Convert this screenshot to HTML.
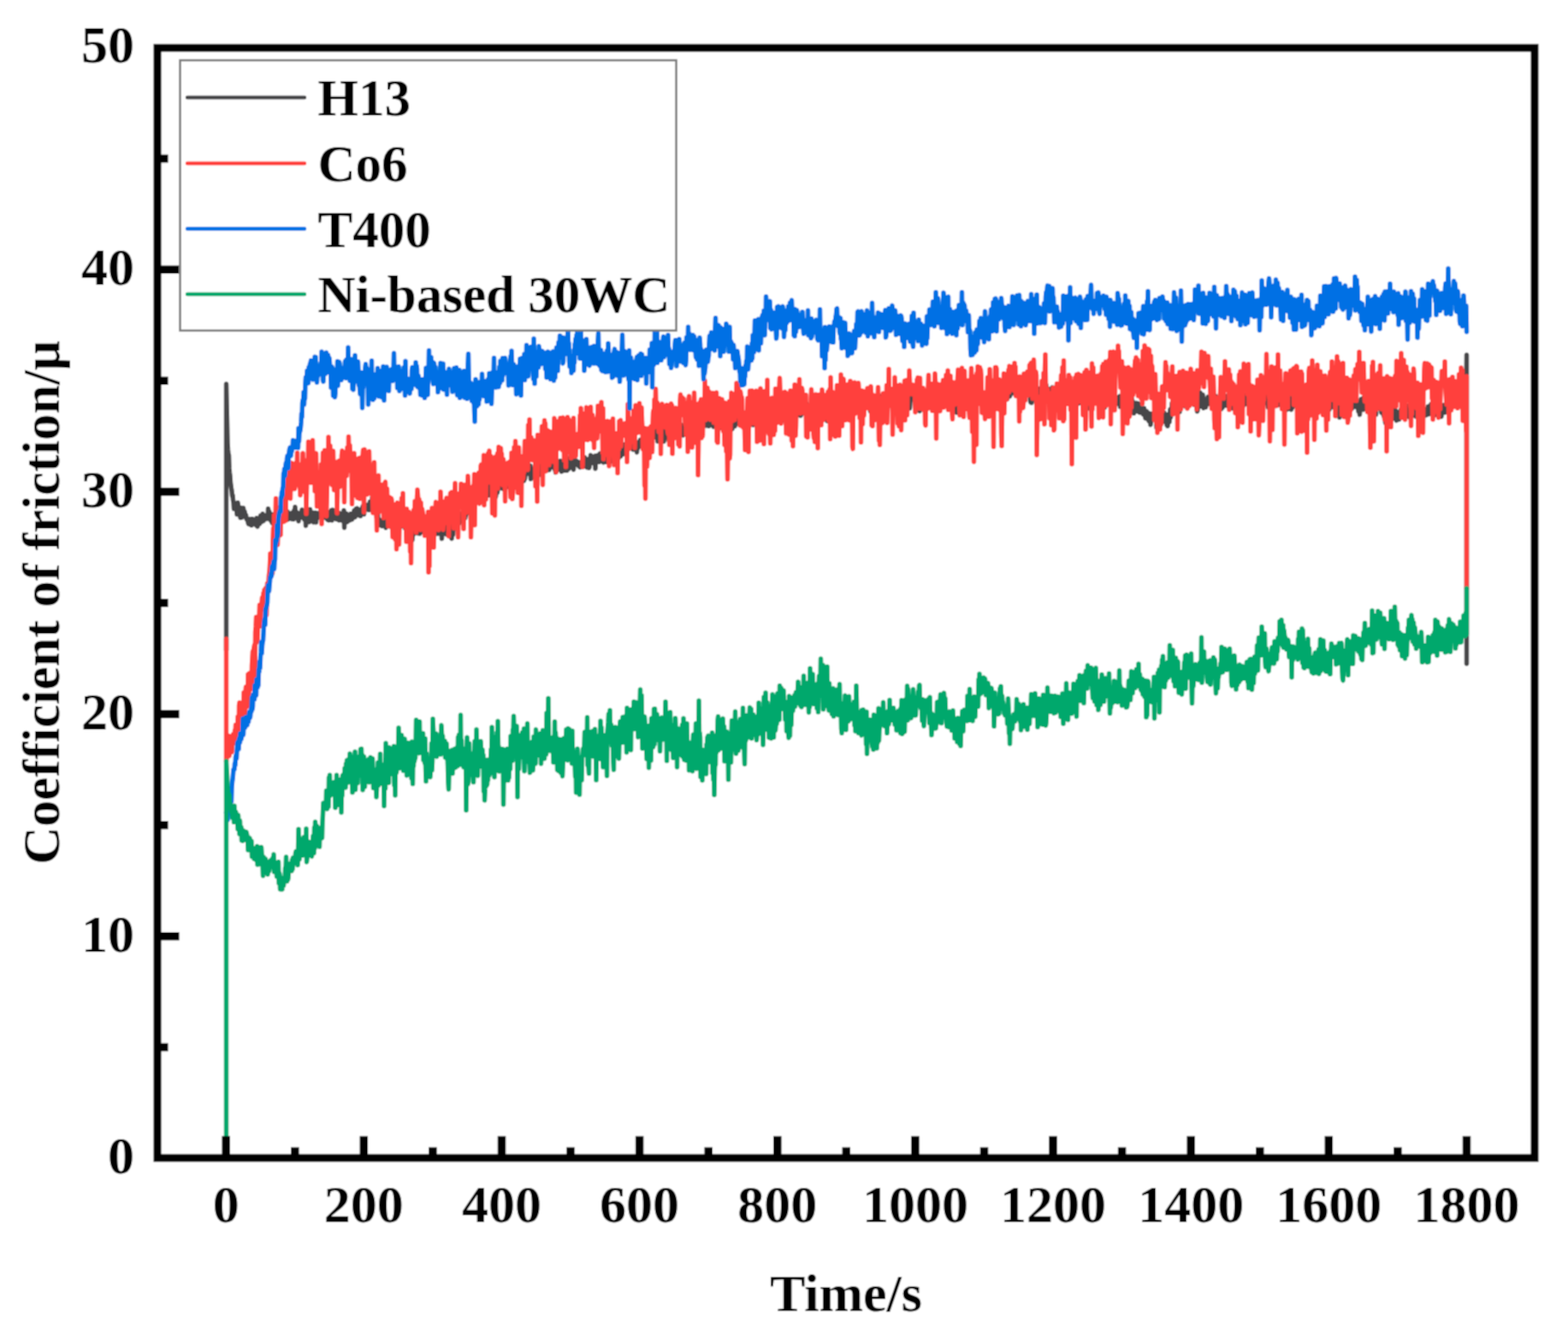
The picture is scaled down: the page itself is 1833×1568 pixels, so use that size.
<!DOCTYPE html>
<html><head><meta charset="utf-8"><title>Coefficient of friction</title>
<style>html,body{margin:0;padding:0;background:#fff;overflow:hidden}svg{display:block}</style></head><body>
<svg width="1833" height="1568" viewBox="0 0 1833 1568" style="font-family:'Liberation Serif','Times New Roman',serif;font-weight:bold">
<defs><filter id="soft" x="0" y="0" width="1" height="1" filterUnits="objectBoundingBox"><feConvolveMatrix order="3" kernelMatrix="1 2 1 2 4 2 1 2 1" divisor="16" edgeMode="duplicate" preserveAlpha="false"/></filter></defs><g filter="url(#soft)">
<rect width="1833" height="1568" fill="#ffffff"/>
<g fill="none" stroke-width="5.5" stroke-linejoin="round" stroke-linecap="round">
<path stroke="#464648" d="M264.5 760.0L264.5 449.0 266.0 517.0 266.0 517.5 266.5 525.9 267.0 531.0 267.5 532.1 268.0 547.2 268.5 552.8 269.0 556.6 269.5 564.5 270.0 567.6 270.5 571.2 271.0 574.2 271.5 579.9 272.0 579.0 272.5 584.9 273.0 587.4 273.5 595.0 274.0 593.7 274.5 593.2 275.0 592.0 275.5 594.5 276.0 596.0 276.5 595.5 277.0 601.6 277.5 600.9 278.0 587.8 278.5 591.0 279.0 597.3 279.5 596.5 280.0 598.9 280.5 598.7 281.0 605.4 281.5 593.7 282.0 596.4 282.5 605.3 283.0 600.5 283.5 601.0 284.0 597.3 284.5 593.9 285.0 601.3 285.5 602.0 286.0 598.1 286.5 601.1 287.0 604.3 287.5 602.2 288.0 606.1 288.5 607.6 289.0 608.1 289.5 606.8 290.0 611.2 290.5 612.6 291.0 610.9 291.5 607.0 292.0 612.8 292.5 608.6 293.0 613.8 293.5 606.9 294.0 614.3 294.5 611.1 295.0 606.8 295.5 610.3 296.0 611.8 296.5 612.7 297.0 608.4 297.5 607.8 298.0 612.4 298.5 609.9 299.0 612.5 299.5 614.4 300.0 605.7 300.5 612.4 301.0 615.8 301.5 610.0 302.0 607.8 302.5 613.1 303.0 610.8 303.5 612.7 304.0 607.7 304.5 603.1 305.0 607.7 305.5 606.1 306.0 610.2 306.5 607.7 307.0 600.7 307.5 602.0 308.0 609.1 308.5 608.0 309.0 602.8 309.5 604.7 310.0 605.9 310.5 605.7 311.0 606.8 311.5 604.3 312.0 602.8 312.5 602.0 313.0 606.7 313.5 594.8 314.0 602.6 314.5 603.5 315.0 598.6 315.5 605.4 316.0 602.4 316.5 608.5 317.0 605.4 317.5 608.8 318.0 611.1 318.5 608.4 319.0 603.9 319.5 601.6 320.0 613.2 320.5 606.2 321.0 603.7 321.5 606.3 322.0 604.5 322.5 607.8 323.0 604.3 323.5 603.7 324.0 600.6 324.5 604.6 325.0 598.9 325.5 604.9 326.0 607.9 326.5 596.9 327.0 593.6 327.5 604.9 328.0 612.0 328.5 599.3 329.0 598.5 329.5 605.3 330.0 600.1 330.5 601.4 331.0 601.9 331.5 605.0 332.0 601.5 332.5 603.8 333.0 601.9 333.5 599.3 334.0 601.0 334.5 598.5 335.0 601.9 335.5 597.8 336.0 598.0 336.5 607.4 337.0 602.2 337.5 602.6 338.0 605.1 338.5 602.1 339.0 603.1 339.5 605.7 340.0 605.3 340.5 600.0 341.0 606.9 341.5 601.4 342.0 599.2 342.5 599.2 343.0 600.5 343.5 607.2 344.0 596.6 344.5 601.2 345.0 592.7 345.5 600.5 346.0 603.9 346.5 600.1 347.0 599.0 347.5 602.4 348.0 604.5 348.5 604.6 349.0 609.5 349.5 603.1 350.0 600.2 350.5 601.9 351.0 602.0 351.5 602.6 352.0 602.0 352.5 602.6 353.0 595.9 353.5 605.0 354.0 599.9 354.5 597.9 355.0 604.6 355.5 607.3 356.0 604.7 356.5 603.9 357.0 600.4 357.5 614.7 358.0 608.0 358.5 601.2 359.0 602.9 359.5 606.4 360.0 600.6 360.5 606.9 361.0 604.6 361.5 610.5 362.0 609.2 362.5 595.6 363.0 605.1 363.5 598.7 364.0 608.2 364.5 604.4 365.0 605.6 365.5 599.5 366.0 609.9 366.5 610.6 367.0 599.5 367.5 604.8 368.0 601.2 368.5 603.7 369.0 599.4 369.5 610.8 370.0 600.6 370.5 603.1 371.0 606.0 371.5 601.8 372.0 603.2 372.5 601.9 373.0 603.3 373.5 599.5 374.0 602.0 374.5 602.7 375.0 602.2 375.5 603.5 376.0 602.1 376.5 605.8 377.0 601.8 377.5 602.5 378.0 600.6 378.5 601.1 379.0 598.5 379.5 605.1 380.0 599.4 380.5 601.2 381.0 605.6 381.5 606.2 382.0 603.8 382.5 598.3 383.0 607.5 383.5 607.0 384.0 600.9 384.5 608.6 385.0 602.9 385.5 600.8 386.0 604.5 386.5 602.9 387.0 603.6 387.5 596.5 388.0 608.5 388.5 599.6 389.0 596.2 389.5 604.2 390.0 600.9 390.5 603.7 391.0 601.7 391.5 603.1 392.0 604.6 392.5 601.4 393.0 606.9 393.5 603.1 394.0 602.0 394.5 605.8 395.0 607.5 395.5 605.2 396.0 603.1 396.5 608.6 397.0 599.9 397.5 602.5 398.0 606.2 398.5 600.9 399.0 605.8 399.5 605.4 400.0 608.8 400.5 602.1 401.0 603.1 401.5 606.7 402.0 596.7 402.5 617.0 403.0 603.4 403.5 603.5 404.0 609.5 404.5 606.5 405.0 600.4 405.5 609.3 406.0 610.3 406.5 605.7 407.0 606.4 407.5 609.1 408.0 603.9 408.5 608.6 409.0 607.4 409.5 603.8 410.0 600.7 410.5 604.4 411.0 601.4 411.5 607.5 412.0 603.6 412.5 605.1 413.0 602.0 413.5 601.6 414.0 597.0 414.5 601.5 415.0 604.9 415.5 596.7 416.0 595.2 416.5 596.5 417.0 595.2 417.5 594.3 418.0 597.5 418.5 596.1 419.0 602.6 419.5 597.7 420.0 599.1 420.5 601.6 421.0 597.2 421.5 603.6 422.0 596.0 422.5 595.2 423.0 596.6 423.5 597.2 424.0 592.3 424.5 596.9 425.0 590.7 425.5 601.4 426.0 595.7 426.5 593.4 427.0 592.1 427.5 593.6 428.0 593.8 428.5 590.4 429.0 590.5 429.5 592.7 430.0 591.1 430.5 595.9 431.0 596.3 431.5 591.9 432.0 593.3 432.5 586.6 433.0 593.6 433.5 591.0 434.0 592.7 434.5 596.4 435.0 582.1 435.5 592.0 436.0 587.8 436.5 594.7 437.0 588.6 437.5 592.5 438.0 596.1 438.5 598.7 439.0 598.0 439.5 596.2 440.0 598.6 440.5 605.3 441.0 603.6 441.5 599.0 442.0 609.6 442.5 609.4 443.0 612.2 443.5 608.9 444.0 614.0 444.5 607.9 445.0 614.4 445.5 610.3 446.0 614.3 446.5 615.1 447.0 608.4 447.5 610.5 448.0 610.4 448.5 614.3 449.0 612.3 449.5 605.1 450.0 611.1 450.5 612.1 451.0 617.2 451.5 603.6 452.0 608.0 452.5 615.0 453.0 605.5 453.5 606.3 454.0 612.6 454.5 614.4 455.0 608.2 455.5 612.5 456.0 610.9 456.5 615.9 457.0 610.3 457.5 614.0 458.0 607.2 458.5 610.0 459.0 610.6 459.5 615.4 460.0 613.7 460.5 609.2 461.0 614.5 461.5 614.8 462.0 611.5 462.5 610.6 463.0 610.4 463.5 604.4 464.0 610.6 464.5 610.3 465.0 605.9 465.5 611.4 466.0 603.7 466.5 606.8 467.0 607.2 467.5 616.5 468.0 603.8 468.5 612.0 469.0 613.8 469.5 612.0 470.0 615.3 470.5 607.7 471.0 603.4 471.5 614.7 472.0 608.0 472.5 611.5 473.0 608.9 473.5 617.5 474.0 617.4 474.5 612.3 475.0 618.9 475.5 616.9 476.0 616.8 476.5 618.5 477.0 618.6 477.5 622.6 478.0 622.5 478.5 621.2 479.0 627.1 479.5 622.1 480.0 626.1 480.5 627.0 481.0 631.0 481.5 623.7 482.0 631.5 482.5 625.3 483.0 623.2 483.5 620.6 484.0 624.3 484.5 621.6 485.0 616.6 485.5 615.9 486.0 617.5 486.5 616.6 487.0 622.7 487.5 623.4 488.0 621.3 488.5 619.2 489.0 616.0 489.5 617.4 490.0 620.0 490.5 624.1 491.0 619.4 491.5 614.7 492.0 615.7 492.5 613.6 493.0 612.5 493.5 614.7 494.0 616.1 494.5 622.2 495.0 615.9 495.5 620.9 496.0 622.7 496.5 616.8 497.0 622.6 497.5 619.6 498.0 615.7 498.5 618.3 499.0 617.6 499.5 616.7 500.0 616.8 500.5 617.9 501.0 618.8 501.5 613.8 502.0 616.7 502.5 611.0 503.0 617.2 503.5 618.2 504.0 616.3 504.5 616.5 505.0 617.5 505.5 613.0 506.0 614.6 506.5 617.5 507.0 619.5 507.5 617.7 508.0 625.9 508.5 616.7 509.0 621.0 509.5 622.4 510.0 617.7 510.5 615.6 511.0 614.8 511.5 620.1 512.0 624.0 512.5 621.4 513.0 621.6 513.5 620.1 514.0 623.9 514.5 614.4 515.0 623.2 515.5 622.5 516.0 617.2 516.5 629.8 517.0 616.5 517.5 617.3 518.0 616.4 518.5 624.3 519.0 616.6 519.5 621.9 520.0 621.3 520.5 619.9 521.0 614.1 521.5 616.6 522.0 624.9 522.5 614.3 523.0 616.2 523.5 618.9 524.0 622.7 524.5 621.1 525.0 623.3 525.5 617.1 526.0 624.7 526.5 623.5 527.0 615.8 527.5 627.2 528.0 629.8 528.5 618.5 529.0 621.1 529.5 625.5 530.0 614.5 530.5 611.4 531.0 612.8 531.5 614.3 532.0 613.2 532.5 616.5 533.0 614.5 533.5 608.2 534.0 614.1 534.5 618.2 535.0 615.1 535.5 613.7 536.0 609.4 536.5 612.1 537.0 604.3 537.5 609.7 538.0 605.9 538.5 609.6 539.0 606.7 539.5 600.6 540.0 604.7 540.5 608.3 541.0 599.5 541.5 601.3 542.0 600.2 542.5 597.1 543.0 605.4 543.5 606.1 544.0 603.6 544.5 600.9 545.0 599.2 545.5 599.3 546.0 594.8 546.5 599.9 547.0 599.6 547.5 598.5 548.0 592.4 548.5 593.8 549.0 592.0 549.5 598.1 550.0 591.2 550.5 582.5 551.0 589.4 551.5 593.4 552.0 587.7 552.5 587.0 553.0 582.5 553.5 573.9 554.0 573.2 554.5 574.1 555.0 576.9 555.5 577.3 556.0 577.5 556.5 572.6 557.0 576.2 557.5 570.6 558.0 568.0 558.5 572.6 559.0 565.2 559.5 557.7 560.0 562.7 560.5 567.1 561.0 555.8 561.5 565.9 562.0 566.3 562.5 562.7 563.0 562.9 563.5 567.1 564.0 567.4 564.5 574.5 565.0 571.9 565.5 565.5 566.0 568.7 566.5 574.9 567.0 579.6 567.5 574.5 568.0 574.4 568.5 580.0 569.0 573.1 569.5 571.8 570.0 567.4 570.5 570.1 571.0 579.3 571.5 565.8 572.0 570.5 572.5 564.9 573.0 570.1 573.5 572.7 574.0 568.4 574.5 572.0 575.0 572.1 575.5 571.3 576.0 576.2 576.5 573.1 577.0 569.6 577.5 568.5 578.0 568.2 578.5 573.1 579.0 570.3 579.5 581.2 580.0 577.7 580.5 569.9 581.0 569.0 581.5 575.8 582.0 562.3 582.5 566.9 583.0 571.6 583.5 564.5 584.0 565.9 584.5 566.3 585.0 570.0 585.5 568.0 586.0 569.0 586.5 569.7 587.0 567.6 587.5 571.5 588.0 564.8 588.5 562.2 589.0 560.8 589.5 561.1 590.0 564.6 590.5 569.9 591.0 566.4 591.5 563.2 592.0 561.1 592.5 562.8 593.0 563.1 593.5 562.6 594.0 559.7 594.5 563.6 595.0 569.5 595.5 558.5 596.0 566.0 596.5 559.7 597.0 568.3 597.5 565.0 598.0 560.1 598.5 567.8 599.0 573.6 599.5 567.0 600.0 570.3 600.5 565.4 601.0 557.4 601.5 566.6 602.0 563.0 602.5 559.0 603.0 567.0 603.5 565.0 604.0 561.9 604.5 566.8 605.0 560.2 605.5 565.3 606.0 559.2 606.5 564.1 607.0 557.8 607.5 566.7 608.0 561.8 608.5 565.6 609.0 557.1 609.5 558.1 610.0 562.6 610.5 549.4 611.0 555.3 611.5 562.7 612.0 560.5 612.5 562.2 613.0 557.2 613.5 560.0 614.0 554.9 614.5 552.0 615.0 550.3 615.5 553.8 616.0 553.2 616.5 552.3 617.0 541.2 617.5 546.4 618.0 551.4 618.5 554.1 619.0 550.9 619.5 549.7 620.0 544.5 620.5 560.1 621.0 548.8 621.5 558.8 622.0 558.2 622.5 553.5 623.0 550.4 623.5 553.0 624.0 548.4 624.5 553.6 625.0 552.8 625.5 554.9 626.0 556.7 626.5 559.7 627.0 552.1 627.5 557.3 628.0 550.6 628.5 550.0 629.0 550.6 629.5 548.8 630.0 555.3 630.5 554.4 631.0 555.0 631.5 549.6 632.0 550.1 632.5 546.5 633.0 543.9 633.5 549.3 634.0 548.5 634.5 543.3 635.0 549.3 635.5 540.8 636.0 546.4 636.5 544.6 637.0 544.9 637.5 542.7 638.0 549.8 638.5 548.2 639.0 550.2 639.5 546.1 640.0 540.7 640.5 543.9 641.0 540.9 641.5 546.8 642.0 549.5 642.5 546.3 643.0 542.9 643.5 543.7 644.0 545.8 644.5 539.9 645.0 545.7 645.5 546.0 646.0 543.4 646.5 544.0 647.0 546.3 647.5 542.9 648.0 543.0 648.5 548.9 649.0 547.0 649.5 552.4 650.0 542.8 650.5 540.0 651.0 549.9 651.5 550.1 652.0 544.1 652.5 541.5 653.0 546.7 653.5 540.6 654.0 545.7 654.5 538.9 655.0 545.8 655.5 538.9 656.0 545.5 656.5 551.6 657.0 545.0 657.5 548.6 658.0 543.3 658.5 542.2 659.0 539.8 659.5 548.7 660.0 544.5 660.5 550.3 661.0 539.9 661.5 543.2 662.0 544.0 662.5 548.7 663.0 550.1 663.5 541.1 664.0 539.4 664.5 537.2 665.0 548.3 665.5 543.1 666.0 541.0 666.5 543.1 667.0 533.9 667.5 536.8 668.0 546.4 668.5 544.4 669.0 543.4 669.5 539.2 670.0 544.9 670.5 549.2 671.0 538.2 671.5 542.6 672.0 540.8 672.5 543.6 673.0 542.2 673.5 541.6 674.0 538.9 674.5 542.1 675.0 540.0 675.5 541.7 676.0 542.2 676.5 544.9 677.0 540.5 677.5 541.5 678.0 546.6 678.5 541.9 679.0 541.7 679.5 545.7 680.0 543.3 680.5 542.4 681.0 542.6 681.5 536.9 682.0 542.7 682.5 545.6 683.0 542.7 683.5 534.8 684.0 541.5 684.5 537.3 685.0 540.0 685.5 541.6 686.0 537.1 686.5 546.6 687.0 541.9 687.5 545.2 688.0 544.6 688.5 547.1 689.0 546.2 689.5 536.0 690.0 540.9 690.5 532.2 691.0 537.5 691.5 540.8 692.0 540.7 692.5 541.3 693.0 534.6 693.5 536.5 694.0 535.2 694.5 539.1 695.0 540.1 695.5 533.0 696.0 548.0 696.5 534.3 697.0 533.0 697.5 536.6 698.0 537.2 698.5 536.5 699.0 532.2 699.5 540.0 700.0 534.9 700.5 540.3 701.0 539.8 701.5 530.3 702.0 531.5 702.5 531.7 703.0 536.4 703.5 535.9 704.0 536.7 704.5 532.9 705.0 537.3 705.5 540.8 706.0 530.6 706.5 534.6 707.0 535.9 707.5 534.1 708.0 533.5 708.5 540.2 709.0 537.9 709.5 535.9 710.0 529.6 710.5 540.1 711.0 533.0 711.5 529.5 712.0 530.4 712.5 530.2 713.0 540.1 713.5 533.7 714.0 533.8 714.5 526.4 715.0 537.5 715.5 531.4 716.0 531.6 716.5 538.2 717.0 533.0 717.5 539.3 718.0 540.4 718.5 529.7 719.0 535.7 719.5 530.3 720.0 535.6 720.5 538.9 721.0 530.2 721.5 541.4 722.0 533.2 722.5 529.4 723.0 532.6 723.5 535.3 724.0 526.6 724.5 530.8 725.0 525.0 725.5 533.6 726.0 529.0 726.5 526.0 727.0 530.6 727.5 521.3 728.0 523.8 728.5 531.2 729.0 523.3 729.5 528.0 730.0 523.2 730.5 519.4 731.0 520.6 731.5 521.4 732.0 519.3 732.5 517.4 733.0 517.3 733.5 514.4 734.0 520.0 734.5 520.9 735.0 522.0 735.5 512.6 736.0 522.3 736.5 519.5 737.0 514.6 737.5 520.6 738.0 523.7 738.5 523.1 739.0 524.3 739.5 525.5 740.0 525.6 740.5 522.4 741.0 515.0 741.5 520.0 742.0 524.1 742.5 521.0 743.0 525.2 743.5 525.5 744.0 522.4 744.5 528.9 745.0 518.0 745.5 524.5 746.0 518.8 746.5 517.1 747.0 521.6 747.5 516.7 748.0 521.9 748.5 514.2 749.0 518.6 749.5 515.5 750.0 517.9 750.5 517.6 751.0 515.0 751.5 521.7 752.0 514.7 752.5 515.6 753.0 522.4 753.5 522.5 754.0 521.0 754.5 519.4 755.0 526.1 755.5 512.6 756.0 513.8 756.5 512.3 757.0 518.8 757.5 516.1 758.0 518.7 758.5 517.8 759.0 513.0 759.5 510.5 760.0 509.6 760.5 521.2 761.0 516.2 761.5 514.4 762.0 510.5 762.5 510.5 763.0 509.5 763.5 509.0 764.0 500.8 764.5 509.0 765.0 507.4 765.5 509.6 766.0 509.1 766.5 511.5 767.0 508.4 767.5 511.6 768.0 499.4 768.5 505.2 769.0 516.1 769.5 505.5 770.0 509.1 770.5 512.9 771.0 506.8 771.5 512.6 772.0 504.2 772.5 501.9 773.0 503.5 773.5 501.8 774.0 507.4 774.5 505.9 775.0 508.1 775.5 502.8 776.0 516.2 776.5 506.4 777.0 506.8 777.5 508.9 778.0 506.6 778.5 505.4 779.0 508.3 779.5 511.5 780.0 510.6 780.5 511.6 781.0 505.8 781.5 504.8 782.0 514.8 782.5 505.9 783.0 507.9 783.5 508.1 784.0 509.9 784.5 498.6 785.0 500.9 785.5 500.2 786.0 499.9 786.5 491.4 787.0 499.6 787.5 488.9 788.0 501.0 788.5 502.1 789.0 502.8 789.5 496.6 790.0 505.4 790.5 499.2 791.0 498.4 791.5 499.8 792.0 500.7 792.5 504.8 793.0 507.4 793.5 496.4 794.0 502.2 794.5 507.5 795.0 504.7 795.5 505.6 796.0 497.8 796.5 506.7 797.0 496.9 797.5 503.2 798.0 507.3 798.5 509.0 799.0 503.6 799.5 504.8 800.0 499.2 800.5 499.7 801.0 506.0 801.5 501.6 802.0 501.1 802.5 496.3 803.0 502.0 803.5 503.7 804.0 498.0 804.5 498.9 805.0 506.5 805.5 501.0 806.0 499.1 806.5 495.8 807.0 497.7 807.5 499.2 808.0 505.4 808.5 498.0 809.0 507.2 809.5 497.0 810.0 499.3 810.5 503.9 811.0 500.0 811.5 497.8 812.0 500.6 812.5 502.7 813.0 494.5 813.5 499.8 814.0 500.0 814.5 498.5 815.0 502.2 815.5 496.5 816.0 496.5 816.5 497.2 817.0 498.9 817.5 494.4 818.0 500.1 818.5 490.1 819.0 497.8 819.5 489.0 820.0 491.2 820.5 492.9 821.0 499.2 821.5 494.8 822.0 490.0 822.5 496.7 823.0 491.3 823.5 489.6 824.0 494.8 824.5 493.9 825.0 497.7 825.5 492.3 826.0 496.1 826.5 497.3 827.0 496.0 827.5 494.9 828.0 492.3 828.5 498.3 829.0 495.3 829.5 496.6 830.0 493.3 830.5 494.5 831.0 490.4 831.5 494.6 832.0 497.0 832.5 494.3 833.0 497.1 833.5 495.0 834.0 498.9 834.5 493.0 835.0 487.5 835.5 495.5 836.0 493.2 836.5 490.2 837.0 496.4 837.5 494.9 838.0 495.6 838.5 492.5 839.0 494.4 839.5 494.5 840.0 500.2 840.5 490.6 841.0 493.0 841.5 494.2 842.0 485.9 842.5 486.0 843.0 500.2 843.5 484.8 844.0 493.5 844.5 487.9 845.0 488.1 845.5 483.5 846.0 487.7 846.5 494.4 847.0 486.3 847.5 494.1 848.0 493.3 848.5 500.0 849.0 490.6 849.5 497.3 850.0 495.8 850.5 491.2 851.0 485.8 851.5 497.9 852.0 486.7 852.5 490.1 853.0 495.3 853.5 496.3 854.0 488.7 854.5 491.9 855.0 491.1 855.5 496.7 856.0 501.7 856.5 484.9 857.0 495.3 857.5 480.5 858.0 491.4 858.5 486.8 859.0 498.5 859.5 491.2 860.0 487.5 860.5 488.3 861.0 487.8 861.5 490.6 862.0 489.1 862.5 492.1 863.0 495.3 863.5 491.8 864.0 484.1 864.5 482.3 865.0 485.3 865.5 491.9 866.0 486.2 866.5 484.5 867.0 487.2 867.5 480.8 868.0 481.4 868.5 487.5 869.0 484.1 869.5 483.4 870.0 486.3 870.5 482.9 871.0 482.7 871.5 483.9 872.0 488.5 872.5 486.9 873.0 482.5 873.5 486.5 874.0 490.6 874.5 495.7 875.0 484.2 875.5 490.1 876.0 487.8 876.5 491.9 877.0 490.3 877.5 494.1 878.0 490.2 878.5 485.9 879.0 485.7 879.5 489.2 880.0 489.1 880.5 496.9 881.0 494.0 881.5 482.9 882.0 488.7 882.5 481.9 883.0 480.3 883.5 489.1 884.0 487.7 884.5 480.7 885.0 490.2 885.5 479.1 886.0 477.4 886.5 483.7 887.0 481.3 887.5 479.2 888.0 479.3 888.5 480.3 889.0 479.0 889.5 479.1 890.0 472.8 890.5 475.4 891.0 483.6 891.5 479.0 892.0 484.3 892.5 487.3 893.0 481.3 893.5 483.9 894.0 490.9 894.5 485.4 895.0 489.8 895.5 488.4 896.0 485.2 896.5 481.7 897.0 478.8 897.5 477.7 898.0 483.9 898.5 483.8 899.0 481.1 899.5 484.9 900.0 479.0 900.5 485.5 901.0 481.0 901.5 480.4 902.0 480.3 902.5 479.8 903.0 489.8 903.5 473.7 904.0 480.7 904.5 485.0 905.0 483.1 905.5 479.2 906.0 487.4 906.5 476.4 907.0 475.5 907.5 482.9 908.0 475.0 908.5 471.4 909.0 484.4 909.5 484.1 910.0 484.3 910.5 480.0 911.0 483.1 911.5 479.2 912.0 490.4 912.5 487.3 913.0 487.7 913.5 477.5 914.0 488.7 914.5 491.7 915.0 490.7 915.5 488.9 916.0 485.6 916.5 483.8 917.0 486.9 917.5 485.4 918.0 484.0 918.5 481.0 919.0 488.0 919.5 475.9 920.0 479.7 920.5 476.8 921.0 482.7 921.5 483.9 922.0 482.9 922.5 480.8 923.0 472.2 923.5 486.1 924.0 480.1 924.5 477.8 925.0 478.6 925.5 477.5 926.0 480.9 926.5 480.8 927.0 478.5 927.5 470.0 928.0 480.3 928.5 482.5 929.0 482.8 929.5 480.1 930.0 482.4 930.5 484.5 931.0 478.4 931.5 485.9 932.0 472.1 932.5 474.7 933.0 476.0 933.5 469.7 934.0 475.4 934.5 484.3 935.0 484.2 935.5 479.7 936.0 486.1 936.5 480.2 937.0 477.3 937.5 480.3 938.0 478.8 938.5 482.2 939.0 473.1 939.5 482.9 940.0 476.8 940.5 481.7 941.0 471.9 941.5 476.1 942.0 477.8 942.5 480.8 943.0 472.2 943.5 483.5 944.0 478.6 944.5 474.4 945.0 481.2 945.5 476.7 946.0 480.9 946.5 485.5 947.0 479.4 947.5 474.3 948.0 474.8 948.5 479.1 949.0 478.1 949.5 473.8 950.0 474.5 950.5 479.9 951.0 486.6 951.5 466.6 952.0 479.9 952.5 476.0 953.0 479.9 953.5 480.2 954.0 477.1 954.5 472.9 955.0 471.6 955.5 469.9 956.0 482.6 956.5 477.1 957.0 476.0 957.5 477.2 958.0 473.2 958.5 479.9 959.0 484.2 959.5 483.7 960.0 473.1 960.5 485.0 961.0 476.6 961.5 472.1 962.0 474.9 962.5 475.9 963.0 479.8 963.5 475.6 964.0 473.8 964.5 478.9 965.0 487.9 965.5 477.6 966.0 482.7 966.5 481.5 967.0 492.2 967.5 474.1 968.0 486.2 968.5 476.6 969.0 479.1 969.5 480.8 970.0 493.6 970.5 477.3 971.0 472.4 971.5 484.9 972.0 475.9 972.5 478.0 973.0 478.6 973.5 478.8 974.0 477.3 974.5 478.6 975.0 478.5 975.5 479.8 976.0 474.0 976.5 472.1 977.0 470.2 977.5 476.3 978.0 473.2 978.5 475.3 979.0 474.9 979.5 479.3 980.0 473.1 980.5 475.2 981.0 467.1 981.5 467.5 982.0 470.5 982.5 466.7 983.0 474.3 983.5 466.0 984.0 471.6 984.5 461.4 985.0 467.0 985.5 470.4 986.0 471.1 986.5 465.4 987.0 473.7 987.5 477.9 988.0 477.3 988.5 472.7 989.0 473.7 989.5 471.9 990.0 479.8 990.5 483.6 991.0 475.9 991.5 471.4 992.0 479.1 992.5 481.2 993.0 467.1 993.5 478.4 994.0 486.3 994.5 480.5 995.0 479.0 995.5 478.0 996.0 480.3 996.5 471.7 997.0 471.8 997.5 476.6 998.0 471.9 998.5 475.5 999.0 466.4 999.5 477.1 1000.0 477.2 1000.5 473.7 1001.0 474.1 1001.5 479.9 1002.0 468.8 1002.5 469.6 1003.0 469.0 1003.5 471.9 1004.0 469.8 1004.5 474.3 1005.0 471.8 1005.5 468.7 1006.0 468.4 1006.5 479.6 1007.0 474.3 1007.5 473.3 1008.0 474.0 1008.5 473.1 1009.0 476.0 1009.5 474.7 1010.0 469.5 1010.5 468.0 1011.0 466.4 1011.5 465.2 1012.0 475.6 1012.5 465.7 1013.0 460.9 1013.5 465.4 1014.0 465.4 1014.5 469.8 1015.0 464.8 1015.5 470.6 1016.0 470.1 1016.5 473.9 1017.0 477.8 1017.5 481.0 1018.0 475.2 1018.5 465.4 1019.0 468.9 1019.5 471.8 1020.0 479.5 1020.5 474.1 1021.0 476.3 1021.5 470.8 1022.0 473.9 1022.5 474.4 1023.0 469.6 1023.5 474.7 1024.0 475.9 1024.5 470.9 1025.0 475.7 1025.5 478.3 1026.0 471.8 1026.5 471.4 1027.0 470.0 1027.5 468.5 1028.0 471.5 1028.5 468.8 1029.0 468.9 1029.5 466.7 1030.0 463.3 1030.5 465.5 1031.0 470.5 1031.5 464.2 1032.0 466.6 1032.5 476.1 1033.0 474.4 1033.5 467.5 1034.0 473.4 1034.5 468.8 1035.0 478.7 1035.5 470.1 1036.0 473.1 1036.5 478.6 1037.0 469.5 1037.5 478.0 1038.0 468.9 1038.5 472.7 1039.0 469.9 1039.5 470.0 1040.0 470.3 1040.5 468.6 1041.0 464.1 1041.5 471.3 1042.0 470.3 1042.5 472.4 1043.0 472.7 1043.5 461.7 1044.0 472.7 1044.5 473.2 1045.0 466.2 1045.5 473.1 1046.0 475.4 1046.5 467.6 1047.0 464.6 1047.5 469.0 1048.0 482.0 1048.5 471.7 1049.0 465.8 1049.5 469.7 1050.0 466.5 1050.5 468.6 1051.0 470.3 1051.5 459.1 1052.0 470.5 1052.5 474.3 1053.0 467.3 1053.5 466.0 1054.0 471.6 1054.5 461.7 1055.0 461.6 1055.5 460.9 1056.0 465.9 1056.5 468.3 1057.0 466.6 1057.5 469.6 1058.0 471.1 1058.5 470.2 1059.0 465.2 1059.5 467.8 1060.0 474.1 1060.5 464.9 1061.0 468.1 1061.5 467.2 1062.0 467.9 1062.5 463.7 1063.0 462.1 1063.5 477.4 1064.0 470.2 1064.5 462.8 1065.0 464.8 1065.5 467.3 1066.0 462.8 1066.5 466.5 1067.0 461.5 1067.5 462.8 1068.0 464.3 1068.5 463.5 1069.0 456.0 1069.5 466.9 1070.0 468.7 1070.5 470.4 1071.0 465.2 1071.5 471.4 1072.0 471.5 1072.5 463.9 1073.0 462.6 1073.5 473.9 1074.0 468.3 1074.5 476.3 1075.0 480.8 1075.5 469.4 1076.0 468.4 1076.5 470.4 1077.0 472.3 1077.5 463.8 1078.0 472.5 1078.5 470.4 1079.0 468.1 1079.5 462.5 1080.0 467.9 1080.5 467.4 1081.0 459.0 1081.5 472.7 1082.0 463.5 1082.5 467.0 1083.0 464.3 1083.5 469.1 1084.0 473.2 1084.5 466.2 1085.0 463.5 1085.5 469.1 1086.0 466.0 1086.5 468.4 1087.0 471.0 1087.5 471.0 1088.0 476.3 1088.5 466.6 1089.0 471.9 1089.5 468.1 1090.0 475.6 1090.5 480.3 1091.0 471.3 1091.5 477.0 1092.0 468.2 1092.5 463.9 1093.0 465.2 1093.5 463.8 1094.0 466.0 1094.5 468.4 1095.0 473.5 1095.5 470.8 1096.0 469.0 1096.5 464.5 1097.0 462.5 1097.5 464.8 1098.0 464.7 1098.5 464.8 1099.0 465.1 1099.5 463.1 1100.0 455.9 1100.5 459.4 1101.0 460.9 1101.5 471.4 1102.0 463.0 1102.5 467.6 1103.0 470.8 1103.5 466.1 1104.0 462.9 1104.5 463.1 1105.0 459.9 1105.5 465.2 1106.0 468.5 1106.5 466.2 1107.0 467.2 1107.5 467.3 1108.0 473.0 1108.5 462.7 1109.0 466.5 1109.5 469.2 1110.0 472.0 1110.5 457.5 1111.0 465.8 1111.5 467.5 1112.0 464.6 1112.5 472.6 1113.0 470.4 1113.5 468.2 1114.0 463.5 1114.5 465.1 1115.0 466.8 1115.5 473.0 1116.0 466.5 1116.5 463.4 1117.0 466.1 1117.5 469.8 1118.0 479.2 1118.5 482.5 1119.0 470.1 1119.5 475.5 1120.0 476.7 1120.5 475.4 1121.0 468.7 1121.5 462.7 1122.0 464.9 1122.5 458.2 1123.0 465.8 1123.5 467.1 1124.0 455.6 1124.5 462.6 1125.0 463.8 1125.5 467.5 1126.0 468.0 1126.5 465.7 1127.0 459.8 1127.5 461.3 1128.0 467.9 1128.5 460.8 1129.0 463.4 1129.5 470.3 1130.0 464.8 1130.5 459.0 1131.0 463.7 1131.5 467.8 1132.0 464.5 1132.5 470.1 1133.0 470.5 1133.5 462.5 1134.0 462.8 1134.5 464.1 1135.0 459.2 1135.5 465.2 1136.0 462.5 1136.5 466.1 1137.0 460.1 1137.5 458.6 1138.0 469.3 1138.5 457.9 1139.0 458.8 1139.5 457.8 1140.0 459.1 1140.5 456.3 1141.0 459.6 1141.5 456.6 1142.0 457.7 1142.5 460.9 1143.0 462.4 1143.5 461.8 1144.0 457.3 1144.5 462.4 1145.0 460.9 1145.5 461.6 1146.0 455.8 1146.5 466.3 1147.0 463.7 1147.5 472.0 1148.0 468.4 1148.5 461.9 1149.0 461.4 1149.5 472.1 1150.0 464.1 1150.5 470.4 1151.0 466.2 1151.5 475.5 1152.0 466.7 1152.5 471.7 1153.0 470.1 1153.5 461.8 1154.0 461.4 1154.5 467.9 1155.0 461.1 1155.5 456.8 1156.0 464.6 1156.5 469.7 1157.0 458.6 1157.5 464.2 1158.0 457.6 1158.5 463.6 1159.0 457.1 1159.5 463.6 1160.0 460.5 1160.5 457.9 1161.0 459.9 1161.5 457.2 1162.0 455.3 1162.5 456.0 1163.0 460.6 1163.5 456.9 1164.0 463.4 1164.5 464.0 1165.0 463.9 1165.5 460.1 1166.0 462.3 1166.5 461.8 1167.0 467.1 1167.5 458.1 1168.0 459.5 1168.5 459.8 1169.0 459.8 1169.5 456.9 1170.0 457.1 1170.5 463.5 1171.0 456.5 1171.5 462.6 1172.0 466.9 1172.5 463.6 1173.0 450.7 1173.5 460.9 1174.0 459.5 1174.5 459.4 1175.0 450.3 1175.5 459.8 1176.0 452.1 1176.5 461.6 1177.0 460.7 1177.5 466.7 1178.0 454.8 1178.5 450.4 1179.0 461.1 1179.5 460.7 1180.0 455.9 1180.5 463.4 1181.0 461.1 1181.5 453.4 1182.0 457.4 1182.5 457.1 1183.0 458.3 1183.5 459.3 1184.0 455.4 1184.5 457.0 1185.0 459.7 1185.5 456.5 1186.0 455.3 1186.5 454.8 1187.0 455.4 1187.5 447.8 1188.0 456.2 1188.5 451.3 1189.0 456.0 1189.5 449.6 1190.0 459.5 1190.5 456.9 1191.0 450.6 1191.5 457.3 1192.0 453.5 1192.5 464.1 1193.0 458.9 1193.5 453.8 1194.0 458.1 1194.5 457.2 1195.0 462.3 1195.5 458.9 1196.0 459.7 1196.5 453.2 1197.0 461.0 1197.5 466.4 1198.0 460.5 1198.5 457.8 1199.0 458.6 1199.5 454.1 1200.0 458.7 1200.5 453.6 1201.0 458.4 1201.5 456.9 1202.0 455.5 1202.5 461.8 1203.0 454.0 1203.5 460.6 1204.0 456.1 1204.5 469.5 1205.0 470.7 1205.5 466.4 1206.0 470.9 1206.5 465.6 1207.0 465.3 1207.5 461.0 1208.0 458.7 1208.5 462.3 1209.0 459.1 1209.5 459.0 1210.0 463.2 1210.5 459.3 1211.0 453.1 1211.5 458.4 1212.0 456.0 1212.5 457.8 1213.0 454.5 1213.5 463.9 1214.0 466.8 1214.5 454.5 1215.0 461.7 1215.5 461.6 1216.0 454.8 1216.5 459.6 1217.0 465.0 1217.5 462.7 1218.0 466.0 1218.5 454.8 1219.0 456.7 1219.5 461.2 1220.0 461.7 1220.5 460.6 1221.0 459.1 1221.5 459.2 1222.0 458.6 1222.5 463.0 1223.0 449.9 1223.5 467.7 1224.0 458.9 1224.5 455.0 1225.0 462.8 1225.5 454.5 1226.0 461.5 1226.5 457.9 1227.0 461.6 1227.5 462.2 1228.0 464.1 1228.5 456.7 1229.0 457.5 1229.5 458.7 1230.0 453.1 1230.5 461.3 1231.0 459.5 1231.5 453.5 1232.0 463.9 1232.5 464.5 1233.0 453.6 1233.5 461.3 1234.0 464.1 1234.5 462.6 1235.0 455.4 1235.5 453.9 1236.0 459.4 1236.5 458.1 1237.0 460.2 1237.5 460.0 1238.0 462.5 1238.5 458.0 1239.0 459.4 1239.5 471.9 1240.0 458.9 1240.5 462.2 1241.0 460.1 1241.5 459.7 1242.0 455.2 1242.5 461.2 1243.0 459.3 1243.5 463.4 1244.0 469.1 1244.5 462.2 1245.0 465.3 1245.5 458.8 1246.0 464.0 1246.5 470.2 1247.0 463.8 1247.5 461.4 1248.0 464.5 1248.5 462.4 1249.0 461.5 1249.5 460.2 1250.0 469.1 1250.5 456.7 1251.0 458.0 1251.5 456.9 1252.0 463.9 1252.5 457.7 1253.0 464.2 1253.5 459.9 1254.0 459.6 1254.5 454.3 1255.0 465.9 1255.5 464.0 1256.0 464.4 1256.5 463.2 1257.0 462.9 1257.5 460.2 1258.0 469.8 1258.5 467.5 1259.0 465.2 1259.5 464.0 1260.0 466.8 1260.5 465.4 1261.0 471.8 1261.5 467.5 1262.0 461.1 1262.5 458.3 1263.0 461.3 1263.5 458.1 1264.0 461.9 1264.5 463.2 1265.0 464.3 1265.5 463.6 1266.0 461.5 1266.5 465.1 1267.0 459.3 1267.5 462.9 1268.0 466.7 1268.5 464.7 1269.0 458.5 1269.5 459.1 1270.0 457.4 1270.5 471.5 1271.0 458.1 1271.5 464.1 1272.0 472.4 1272.5 469.6 1273.0 470.8 1273.5 463.6 1274.0 468.7 1274.5 478.2 1275.0 465.7 1275.5 467.5 1276.0 464.5 1276.5 465.7 1277.0 467.2 1277.5 471.4 1278.0 462.0 1278.5 459.9 1279.0 465.8 1279.5 466.6 1280.0 471.5 1280.5 468.7 1281.0 463.2 1281.5 468.0 1282.0 470.3 1282.5 466.9 1283.0 464.3 1283.5 468.5 1284.0 464.4 1284.5 458.3 1285.0 471.5 1285.5 461.1 1286.0 465.2 1286.5 465.6 1287.0 465.9 1287.5 466.4 1288.0 462.0 1288.5 470.3 1289.0 468.5 1289.5 468.7 1290.0 473.1 1290.5 473.3 1291.0 474.3 1291.5 476.5 1292.0 470.8 1292.5 462.7 1293.0 469.7 1293.5 468.7 1294.0 468.7 1294.5 465.6 1295.0 463.9 1295.5 470.2 1296.0 470.4 1296.5 461.4 1297.0 467.8 1297.5 464.6 1298.0 463.6 1298.5 468.1 1299.0 465.4 1299.5 463.7 1300.0 466.6 1300.5 458.7 1301.0 464.8 1301.5 465.6 1302.0 461.9 1302.5 468.4 1303.0 468.7 1303.5 465.1 1304.0 466.8 1304.5 470.2 1305.0 471.8 1305.5 464.4 1306.0 468.9 1306.5 471.9 1307.0 467.6 1307.5 464.6 1308.0 464.7 1308.5 466.4 1309.0 463.4 1309.5 475.6 1310.0 464.8 1310.5 468.5 1311.0 467.5 1311.5 469.2 1312.0 465.1 1312.5 461.5 1313.0 473.7 1313.5 467.1 1314.0 468.4 1314.5 469.2 1315.0 474.1 1315.5 472.5 1316.0 474.5 1316.5 473.2 1317.0 470.4 1317.5 470.6 1318.0 466.1 1318.5 460.8 1319.0 467.2 1319.5 463.2 1320.0 477.6 1320.5 473.6 1321.0 472.3 1321.5 465.8 1322.0 477.1 1322.5 462.7 1323.0 465.7 1323.5 468.5 1324.0 468.8 1324.5 474.3 1325.0 475.4 1325.5 483.2 1326.0 480.1 1326.5 481.4 1327.0 478.5 1327.5 476.4 1328.0 474.4 1328.5 471.2 1329.0 474.0 1329.5 476.2 1330.0 481.3 1330.5 471.8 1331.0 473.6 1331.5 480.7 1332.0 476.2 1332.5 482.5 1333.0 480.1 1333.5 479.2 1334.0 477.3 1334.5 482.7 1335.0 480.5 1335.5 481.2 1336.0 481.2 1336.5 484.7 1337.0 484.6 1337.5 477.2 1338.0 483.7 1338.5 486.1 1339.0 489.0 1339.5 488.2 1340.0 486.1 1340.5 481.0 1341.0 482.8 1341.5 490.0 1342.0 483.7 1342.5 491.0 1343.0 492.4 1343.5 483.2 1344.0 489.6 1344.5 487.7 1345.0 496.7 1345.5 491.6 1346.0 485.9 1346.5 489.4 1347.0 483.7 1347.5 486.6 1348.0 488.0 1348.5 487.8 1349.0 488.6 1349.5 484.0 1350.0 480.7 1350.5 487.4 1351.0 486.0 1351.5 487.5 1352.0 499.8 1352.5 496.6 1353.0 491.8 1353.5 487.2 1354.0 488.2 1354.5 495.2 1355.0 498.2 1355.5 492.5 1356.0 494.0 1356.5 494.0 1357.0 496.7 1357.5 484.0 1358.0 491.6 1358.5 492.0 1359.0 493.6 1359.5 490.8 1360.0 484.4 1360.5 486.3 1361.0 482.5 1361.5 489.6 1362.0 489.8 1362.5 491.5 1363.0 485.9 1363.5 485.6 1364.0 496.9 1364.5 491.7 1365.0 498.3 1365.5 492.5 1366.0 484.2 1366.5 492.6 1367.0 493.5 1367.5 485.6 1368.0 478.6 1368.5 488.1 1369.0 483.8 1369.5 484.5 1370.0 471.6 1370.5 483.6 1371.0 469.8 1371.5 476.8 1372.0 483.2 1372.5 471.4 1373.0 470.5 1373.5 475.4 1374.0 483.0 1374.5 482.0 1375.0 472.1 1375.5 477.9 1376.0 475.4 1376.5 473.5 1377.0 473.3 1377.5 468.5 1378.0 474.4 1378.5 475.2 1379.0 481.8 1379.5 474.4 1380.0 460.5 1380.5 465.8 1381.0 472.3 1381.5 471.2 1382.0 463.2 1382.5 469.9 1383.0 468.6 1383.5 469.5 1384.0 468.8 1384.5 472.8 1385.0 474.9 1385.5 471.6 1386.0 464.4 1386.5 465.6 1387.0 466.6 1387.5 469.2 1388.0 467.7 1388.5 468.0 1389.0 465.5 1389.5 473.0 1390.0 472.3 1390.5 472.4 1391.0 467.9 1391.5 469.9 1392.0 464.3 1392.5 464.0 1393.0 466.2 1393.5 471.3 1394.0 468.8 1394.5 465.4 1395.0 471.2 1395.5 473.2 1396.0 472.9 1396.5 470.1 1397.0 473.6 1397.5 472.0 1398.0 472.7 1398.5 473.7 1399.0 477.1 1399.5 481.1 1400.0 479.6 1400.5 475.3 1401.0 470.5 1401.5 470.2 1402.0 469.8 1402.5 475.2 1403.0 458.9 1403.5 471.0 1404.0 461.8 1404.5 470.0 1405.0 475.6 1405.5 466.7 1406.0 461.4 1406.5 476.2 1407.0 477.1 1407.5 472.9 1408.0 475.8 1408.5 467.1 1409.0 474.7 1409.5 476.3 1410.0 471.4 1410.5 469.3 1411.0 472.9 1411.5 471.9 1412.0 464.0 1412.5 472.4 1413.0 469.7 1413.5 467.3 1414.0 471.9 1414.5 470.4 1415.0 469.7 1415.5 464.7 1416.0 470.2 1416.5 462.4 1417.0 466.6 1417.5 460.3 1418.0 460.3 1418.5 469.0 1419.0 466.8 1419.5 467.4 1420.0 469.3 1420.5 468.2 1421.0 463.1 1421.5 467.0 1422.0 466.5 1422.5 464.9 1423.0 466.9 1423.5 466.3 1424.0 465.8 1424.5 467.7 1425.0 470.7 1425.5 478.8 1426.0 467.6 1426.5 473.5 1427.0 465.7 1427.5 478.3 1428.0 470.5 1428.5 472.4 1429.0 476.9 1429.5 475.5 1430.0 465.3 1430.5 473.5 1431.0 470.2 1431.5 473.5 1432.0 471.4 1432.5 473.6 1433.0 471.5 1433.5 469.5 1434.0 474.5 1434.5 463.0 1435.0 467.0 1435.5 464.5 1436.0 467.4 1436.5 465.9 1437.0 466.9 1437.5 465.4 1438.0 465.6 1438.5 461.0 1439.0 467.8 1439.5 469.7 1440.0 466.5 1440.5 466.8 1441.0 467.5 1441.5 477.6 1442.0 472.1 1442.5 473.4 1443.0 471.0 1443.5 470.5 1444.0 469.2 1444.5 479.1 1445.0 465.8 1445.5 473.8 1446.0 472.1 1446.5 470.7 1447.0 465.0 1447.5 465.8 1448.0 474.4 1448.5 467.1 1449.0 473.2 1449.5 472.0 1450.0 471.4 1450.5 472.0 1451.0 463.9 1451.5 466.8 1452.0 471.3 1452.5 463.3 1453.0 475.1 1453.5 465.8 1454.0 467.6 1454.5 463.6 1455.0 469.1 1455.5 464.6 1456.0 466.6 1456.5 463.0 1457.0 472.5 1457.5 461.1 1458.0 469.7 1458.5 468.9 1459.0 469.8 1459.5 463.9 1460.0 472.2 1460.5 471.8 1461.0 468.4 1461.5 468.8 1462.0 466.7 1462.5 469.7 1463.0 463.6 1463.5 469.0 1464.0 468.3 1464.5 460.9 1465.0 456.0 1465.5 466.4 1466.0 466.5 1466.5 472.4 1467.0 468.1 1467.5 466.2 1468.0 463.0 1468.5 468.5 1469.0 466.7 1469.5 464.6 1470.0 468.6 1470.5 473.2 1471.0 469.0 1471.5 464.0 1472.0 469.3 1472.5 463.2 1473.0 461.0 1473.5 469.2 1474.0 464.9 1474.5 471.7 1475.0 468.5 1475.5 464.1 1476.0 468.4 1476.5 472.8 1477.0 466.7 1477.5 463.1 1478.0 464.5 1478.5 463.6 1479.0 461.9 1479.5 461.3 1480.0 468.3 1480.5 471.3 1481.0 465.8 1481.5 471.0 1482.0 472.3 1482.5 476.3 1483.0 469.5 1483.5 469.5 1484.0 473.3 1484.5 472.4 1485.0 473.5 1485.5 477.5 1486.0 470.3 1486.5 472.6 1487.0 467.3 1487.5 470.2 1488.0 467.8 1488.5 467.1 1489.0 469.2 1489.5 468.2 1490.0 471.6 1490.5 473.5 1491.0 464.3 1491.5 474.6 1492.0 461.6 1492.5 471.7 1493.0 473.5 1493.5 467.9 1494.0 469.4 1494.5 467.0 1495.0 473.5 1495.5 456.6 1496.0 465.2 1496.5 460.9 1497.0 469.2 1497.5 473.3 1498.0 472.5 1498.5 470.2 1499.0 468.3 1499.5 464.1 1500.0 472.3 1500.5 470.2 1501.0 464.7 1501.5 463.5 1502.0 466.9 1502.5 474.6 1503.0 476.1 1503.5 478.3 1504.0 469.2 1504.5 471.3 1505.0 478.7 1505.5 474.1 1506.0 476.3 1506.5 467.7 1507.0 471.4 1507.5 472.7 1508.0 471.1 1508.5 470.8 1509.0 465.7 1509.5 479.0 1510.0 472.9 1510.5 466.3 1511.0 476.5 1511.5 472.3 1512.0 474.7 1512.5 470.8 1513.0 468.0 1513.5 467.7 1514.0 471.7 1514.5 473.1 1515.0 471.5 1515.5 471.9 1516.0 474.1 1516.5 470.4 1517.0 473.6 1517.5 474.4 1518.0 471.5 1518.5 470.5 1519.0 469.6 1519.5 466.9 1520.0 465.8 1520.5 477.7 1521.0 472.5 1521.5 470.5 1522.0 479.3 1522.5 476.9 1523.0 473.3 1523.5 477.2 1524.0 472.4 1524.5 474.8 1525.0 480.8 1525.5 477.8 1526.0 472.5 1526.5 476.6 1527.0 478.9 1527.5 473.9 1528.0 473.1 1528.5 483.0 1529.0 474.7 1529.5 471.0 1530.0 477.3 1530.5 486.3 1531.0 479.5 1531.5 480.7 1532.0 467.6 1532.5 473.7 1533.0 480.3 1533.5 473.1 1534.0 479.5 1534.5 475.6 1535.0 474.9 1535.5 479.8 1536.0 470.8 1536.5 470.8 1537.0 473.2 1537.5 473.6 1538.0 465.7 1538.5 477.6 1539.0 473.3 1539.5 471.5 1540.0 474.4 1540.5 469.9 1541.0 476.0 1541.5 471.0 1542.0 473.3 1542.5 466.4 1543.0 468.6 1543.5 471.1 1544.0 465.5 1544.5 466.7 1545.0 469.2 1545.5 474.0 1546.0 472.8 1546.5 473.7 1547.0 471.6 1547.5 474.4 1548.0 477.5 1548.5 472.4 1549.0 474.0 1549.5 475.0 1550.0 464.8 1550.5 472.7 1551.0 474.9 1551.5 476.2 1552.0 471.7 1552.5 476.8 1553.0 469.9 1553.5 471.6 1554.0 478.9 1554.5 466.5 1555.0 471.6 1555.5 471.4 1556.0 471.8 1556.5 470.3 1557.0 475.5 1557.5 468.9 1558.0 468.3 1558.5 476.1 1559.0 469.8 1559.5 476.6 1560.0 475.7 1560.5 473.3 1561.0 475.2 1561.5 476.7 1562.0 479.3 1562.5 475.3 1563.0 477.3 1563.5 472.7 1564.0 477.6 1564.5 471.2 1565.0 479.0 1565.5 477.5 1566.0 488.0 1566.5 484.6 1567.0 478.7 1567.5 482.9 1568.0 479.8 1568.5 473.4 1569.0 467.5 1569.5 481.1 1570.0 477.4 1570.5 467.0 1571.0 476.8 1571.5 477.3 1572.0 470.3 1572.5 475.8 1573.0 465.2 1573.5 471.1 1574.0 471.9 1574.5 474.7 1575.0 473.0 1575.5 472.2 1576.0 473.5 1576.5 468.6 1577.0 477.3 1577.5 469.9 1578.0 474.6 1578.5 471.5 1579.0 470.6 1579.5 474.2 1580.0 473.8 1580.5 477.7 1581.0 477.0 1581.5 470.6 1582.0 475.3 1582.5 474.0 1583.0 470.7 1583.5 469.8 1584.0 475.6 1584.5 472.6 1585.0 469.3 1585.5 474.7 1586.0 476.1 1586.5 475.7 1587.0 470.5 1587.5 473.1 1588.0 481.1 1588.5 472.4 1589.0 474.1 1589.5 484.8 1590.0 476.6 1590.5 472.9 1591.0 466.7 1591.5 475.4 1592.0 468.1 1592.5 473.1 1593.0 469.3 1593.5 465.6 1594.0 478.9 1594.5 471.6 1595.0 475.8 1595.5 475.1 1596.0 469.2 1596.5 472.6 1597.0 470.9 1597.5 476.2 1598.0 473.9 1598.5 470.4 1599.0 478.3 1599.5 473.3 1600.0 472.6 1600.5 467.5 1601.0 472.3 1601.5 464.7 1602.0 472.8 1602.5 467.4 1603.0 472.5 1603.5 471.3 1604.0 474.1 1604.5 475.4 1605.0 474.6 1605.5 475.3 1606.0 470.2 1606.5 469.0 1607.0 482.3 1607.5 479.6 1608.0 471.2 1608.5 484.8 1609.0 473.8 1609.5 478.3 1610.0 477.4 1610.5 475.6 1611.0 477.3 1611.5 469.0 1612.0 474.4 1612.5 473.8 1613.0 475.7 1613.5 474.9 1614.0 474.2 1614.5 474.9 1615.0 482.6 1615.5 476.6 1616.0 482.7 1616.5 483.7 1617.0 482.9 1617.5 485.9 1618.0 487.2 1618.5 483.5 1619.0 487.6 1619.5 494.5 1620.0 482.8 1620.5 485.9 1621.0 484.0 1621.5 495.2 1622.0 481.3 1622.5 487.0 1623.0 490.7 1623.5 483.3 1624.0 486.3 1624.5 483.9 1625.0 481.2 1625.5 486.3 1626.0 488.3 1626.5 484.4 1627.0 486.4 1627.5 488.1 1628.0 489.9 1628.5 479.7 1629.0 487.0 1629.5 481.8 1630.0 476.6 1630.5 481.2 1631.0 487.1 1631.5 485.9 1632.0 480.4 1632.5 491.7 1633.0 487.0 1633.5 485.3 1634.0 483.6 1634.5 487.6 1635.0 484.4 1635.5 490.6 1636.0 487.3 1636.5 488.4 1637.0 484.4 1637.5 479.3 1638.0 487.1 1638.5 480.4 1639.0 483.6 1639.5 483.4 1640.0 479.8 1640.5 486.1 1641.0 476.2 1641.5 487.7 1642.0 479.0 1642.5 485.2 1643.0 486.5 1643.5 477.7 1644.0 478.3 1644.5 485.2 1645.0 482.3 1645.5 482.0 1646.0 474.4 1646.5 475.2 1647.0 484.2 1647.5 487.8 1648.0 479.1 1648.5 478.3 1649.0 482.5 1649.5 483.3 1650.0 483.3 1650.5 478.9 1651.0 472.5 1651.5 486.1 1652.0 478.0 1652.5 485.1 1653.0 472.1 1653.5 481.9 1654.0 478.7 1654.5 476.7 1655.0 485.4 1655.5 487.2 1656.0 480.0 1656.5 485.5 1657.0 479.0 1657.5 481.4 1658.0 483.4 1658.5 483.6 1659.0 488.1 1659.5 481.1 1660.0 490.2 1660.5 490.3 1661.0 485.5 1661.5 481.4 1662.0 476.3 1662.5 485.2 1663.0 482.1 1663.5 484.9 1664.0 479.7 1664.5 483.5 1665.0 482.9 1665.5 482.8 1666.0 483.5 1666.5 483.2 1667.0 485.6 1667.5 478.2 1668.0 483.8 1668.5 481.0 1669.0 478.2 1669.5 475.2 1670.0 484.5 1670.5 479.1 1671.0 475.6 1671.5 477.8 1672.0 477.5 1672.5 475.5 1673.0 472.5 1673.5 479.3 1674.0 478.8 1674.5 479.1 1675.0 484.9 1675.5 476.3 1676.0 478.2 1676.5 482.9 1677.0 485.5 1677.5 484.4 1678.0 484.4 1678.5 472.1 1679.0 482.4 1679.5 481.7 1680.0 482.4 1680.5 476.7 1681.0 481.5 1681.5 483.5 1682.0 486.1 1682.5 480.8 1683.0 474.5 1683.5 480.1 1684.0 482.4 1684.5 481.8 1685.0 487.2 1685.5 478.4 1686.0 474.8 1686.5 476.0 1687.0 480.9 1687.5 474.7 1688.0 473.5 1688.5 474.2 1689.0 482.5 1689.5 478.7 1690.0 476.6 1690.5 481.5 1691.0 481.0 1691.5 474.3 1692.0 481.5 1692.5 478.8 1693.0 469.1 1693.5 471.9 1694.0 476.8 1694.5 476.7 1695.0 472.4 1695.5 468.4 1696.0 472.3 1696.5 462.9 1697.0 471.5 1697.5 467.7 1698.0 467.3 1698.5 464.1 1699.0 469.4 1699.5 456.2 1700.0 461.6 1700.5 467.2 1701.0 461.8 1701.5 470.5 1702.0 466.4 1702.5 461.7 1703.0 469.5 1703.5 464.9 1704.0 467.8 1704.5 463.2 1705.0 463.4 1705.5 468.7 1706.0 466.3 1706.5 462.8 1707.0 462.3 1707.5 468.4 1708.0 472.9 1708.5 462.4 1709.0 468.6 1709.5 454.1 1710.0 460.2 1710.5 468.3 1711.0 471.8 1711.5 465.2 1712.0 466.7 1712.5 465.2 1713.0 467.9 1713.5 459.1 1714.0 465.6 1714.5 415.0 1714.5 776.0"/>
<path stroke="#ff403c" d="M264.5 747.0L264.5 890.0 266.0 877.2 266.5 872.4 267.0 871.7 267.5 860.4 268.0 884.1 268.5 878.2 269.0 869.0 269.5 875.3 270.0 871.6 270.5 866.9 271.0 879.4 271.5 866.0 272.0 864.2 272.5 858.6 273.0 869.4 273.5 862.5 274.0 867.6 274.5 854.1 275.0 860.1 275.5 847.4 276.0 864.2 276.5 855.9 277.0 856.1 277.5 855.7 278.0 837.9 278.5 856.9 279.0 870.2 279.5 824.8 280.0 821.5 280.5 821.9 281.0 848.0 281.5 837.1 282.0 846.4 282.5 839.5 283.0 830.5 283.5 830.7 284.0 824.1 284.5 836.3 285.0 809.8 285.5 817.7 286.0 824.9 286.5 843.8 287.0 808.9 287.5 803.1 288.0 807.9 288.5 826.0 289.0 807.6 289.5 825.9 290.0 788.6 290.5 817.8 291.0 813.7 291.5 787.2 292.0 798.6 292.5 804.8 293.0 788.8 293.5 792.1 294.0 805.8 294.5 777.9 295.0 769.4 295.5 761.5 296.0 770.3 296.5 759.7 297.0 756.5 297.5 753.9 298.0 797.9 298.5 739.3 299.0 732.4 299.5 721.4 300.0 751.2 300.5 738.3 301.0 749.2 301.5 731.7 302.0 721.9 302.5 730.0 303.0 721.6 303.5 707.2 304.0 707.2 304.5 732.2 305.0 714.5 305.5 712.9 306.0 704.3 306.5 698.4 307.0 711.9 307.5 700.9 308.0 693.2 308.5 698.3 309.0 689.8 309.5 699.8 310.0 713.1 310.5 687.8 311.0 718.3 311.5 719.5 312.0 696.1 312.5 681.9 313.0 686.9 313.5 689.0 314.0 678.1 314.5 671.8 315.0 668.2 315.5 661.0 316.0 647.2 316.5 654.8 317.0 655.5 317.5 656.6 318.0 645.9 318.5 670.1 319.0 631.1 319.5 617.7 320.0 643.0 320.5 602.5 321.0 620.8 321.5 622.5 322.0 608.5 322.5 582.7 323.0 616.6 323.5 602.6 324.0 594.0 324.5 637.0 325.0 622.3 325.5 610.9 326.0 597.7 326.5 611.4 327.0 609.4 327.5 625.4 328.0 625.6 328.5 596.3 329.0 595.8 329.5 592.9 330.0 576.0 330.5 584.9 331.0 590.9 331.5 602.0 332.0 610.0 332.5 570.2 333.0 587.6 333.5 569.0 334.0 608.8 334.5 568.5 335.0 572.5 335.5 554.0 336.0 553.6 336.5 563.6 337.0 555.5 337.5 562.9 338.0 539.9 338.5 565.0 339.0 546.6 339.5 583.0 340.0 553.6 340.5 572.6 341.0 541.4 341.5 563.0 342.0 548.0 342.5 553.2 343.0 559.7 343.5 555.8 344.0 562.6 344.5 571.7 345.0 569.3 345.5 557.2 346.0 541.3 346.5 547.1 347.0 553.4 347.5 529.5 348.0 564.8 348.5 550.5 349.0 549.8 349.5 567.1 350.0 561.6 350.5 555.0 351.0 578.9 351.5 556.5 352.0 557.6 352.5 542.7 353.0 573.0 353.5 562.7 354.0 530.0 354.5 555.4 355.0 537.9 355.5 575.0 356.0 544.4 356.5 538.3 357.0 540.0 357.5 550.7 358.0 600.8 358.5 574.0 359.0 556.1 359.5 540.6 360.0 549.3 360.5 516.6 361.0 543.2 361.5 548.5 362.0 534.8 362.5 527.5 363.0 542.0 363.5 564.5 364.0 537.2 364.5 521.8 365.0 556.8 365.5 514.7 366.0 544.5 366.5 533.3 367.0 558.2 367.5 534.3 368.0 574.2 368.5 558.2 369.0 530.9 369.5 530.1 370.0 557.5 370.5 592.1 371.0 571.2 371.5 571.7 372.0 566.8 372.5 586.7 373.0 579.8 373.5 577.7 374.0 552.1 374.5 594.2 375.0 596.6 375.5 542.9 376.0 612.8 376.5 580.5 377.0 555.3 377.5 529.5 378.0 575.0 378.5 571.4 379.0 547.0 379.5 526.5 380.0 576.8 380.5 540.8 381.0 540.7 381.5 603.5 382.0 587.1 382.5 562.1 383.0 533.2 383.5 553.4 384.0 510.9 384.5 542.2 385.0 529.2 385.5 523.6 386.0 521.0 386.5 554.8 387.0 548.2 387.5 551.7 388.0 567.0 388.5 536.0 389.0 532.6 389.5 527.3 390.0 550.3 390.5 573.0 391.0 556.4 391.5 572.7 392.0 570.8 392.5 552.8 393.0 547.8 393.5 540.2 394.0 600.1 394.5 580.8 395.0 549.5 395.5 549.1 396.0 562.3 396.5 538.7 397.0 569.3 397.5 538.7 398.0 549.1 398.5 539.1 399.0 543.7 399.5 531.8 400.0 527.0 400.5 532.0 401.0 533.5 401.5 536.3 402.0 539.1 402.5 587.3 403.0 546.0 403.5 533.2 404.0 544.6 404.5 528.5 405.0 556.5 405.5 544.4 406.0 523.3 406.5 548.8 407.0 550.8 407.5 510.6 408.0 533.7 408.5 537.3 409.0 520.5 409.5 530.4 410.0 531.5 410.5 548.6 411.0 545.5 411.5 589.5 412.0 537.3 412.5 562.0 413.0 543.2 413.5 547.0 414.0 529.9 414.5 554.0 415.0 535.8 415.5 562.3 416.0 579.3 416.5 561.7 417.0 560.7 417.5 537.0 418.0 582.2 418.5 579.1 419.0 543.7 419.5 553.4 420.0 535.6 420.5 583.2 421.0 563.2 421.5 554.1 422.0 564.1 422.5 565.1 423.0 549.1 423.5 533.4 424.0 532.6 424.5 526.1 425.0 565.7 425.5 599.0 426.0 525.4 426.5 558.5 427.0 563.4 427.5 536.5 428.0 559.1 428.5 534.3 429.0 578.1 429.5 544.2 430.0 557.7 430.5 570.1 431.0 550.5 431.5 527.7 432.0 551.4 432.5 576.8 433.0 562.0 433.5 568.6 434.0 544.9 434.5 567.8 435.0 578.6 435.5 565.9 436.0 599.8 436.5 561.5 437.0 546.4 437.5 540.4 438.0 585.6 438.5 564.3 439.0 583.5 439.5 574.1 440.0 595.1 440.5 620.2 441.0 562.0 441.5 574.6 442.0 589.8 442.5 555.9 443.0 598.9 443.5 596.4 444.0 594.2 444.5 576.1 445.0 586.4 445.5 566.7 446.0 584.1 446.5 574.2 447.0 586.1 447.5 577.2 448.0 590.5 448.5 605.6 449.0 569.6 449.5 602.5 450.0 564.4 450.5 563.5 451.0 588.2 451.5 591.1 452.0 599.1 452.5 571.4 453.0 592.8 453.5 596.6 454.0 615.5 454.5 594.4 455.0 605.1 455.5 581.5 456.0 594.6 456.5 613.6 457.0 609.4 457.5 582.7 458.0 585.2 458.5 608.1 459.0 627.9 459.5 605.8 460.0 605.1 460.5 595.2 461.0 618.7 461.5 610.6 462.0 630.6 462.5 609.1 463.0 589.5 463.5 642.3 464.0 590.7 464.5 587.9 465.0 627.9 465.5 620.9 466.0 589.2 466.5 636.7 467.0 611.8 467.5 592.3 468.0 613.4 468.5 605.6 469.0 614.7 469.5 582.6 470.0 606.0 470.5 609.7 471.0 576.8 471.5 613.8 472.0 615.1 472.5 598.4 473.0 608.4 473.5 603.2 474.0 597.7 474.5 604.6 475.0 633.4 475.5 595.1 476.0 617.9 476.5 617.9 477.0 604.6 477.5 608.6 478.0 598.5 478.5 603.7 479.0 614.4 479.5 644.9 480.0 601.9 480.5 658.6 481.0 603.0 481.5 608.5 482.0 603.7 482.5 600.6 483.0 618.1 483.5 596.5 484.0 612.8 484.5 608.6 485.0 585.9 485.5 604.4 486.0 586.9 486.5 622.8 487.0 613.6 487.5 581.7 488.0 572.4 488.5 578.9 489.0 586.7 489.5 584.0 490.0 583.6 490.5 590.7 491.0 597.6 491.5 619.4 492.0 587.7 492.5 601.0 493.0 599.0 493.5 595.1 494.0 598.8 494.5 603.1 495.0 612.0 495.5 613.1 496.0 608.0 496.5 626.5 497.0 621.2 497.5 612.9 498.0 622.5 498.5 603.8 499.0 626.0 499.5 623.3 500.0 609.1 500.5 598.5 501.0 669.3 501.5 615.3 502.0 661.9 502.5 601.6 503.0 624.7 503.5 602.9 504.0 612.5 504.5 620.4 505.0 594.1 505.5 602.5 506.0 605.4 506.5 603.5 507.0 640.2 507.5 616.8 508.0 613.6 508.5 604.8 509.0 595.7 509.5 586.9 510.0 591.8 510.5 596.6 511.0 617.5 511.5 602.0 512.0 589.1 512.5 619.7 513.0 597.0 513.5 597.4 514.0 605.4 514.5 615.5 515.0 575.1 515.5 586.9 516.0 605.9 516.5 595.6 517.0 586.0 517.5 589.6 518.0 619.3 518.5 609.7 519.0 607.1 519.5 608.2 520.0 588.4 520.5 602.9 521.0 589.1 521.5 587.0 522.0 582.2 522.5 611.6 523.0 591.5 523.5 589.2 524.0 582.6 524.5 626.9 525.0 609.4 525.5 594.8 526.0 585.5 526.5 576.8 527.0 598.5 527.5 597.1 528.0 575.5 528.5 607.9 529.0 600.0 529.5 576.8 530.0 579.7 530.5 617.8 531.0 584.2 531.5 580.3 532.0 565.1 532.5 601.0 533.0 582.6 533.5 597.0 534.0 597.1 534.5 577.4 535.0 616.0 535.5 628.2 536.0 593.7 536.5 580.5 537.0 576.9 537.5 587.1 538.0 576.7 538.5 580.5 539.0 565.8 539.5 592.2 540.0 575.3 540.5 581.8 541.0 589.3 541.5 594.3 542.0 618.5 542.5 590.1 543.0 566.9 543.5 586.2 544.0 573.1 544.5 588.0 545.0 599.5 545.5 598.1 546.0 570.4 546.5 568.6 547.0 556.5 547.5 567.3 548.0 576.2 548.5 595.8 549.0 571.3 549.5 569.9 550.0 585.4 550.5 628.1 551.0 602.1 551.5 585.5 552.0 575.6 552.5 597.9 553.0 601.1 553.5 568.1 554.0 578.4 554.5 554.6 555.0 613.9 555.5 561.8 556.0 570.8 556.5 565.8 557.0 570.3 557.5 570.6 558.0 579.7 558.5 574.4 559.0 560.9 559.5 552.8 560.0 587.5 560.5 589.0 561.0 558.0 561.5 571.2 562.0 544.9 562.5 543.2 563.0 554.9 563.5 578.7 564.0 544.4 564.5 545.3 565.0 575.6 565.5 532.3 566.0 590.8 566.5 554.3 567.0 546.2 567.5 549.2 568.0 584.0 568.5 534.0 569.0 541.5 569.5 541.6 570.0 536.5 570.5 529.9 571.0 564.1 571.5 546.5 572.0 526.9 572.5 538.4 573.0 550.7 573.5 551.6 574.0 533.5 574.5 548.3 575.0 554.8 575.5 600.3 576.0 559.8 576.5 581.9 577.0 586.2 577.5 557.9 578.0 585.1 578.5 602.7 579.0 549.2 579.5 533.9 580.0 563.8 580.5 543.8 581.0 537.6 581.5 530.0 582.0 571.1 582.5 533.6 583.0 522.5 583.5 531.7 584.0 523.6 584.5 541.0 585.0 531.3 585.5 524.0 586.0 551.0 586.5 530.5 587.0 556.0 587.5 567.1 588.0 540.2 588.5 536.9 589.0 553.4 589.5 567.0 590.0 552.4 590.5 586.2 591.0 553.6 591.5 560.1 592.0 565.9 592.5 542.0 593.0 545.6 593.5 554.4 594.0 541.1 594.5 554.8 595.0 561.3 595.5 550.7 596.0 539.8 596.5 569.1 597.0 581.4 597.5 565.6 598.0 529.6 598.5 534.6 599.0 583.6 599.5 577.1 600.0 552.3 600.5 570.8 601.0 523.1 601.5 549.7 602.0 562.9 602.5 515.8 603.0 534.8 603.5 562.7 604.0 568.5 604.5 537.1 605.0 552.8 605.5 576.3 606.0 540.4 606.5 523.2 607.0 546.2 607.5 540.4 608.0 571.1 608.5 550.8 609.0 533.6 609.5 591.4 610.0 539.0 610.5 556.0 611.0 558.8 611.5 559.6 612.0 547.1 612.5 552.7 613.0 538.8 613.5 515.8 614.0 531.4 614.5 529.1 615.0 526.9 615.5 530.0 616.0 517.4 616.5 546.8 617.0 549.2 617.5 497.0 618.0 520.1 618.5 511.6 619.0 490.6 619.5 522.8 620.0 511.5 620.5 514.1 621.0 511.2 621.5 534.5 622.0 538.0 622.5 522.5 623.0 530.5 623.5 519.9 624.0 523.9 624.5 515.1 625.0 526.0 625.5 517.7 626.0 568.6 626.5 547.0 627.0 539.8 627.5 557.5 628.0 586.4 628.5 508.5 629.0 540.4 629.5 530.3 630.0 532.2 630.5 516.5 631.0 540.1 631.5 533.0 632.0 524.4 632.5 529.0 633.0 520.6 633.5 498.4 634.0 545.5 634.5 567.0 635.0 508.7 635.5 524.5 636.0 509.2 636.5 491.6 637.0 529.8 637.5 495.1 638.0 550.9 638.5 513.4 639.0 535.2 639.5 532.2 640.0 513.8 640.5 503.3 641.0 507.0 641.5 530.9 642.0 543.7 642.5 521.6 643.0 504.8 643.5 531.2 644.0 508.2 644.5 508.1 645.0 509.9 645.5 525.6 646.0 520.6 646.5 534.1 647.0 540.0 647.5 526.1 648.0 488.9 648.5 495.5 649.0 518.5 649.5 513.5 650.0 552.1 650.5 511.1 651.0 508.0 651.5 524.9 652.0 525.2 652.5 503.6 653.0 511.4 653.5 492.1 654.0 493.7 654.5 523.3 655.0 488.7 655.5 519.5 656.0 516.9 656.5 520.8 657.0 526.1 657.5 522.6 658.0 488.3 658.5 502.1 659.0 509.3 659.5 538.3 660.0 503.6 660.5 510.5 661.0 516.4 661.5 546.0 662.0 498.7 662.5 498.7 663.0 529.0 663.5 487.8 664.0 519.9 664.5 504.0 665.0 490.4 665.5 502.2 666.0 495.3 666.5 511.5 667.0 515.0 667.5 535.8 668.0 509.5 668.5 512.7 669.0 501.8 669.5 513.2 670.0 534.0 670.5 488.8 671.0 529.1 671.5 508.4 672.0 519.8 672.5 524.3 673.0 533.4 673.5 521.6 674.0 509.1 674.5 520.3 675.0 513.1 675.5 507.2 676.0 512.5 676.5 522.5 677.0 507.1 677.5 505.4 678.0 485.7 678.5 497.1 679.0 477.3 679.5 508.5 680.0 485.5 680.5 516.3 681.0 545.9 681.5 489.4 682.0 514.2 682.5 497.3 683.0 486.7 683.5 483.4 684.0 499.0 684.5 513.9 685.0 496.3 685.5 476.2 686.0 481.5 686.5 490.5 687.0 514.4 687.5 496.4 688.0 497.1 688.5 513.0 689.0 491.7 689.5 493.1 690.0 492.3 690.5 475.8 691.0 502.8 691.5 502.7 692.0 513.8 692.5 484.9 693.0 489.5 693.5 515.2 694.0 504.5 694.5 523.7 695.0 490.1 695.5 502.3 696.0 491.7 696.5 502.9 697.0 492.8 697.5 504.6 698.0 512.8 698.5 503.8 699.0 474.5 699.5 504.7 700.0 496.4 700.5 479.1 701.0 479.8 701.5 488.6 702.0 494.2 702.5 482.8 703.0 470.2 703.5 491.2 704.0 490.8 704.5 529.5 705.0 477.6 705.5 536.8 706.0 526.2 706.5 503.9 707.0 532.1 707.5 507.6 708.0 527.0 708.5 499.2 709.0 516.6 709.5 499.2 710.0 492.3 710.5 515.6 711.0 509.4 711.5 532.1 712.0 545.0 712.5 519.2 713.0 523.4 713.5 525.8 714.0 492.7 714.5 527.7 715.0 523.1 715.5 522.1 716.0 502.9 716.5 489.5 717.0 517.2 717.5 526.5 718.0 543.8 718.5 538.6 719.0 542.6 719.5 521.1 720.0 533.3 720.5 506.7 721.0 519.7 721.5 523.2 722.0 553.1 722.5 507.4 723.0 511.6 723.5 525.3 724.0 492.4 724.5 500.2 725.0 497.7 725.5 491.2 726.0 521.7 726.5 508.2 727.0 495.1 727.5 502.8 728.0 497.7 728.5 509.5 729.0 499.2 729.5 495.6 730.0 497.3 730.5 499.7 731.0 507.7 731.5 494.8 732.0 503.9 732.5 509.7 733.0 540.1 733.5 514.2 734.0 472.7 734.5 499.3 735.0 500.3 735.5 507.9 736.0 524.7 736.5 511.9 737.0 509.5 737.5 506.4 738.0 503.7 738.5 506.3 739.0 516.2 739.5 488.4 740.0 511.1 740.5 480.3 741.0 497.6 741.5 500.1 742.0 523.8 742.5 486.0 743.0 474.1 743.5 498.7 744.0 483.1 744.5 506.1 745.0 480.7 745.5 478.1 746.0 500.5 746.5 487.7 747.0 497.6 747.5 471.6 748.0 505.6 748.5 482.3 749.0 498.8 749.5 480.6 750.0 476.5 750.5 492.5 751.0 499.3 751.5 525.1 752.0 507.1 752.5 517.6 753.0 520.2 753.5 567.8 754.0 500.7 754.5 582.9 755.0 517.2 755.5 526.6 756.0 513.6 756.5 545.4 757.0 502.3 757.5 501.1 758.0 520.5 758.5 502.1 759.0 533.9 759.5 535.5 760.0 502.2 760.5 526.4 761.0 498.6 761.5 503.2 762.0 500.6 762.5 528.4 763.0 494.9 763.5 482.3 764.0 479.7 764.5 500.3 765.0 467.2 765.5 478.5 766.0 478.1 766.5 454.7 767.0 475.5 767.5 491.2 768.0 482.8 768.5 470.8 769.0 488.5 769.5 487.3 770.0 504.9 770.5 475.6 771.0 480.4 771.5 486.1 772.0 485.2 772.5 530.8 773.0 487.2 773.5 481.5 774.0 472.3 774.5 484.0 775.0 475.2 775.5 479.0 776.0 484.4 776.5 495.7 777.0 499.4 777.5 479.0 778.0 493.7 778.5 499.7 779.0 490.4 779.5 473.6 780.0 501.9 780.5 503.9 781.0 507.4 781.5 497.0 782.0 482.4 782.5 520.1 783.0 516.4 783.5 493.8 784.0 491.3 784.5 472.0 785.0 506.6 785.5 473.9 786.0 530.6 786.5 501.5 787.0 488.6 787.5 513.0 788.0 481.4 788.5 491.6 789.0 494.0 789.5 484.8 790.0 477.0 790.5 499.4 791.0 485.4 791.5 478.8 792.0 479.2 792.5 482.6 793.0 519.7 793.5 482.7 794.0 479.1 794.5 521.9 795.0 468.7 795.5 461.3 796.0 484.5 796.5 481.8 797.0 470.1 797.5 464.8 798.0 477.1 798.5 474.8 799.0 465.9 799.5 485.6 800.0 483.2 800.5 480.5 801.0 496.2 801.5 474.3 802.0 508.4 802.5 470.9 803.0 494.1 803.5 496.3 804.0 528.3 804.5 490.4 805.0 466.4 805.5 463.3 806.0 477.3 806.5 469.9 807.0 489.2 807.5 478.2 808.0 488.1 808.5 482.4 809.0 523.2 809.5 479.0 810.0 471.8 810.5 471.5 811.0 518.1 811.5 459.3 812.0 482.1 812.5 505.8 813.0 497.5 813.5 517.5 814.0 503.9 814.5 473.0 815.0 491.1 815.5 472.6 816.0 555.6 816.5 524.7 817.0 490.5 817.5 507.7 818.0 489.7 818.5 470.1 819.0 486.7 819.5 466.9 820.0 512.1 820.5 493.9 821.0 501.4 821.5 510.0 822.0 478.9 822.5 487.5 823.0 489.2 823.5 490.2 824.0 445.3 824.5 467.2 825.0 490.9 825.5 462.5 826.0 479.4 826.5 489.5 827.0 453.4 827.5 471.9 828.0 478.3 828.5 474.4 829.0 457.9 829.5 481.2 830.0 468.9 830.5 490.7 831.0 484.1 831.5 469.8 832.0 480.5 832.5 468.8 833.0 469.0 833.5 459.5 834.0 475.0 834.5 494.1 835.0 481.8 835.5 479.4 836.0 469.3 836.5 470.2 837.0 492.8 837.5 458.9 838.0 516.0 838.5 477.4 839.0 517.6 839.5 499.7 840.0 471.2 840.5 492.5 841.0 465.8 841.5 489.7 842.0 497.1 842.5 474.8 843.0 475.6 843.5 481.6 844.0 467.0 844.5 489.4 845.0 500.9 845.5 503.8 846.0 505.2 846.5 496.8 847.0 520.2 847.5 470.9 848.0 502.3 848.5 504.7 849.0 527.7 849.5 524.0 850.0 526.6 850.5 560.5 851.0 528.5 851.5 492.3 852.0 510.4 852.5 469.3 853.0 536.2 853.5 531.6 854.0 489.6 854.5 482.6 855.0 459.2 855.5 465.1 856.0 492.3 856.5 484.9 857.0 460.7 857.5 474.4 858.0 469.5 858.5 488.2 859.0 490.9 859.5 472.7 860.0 477.4 860.5 474.2 861.0 448.1 861.5 476.1 862.0 471.3 862.5 485.8 863.0 450.6 863.5 486.6 864.0 464.4 864.5 479.3 865.0 497.5 865.5 457.7 866.0 460.4 866.5 498.0 867.0 464.1 867.5 466.9 868.0 495.0 868.5 481.5 869.0 500.0 869.5 492.0 870.0 486.6 870.5 504.8 871.0 526.2 871.5 484.4 872.0 512.1 872.5 504.9 873.0 485.3 873.5 490.3 874.0 465.6 874.5 468.1 875.0 528.4 875.5 475.2 876.0 498.1 876.5 457.1 877.0 467.4 877.5 463.2 878.0 469.1 878.5 492.9 879.0 456.8 879.5 488.6 880.0 464.4 880.5 469.8 881.0 495.1 881.5 473.6 882.0 492.2 882.5 483.6 883.0 479.6 883.5 477.2 884.0 457.1 884.5 471.3 885.0 516.6 885.5 488.2 886.0 459.1 886.5 501.8 887.0 493.6 887.5 460.0 888.0 463.5 888.5 514.9 889.0 454.2 889.5 468.2 890.0 480.6 890.5 479.3 891.0 480.6 891.5 488.8 892.0 467.6 892.5 473.5 893.0 519.3 893.5 457.6 894.0 474.4 894.5 484.5 895.0 470.9 895.5 504.6 896.0 483.9 896.5 496.3 897.0 444.2 897.5 504.4 898.0 503.9 898.5 469.9 899.0 507.5 899.5 489.3 900.0 501.8 900.5 518.5 901.0 488.3 901.5 469.0 902.0 487.7 902.5 465.3 903.0 474.1 903.5 474.7 904.0 475.3 904.5 508.6 905.0 501.5 905.5 468.9 906.0 503.7 906.5 454.6 907.0 466.7 907.5 473.3 908.0 494.4 908.5 483.3 909.0 475.6 909.5 488.4 910.0 475.6 910.5 485.5 911.0 452.3 911.5 442.1 912.0 455.8 912.5 473.2 913.0 495.3 913.5 476.0 914.0 474.3 914.5 472.7 915.0 480.4 915.5 459.6 916.0 490.1 916.5 459.8 917.0 472.9 917.5 458.3 918.0 487.9 918.5 459.2 919.0 506.8 919.5 463.0 920.0 487.3 920.5 480.3 921.0 469.0 921.5 505.0 922.0 474.3 922.5 508.1 923.0 467.3 923.5 469.7 924.0 456.7 924.5 490.1 925.0 496.5 925.5 515.2 926.0 476.8 926.5 468.7 927.0 521.8 927.5 492.5 928.0 458.7 928.5 475.1 929.0 449.7 929.5 504.1 930.0 509.6 930.5 498.2 931.0 473.7 931.5 466.5 932.0 456.3 932.5 475.8 933.0 460.7 933.5 463.5 934.0 459.6 934.5 443.4 935.0 474.9 935.5 483.3 936.0 466.7 936.5 465.8 937.0 454.2 937.5 453.9 938.0 456.8 938.5 479.2 939.0 473.6 939.5 482.7 940.0 478.1 940.5 470.3 941.0 462.2 941.5 472.6 942.0 461.8 942.5 510.1 943.0 481.2 943.5 474.5 944.0 511.4 944.5 474.5 945.0 485.5 945.5 476.8 946.0 482.5 946.5 474.6 947.0 484.6 947.5 501.9 948.0 465.4 948.5 455.2 949.0 482.8 949.5 481.9 950.0 494.8 950.5 477.5 951.0 507.6 951.5 512.6 952.0 467.7 952.5 516.8 953.0 472.8 953.5 461.2 954.0 474.8 954.5 484.5 955.0 461.6 955.5 461.9 956.0 524.0 956.5 475.2 957.0 478.8 957.5 461.6 958.0 466.8 958.5 475.1 959.0 475.5 959.5 474.8 960.0 497.1 960.5 474.5 961.0 455.6 961.5 462.5 962.0 471.1 962.5 490.9 963.0 463.8 963.5 466.9 964.0 470.9 964.5 463.4 965.0 462.1 965.5 468.7 966.0 488.3 966.5 479.6 967.0 468.4 967.5 479.4 968.0 457.9 968.5 491.6 969.0 487.5 969.5 480.3 970.0 454.9 970.5 513.6 971.0 441.3 971.5 462.8 972.0 464.0 972.5 493.0 973.0 458.3 973.5 486.1 974.0 479.7 974.5 477.6 975.0 498.7 975.5 508.9 976.0 489.9 976.5 510.4 977.0 484.6 977.5 506.6 978.0 472.9 978.5 450.5 979.0 477.9 979.5 499.8 980.0 469.2 980.5 453.9 981.0 509.5 981.5 477.8 982.0 471.2 982.5 481.7 983.0 438.1 983.5 460.2 984.0 458.2 984.5 498.1 985.0 452.4 985.5 452.2 986.0 442.9 986.5 449.0 987.0 455.8 987.5 461.3 988.0 456.7 988.5 491.2 989.0 465.9 989.5 468.8 990.0 483.7 990.5 471.9 991.0 459.3 991.5 449.2 992.0 471.6 992.5 459.0 993.0 491.4 993.5 461.0 994.0 445.4 994.5 470.3 995.0 487.4 995.5 467.1 996.0 470.9 996.5 522.6 997.0 524.9 997.5 470.4 998.0 466.0 998.5 459.1 999.0 447.3 999.5 483.9 1000.0 478.1 1000.5 453.1 1001.0 469.7 1001.5 466.1 1002.0 457.7 1002.5 458.0 1003.0 469.4 1003.5 447.7 1004.0 455.3 1004.5 460.4 1005.0 488.7 1005.5 460.3 1006.0 466.2 1006.5 517.3 1007.0 456.8 1007.5 469.2 1008.0 464.1 1008.5 495.9 1009.0 457.2 1009.5 471.0 1010.0 485.8 1010.5 471.5 1011.0 471.0 1011.5 468.4 1012.0 477.5 1012.5 460.1 1013.0 471.0 1013.5 469.9 1014.0 454.0 1014.5 472.3 1015.0 463.5 1015.5 471.6 1016.0 477.7 1016.5 471.9 1017.0 455.3 1017.5 472.3 1018.0 451.7 1018.5 461.6 1019.0 497.3 1019.5 471.6 1020.0 498.2 1020.5 471.2 1021.0 474.0 1021.5 462.3 1022.0 491.4 1022.5 473.1 1023.0 486.7 1023.5 483.5 1024.0 485.5 1024.5 481.8 1025.0 475.5 1025.5 476.0 1026.0 468.4 1026.5 452.8 1027.0 485.7 1027.5 515.1 1028.0 497.2 1028.5 520.3 1029.0 486.6 1029.5 466.1 1030.0 465.5 1030.5 489.4 1031.0 480.3 1031.5 494.7 1032.0 483.6 1032.5 460.0 1033.0 475.1 1033.5 463.2 1034.0 466.4 1034.5 480.6 1035.0 460.4 1035.5 480.6 1036.0 478.4 1036.5 450.5 1037.0 494.5 1037.5 472.7 1038.0 455.9 1038.5 464.8 1039.0 431.5 1039.5 469.5 1040.0 471.7 1040.5 455.2 1041.0 459.6 1041.5 459.3 1042.0 455.2 1042.5 474.9 1043.0 454.8 1043.5 508.1 1044.0 467.0 1044.5 477.5 1045.0 483.7 1045.5 474.9 1046.0 441.3 1046.5 464.4 1047.0 466.4 1047.5 452.5 1048.0 472.8 1048.5 478.2 1049.0 472.9 1049.5 495.1 1050.0 450.8 1050.5 463.9 1051.0 498.4 1051.5 475.4 1052.0 449.9 1052.5 467.1 1053.0 485.6 1053.5 502.9 1054.0 477.8 1054.5 488.0 1055.0 453.5 1055.5 463.5 1056.0 490.1 1056.5 456.0 1057.0 466.2 1057.5 445.2 1058.0 491.5 1058.5 462.3 1059.0 470.3 1059.5 444.6 1060.0 445.3 1060.5 485.5 1061.0 453.4 1061.5 450.2 1062.0 461.0 1062.5 461.1 1063.0 433.3 1063.5 444.2 1064.0 455.9 1064.5 455.9 1065.0 460.4 1065.5 452.6 1066.0 454.9 1066.5 460.9 1067.0 451.4 1067.5 450.0 1068.0 453.2 1068.5 459.2 1069.0 457.4 1069.5 453.5 1070.0 481.9 1070.5 457.7 1071.0 461.6 1071.5 462.1 1072.0 444.1 1072.5 469.6 1073.0 441.4 1073.5 465.5 1074.0 452.5 1074.5 467.4 1075.0 477.7 1075.5 442.1 1076.0 472.4 1076.5 467.8 1077.0 459.7 1077.5 471.7 1078.0 460.0 1078.5 467.7 1079.0 453.8 1079.5 479.3 1080.0 475.3 1080.5 477.4 1081.0 456.4 1081.5 495.8 1082.0 497.5 1082.5 461.0 1083.0 457.0 1083.5 456.7 1084.0 471.9 1084.5 477.9 1085.0 452.5 1085.5 438.6 1086.0 467.7 1086.5 460.3 1087.0 462.8 1087.5 469.1 1088.0 448.6 1088.5 461.4 1089.0 457.2 1089.5 465.6 1090.0 480.3 1090.5 459.3 1091.0 449.3 1091.5 478.0 1092.0 467.3 1092.5 454.7 1093.0 436.7 1093.5 446.4 1094.0 457.2 1094.5 512.8 1095.0 449.6 1095.5 460.3 1096.0 448.9 1096.5 451.7 1097.0 463.3 1097.5 454.8 1098.0 460.2 1098.5 474.3 1099.0 480.8 1099.5 455.5 1100.0 460.1 1100.5 449.3 1101.0 450.1 1101.5 472.5 1102.0 459.2 1102.5 444.6 1103.0 476.5 1103.5 454.8 1104.0 459.9 1104.5 471.6 1105.0 470.0 1105.5 460.5 1106.0 438.4 1106.5 469.2 1107.0 452.0 1107.5 442.3 1108.0 433.2 1108.5 479.3 1109.0 457.9 1109.5 457.3 1110.0 465.6 1110.5 454.9 1111.0 439.6 1111.5 467.1 1112.0 473.1 1112.5 464.6 1113.0 483.3 1113.5 490.2 1114.0 447.1 1114.5 450.9 1115.0 472.2 1115.5 459.4 1116.0 460.0 1116.5 473.0 1117.0 469.4 1117.5 449.7 1118.0 458.0 1118.5 446.3 1119.0 452.2 1119.5 441.7 1120.0 432.3 1120.5 448.2 1121.0 447.2 1121.5 472.9 1122.0 485.6 1122.5 458.1 1123.0 466.5 1123.5 447.0 1124.0 443.7 1124.5 430.2 1125.0 453.2 1125.5 463.5 1126.0 459.8 1126.5 487.5 1127.0 453.6 1127.5 433.7 1128.0 459.4 1128.5 445.4 1129.0 461.2 1129.5 478.2 1130.0 447.1 1130.5 458.2 1131.0 470.1 1131.5 445.1 1132.0 467.5 1132.5 475.0 1133.0 481.6 1133.5 488.6 1134.0 480.8 1134.5 479.8 1135.0 449.5 1135.5 430.5 1136.0 460.5 1136.5 504.9 1137.0 482.3 1137.5 440.1 1138.0 473.0 1138.5 539.9 1139.0 445.4 1139.5 487.2 1140.0 453.7 1140.5 490.1 1141.0 468.4 1141.5 520.0 1142.0 436.6 1142.5 462.2 1143.0 428.4 1143.5 472.1 1144.0 452.1 1144.5 465.6 1145.0 451.1 1145.5 429.5 1146.0 440.4 1146.5 432.2 1147.0 438.4 1147.5 462.8 1148.0 482.7 1148.5 481.9 1149.0 478.5 1149.5 461.4 1150.0 482.6 1150.5 459.1 1151.0 478.7 1151.5 490.0 1152.0 471.1 1152.5 465.2 1153.0 464.6 1153.5 481.8 1154.0 463.3 1154.5 441.2 1155.0 457.2 1155.5 443.3 1156.0 487.2 1156.5 458.5 1157.0 431.8 1157.5 459.5 1158.0 466.3 1158.5 459.0 1159.0 444.8 1159.5 453.4 1160.0 455.4 1160.5 468.3 1161.0 456.9 1161.5 522.5 1162.0 447.3 1162.5 479.1 1163.0 452.7 1163.5 429.5 1164.0 436.0 1164.5 429.6 1165.0 431.4 1165.5 478.1 1166.0 445.7 1166.5 469.5 1167.0 443.9 1167.5 461.0 1168.0 443.8 1168.5 479.2 1169.0 460.3 1169.5 457.7 1170.0 463.7 1170.5 506.2 1171.0 521.5 1171.5 482.1 1172.0 445.8 1172.5 453.6 1173.0 469.0 1173.5 436.7 1174.0 483.3 1174.5 461.4 1175.0 453.2 1175.5 448.3 1176.0 446.2 1176.5 441.6 1177.0 466.8 1177.5 451.8 1178.0 459.8 1178.5 438.9 1179.0 432.1 1179.5 458.6 1180.0 428.1 1180.5 434.8 1181.0 449.4 1181.5 455.5 1182.0 428.7 1182.5 440.7 1183.0 444.7 1183.5 443.7 1184.0 436.7 1184.5 456.3 1185.0 441.9 1185.5 445.6 1186.0 424.6 1186.5 448.1 1187.0 428.7 1187.5 463.0 1188.0 459.5 1188.5 444.4 1189.0 453.8 1189.5 452.8 1190.0 448.0 1190.5 457.0 1191.0 448.2 1191.5 492.8 1192.0 440.2 1192.5 481.1 1193.0 455.2 1193.5 452.2 1194.0 466.6 1194.5 447.9 1195.0 449.3 1195.5 469.4 1196.0 477.1 1196.5 471.7 1197.0 437.0 1197.5 461.7 1198.0 460.1 1198.5 468.1 1199.0 443.1 1199.5 438.8 1200.0 453.1 1200.5 437.7 1201.0 434.4 1201.5 447.0 1202.0 462.2 1202.5 445.4 1203.0 460.4 1203.5 427.0 1204.0 448.4 1204.5 435.0 1205.0 424.7 1205.5 429.0 1206.0 423.9 1206.5 430.7 1207.0 466.0 1207.5 456.5 1208.0 431.0 1208.5 420.6 1209.0 436.7 1209.5 449.6 1210.0 439.8 1210.5 463.6 1211.0 434.8 1211.5 438.5 1212.0 531.9 1212.5 502.9 1213.0 471.0 1213.5 472.5 1214.0 476.1 1214.5 468.6 1215.0 466.2 1215.5 490.4 1216.0 463.7 1216.5 475.3 1217.0 485.8 1217.5 466.4 1218.0 445.6 1218.5 479.9 1219.0 489.4 1219.5 472.7 1220.0 436.2 1220.5 475.0 1221.0 496.1 1221.5 431.4 1222.0 414.4 1222.5 450.5 1223.0 454.8 1223.5 466.5 1224.0 467.0 1224.5 454.6 1225.0 463.6 1225.5 461.6 1226.0 460.1 1226.5 459.6 1227.0 489.2 1227.5 479.7 1228.0 477.9 1228.5 466.8 1229.0 497.1 1229.5 468.1 1230.0 479.7 1230.5 488.1 1231.0 453.6 1231.5 481.3 1232.0 503.3 1232.5 502.1 1233.0 465.8 1233.5 470.8 1234.0 464.6 1234.5 477.3 1235.0 478.0 1235.5 448.5 1236.0 479.6 1236.5 472.6 1237.0 467.5 1237.5 454.3 1238.0 460.5 1238.5 489.1 1239.0 463.1 1239.5 460.5 1240.0 452.8 1240.5 438.7 1241.0 473.3 1241.5 469.1 1242.0 429.4 1242.5 453.6 1243.0 492.4 1243.5 421.4 1244.0 490.2 1244.5 455.9 1245.0 457.4 1245.5 452.3 1246.0 444.7 1246.5 447.3 1247.0 459.4 1247.5 472.2 1248.0 451.6 1248.5 455.3 1249.0 470.0 1249.5 438.4 1250.0 469.4 1250.5 461.0 1251.0 441.2 1251.5 479.2 1252.0 455.9 1252.5 480.7 1253.0 542.8 1253.5 452.9 1254.0 453.1 1254.5 465.4 1255.0 446.3 1255.5 476.2 1256.0 465.3 1256.5 477.6 1257.0 441.6 1257.5 461.8 1258.0 511.8 1258.5 438.1 1259.0 466.1 1259.5 439.6 1260.0 454.6 1260.5 437.2 1261.0 457.8 1261.5 469.7 1262.0 447.3 1262.5 445.7 1263.0 458.0 1263.5 438.8 1264.0 443.4 1264.5 451.1 1265.0 446.8 1265.5 462.8 1266.0 485.2 1266.5 471.2 1267.0 442.9 1267.5 460.0 1268.0 435.3 1268.5 459.3 1269.0 502.2 1269.5 487.7 1270.0 432.5 1270.5 446.0 1271.0 462.7 1271.5 436.9 1272.0 461.3 1272.5 461.6 1273.0 443.7 1273.5 442.7 1274.0 435.6 1274.5 456.7 1275.0 473.1 1275.5 455.4 1276.0 498.7 1276.5 425.1 1277.0 478.7 1277.5 461.3 1278.0 429.8 1278.5 456.8 1279.0 465.9 1279.5 455.9 1280.0 450.2 1280.5 471.8 1281.0 463.6 1281.5 469.9 1282.0 467.4 1282.5 446.5 1283.0 439.2 1283.5 451.9 1284.0 461.3 1284.5 488.7 1285.0 473.1 1285.5 459.5 1286.0 470.7 1286.5 453.8 1287.0 437.1 1287.5 462.6 1288.0 454.3 1288.5 428.3 1289.0 433.6 1289.5 488.0 1290.0 425.6 1290.5 455.0 1291.0 434.8 1291.5 431.8 1292.0 427.2 1292.5 423.1 1293.0 474.2 1293.5 424.7 1294.0 427.7 1294.5 448.0 1295.0 441.5 1295.5 432.5 1296.0 431.6 1296.5 421.0 1297.0 457.7 1297.5 425.7 1298.0 411.6 1298.5 495.9 1299.0 452.3 1299.5 444.2 1300.0 431.9 1300.5 456.5 1301.0 424.2 1301.5 411.2 1302.0 434.9 1302.5 440.2 1303.0 479.8 1303.5 456.3 1304.0 435.9 1304.5 423.2 1305.0 422.5 1305.5 433.3 1306.0 422.5 1306.5 421.5 1307.0 404.2 1307.5 420.2 1308.0 410.3 1308.5 427.8 1309.0 428.0 1309.5 435.7 1310.0 453.1 1310.5 429.4 1311.0 453.0 1311.5 422.5 1312.0 438.0 1312.5 507.4 1313.0 475.5 1313.5 429.5 1314.0 442.3 1314.5 452.6 1315.0 451.1 1315.5 438.3 1316.0 430.5 1316.5 437.7 1317.0 459.9 1317.5 438.4 1318.0 495.1 1318.5 485.7 1319.0 429.4 1319.5 454.3 1320.0 486.1 1320.5 487.0 1321.0 479.4 1321.5 431.7 1322.0 448.7 1322.5 476.1 1323.0 452.6 1323.5 440.2 1324.0 455.1 1324.5 461.6 1325.0 444.3 1325.5 444.4 1326.0 457.9 1326.5 427.3 1327.0 421.2 1327.5 450.2 1328.0 418.1 1328.5 446.2 1329.0 425.2 1329.5 454.6 1330.0 420.8 1330.5 462.9 1331.0 449.3 1331.5 440.1 1332.0 431.3 1332.5 444.8 1333.0 431.2 1333.5 425.9 1334.0 465.9 1334.5 455.7 1335.0 465.1 1335.5 472.3 1336.0 410.4 1336.5 412.5 1337.0 443.1 1337.5 442.8 1338.0 403.9 1338.5 441.1 1339.0 416.2 1339.5 406.9 1340.0 465.9 1340.5 427.6 1341.0 417.5 1341.5 418.8 1342.0 412.8 1342.5 407.9 1343.0 420.7 1343.5 408.9 1344.0 440.6 1344.5 420.8 1345.0 458.7 1345.5 416.2 1346.0 465.5 1346.5 427.0 1347.0 428.7 1347.5 452.2 1348.0 465.2 1348.5 450.2 1349.0 446.4 1349.5 491.0 1350.0 466.3 1350.5 437.6 1351.0 456.8 1351.5 494.1 1352.0 471.5 1352.5 482.4 1353.0 506.0 1353.5 460.2 1354.0 479.3 1354.5 461.9 1355.0 475.0 1355.5 485.7 1356.0 502.1 1356.5 479.6 1357.0 479.6 1357.5 495.8 1358.0 465.4 1358.5 452.0 1359.0 480.8 1359.5 452.4 1360.0 473.4 1360.5 477.1 1361.0 450.7 1361.5 457.6 1362.0 445.0 1362.5 423.5 1363.0 436.5 1363.5 427.9 1364.0 449.1 1364.5 435.9 1365.0 444.8 1365.5 444.9 1366.0 456.3 1366.5 440.5 1367.0 439.8 1367.5 449.6 1368.0 463.9 1368.5 443.8 1369.0 448.6 1369.5 443.1 1370.0 437.6 1370.5 428.5 1371.0 484.5 1371.5 442.2 1372.0 442.2 1372.5 473.4 1373.0 440.7 1373.5 447.6 1374.0 439.8 1374.5 458.3 1375.0 439.7 1375.5 470.5 1376.0 439.4 1376.5 502.3 1377.0 456.5 1377.5 439.7 1378.0 455.3 1378.5 443.6 1379.0 435.0 1379.5 436.3 1380.0 450.7 1380.5 478.5 1381.0 440.2 1381.5 459.1 1382.0 438.0 1382.5 456.4 1383.0 433.5 1383.5 439.6 1384.0 454.5 1384.5 441.7 1385.0 450.8 1385.5 474.3 1386.0 454.2 1386.5 443.8 1387.0 435.8 1387.5 447.4 1388.0 477.8 1388.5 455.5 1389.0 454.3 1389.5 469.9 1390.0 471.9 1390.5 474.8 1391.0 450.2 1391.5 440.1 1392.0 431.2 1392.5 444.1 1393.0 449.8 1393.5 469.7 1394.0 462.3 1394.5 446.4 1395.0 472.7 1395.5 436.6 1396.0 439.1 1396.5 437.9 1397.0 438.8 1397.5 452.1 1398.0 441.2 1398.5 441.8 1399.0 478.4 1399.5 432.9 1400.0 436.7 1400.5 444.9 1401.0 455.1 1401.5 453.6 1402.0 440.7 1402.5 438.2 1403.0 437.9 1403.5 447.9 1404.0 428.0 1404.5 411.2 1405.0 437.3 1405.5 421.5 1406.0 432.3 1406.5 446.9 1407.0 432.1 1407.5 452.4 1408.0 412.8 1408.5 432.5 1409.0 434.2 1409.5 439.2 1410.0 422.8 1410.5 433.1 1411.0 433.5 1411.5 434.0 1412.0 419.1 1412.5 416.4 1413.0 442.1 1413.5 441.3 1414.0 439.3 1414.5 449.7 1415.0 460.5 1415.5 431.2 1416.0 461.6 1416.5 477.8 1417.0 472.9 1417.5 468.8 1418.0 474.5 1418.5 440.6 1419.0 459.6 1419.5 490.0 1420.0 500.6 1420.5 484.1 1421.0 468.8 1421.5 475.2 1422.0 493.1 1422.5 513.5 1423.0 490.2 1423.5 465.0 1424.0 483.8 1424.5 478.1 1425.0 511.2 1425.5 476.2 1426.0 463.5 1426.5 459.0 1427.0 441.1 1427.5 441.8 1428.0 446.8 1428.5 441.9 1429.0 451.5 1429.5 449.2 1430.0 458.5 1430.5 466.1 1431.0 446.1 1431.5 441.3 1432.0 422.4 1432.5 446.0 1433.0 448.6 1433.5 433.0 1434.0 437.1 1434.5 434.1 1435.0 453.8 1435.5 449.9 1436.0 457.2 1436.5 432.1 1437.0 479.1 1437.5 438.4 1438.0 437.8 1438.5 452.1 1439.0 445.3 1439.5 472.2 1440.0 449.4 1440.5 447.5 1441.0 466.6 1441.5 470.3 1442.0 449.0 1442.5 454.0 1443.0 456.1 1443.5 459.0 1444.0 482.9 1444.5 475.4 1445.0 473.5 1445.5 475.7 1446.0 461.8 1446.5 470.6 1447.0 499.4 1447.5 451.2 1448.0 476.3 1448.5 438.0 1449.0 455.5 1449.5 447.7 1450.0 434.3 1450.5 446.7 1451.0 450.4 1451.5 453.4 1452.0 438.6 1452.5 494.2 1453.0 449.7 1453.5 454.9 1454.0 425.3 1454.5 441.4 1455.0 439.8 1455.5 453.1 1456.0 439.2 1456.5 442.0 1457.0 435.6 1457.5 435.6 1458.0 439.1 1458.5 461.3 1459.0 439.5 1459.5 425.7 1460.0 484.3 1460.5 449.2 1461.0 466.4 1461.5 468.4 1462.0 504.5 1462.5 454.9 1463.0 453.8 1463.5 464.5 1464.0 451.2 1464.5 468.9 1465.0 490.3 1465.5 453.1 1466.0 453.5 1466.5 453.0 1467.0 475.3 1467.5 476.0 1468.0 490.1 1468.5 477.5 1469.0 467.6 1469.5 474.5 1470.0 444.0 1470.5 479.1 1471.0 473.4 1471.5 509.0 1472.0 497.8 1472.5 459.2 1473.0 464.8 1473.5 491.5 1474.0 438.7 1474.5 459.2 1475.0 481.8 1475.5 485.8 1476.0 476.0 1476.5 491.9 1477.0 463.9 1477.5 468.1 1478.0 460.2 1478.5 441.1 1479.0 458.7 1479.5 445.1 1480.0 453.8 1480.5 413.9 1481.0 450.1 1481.5 436.8 1482.0 434.5 1482.5 445.9 1483.0 436.4 1483.5 461.7 1484.0 467.9 1484.5 515.9 1485.0 464.1 1485.5 454.0 1486.0 448.5 1486.5 428.6 1487.0 441.4 1487.5 502.6 1488.0 460.6 1488.5 436.9 1489.0 446.4 1489.5 461.9 1490.0 438.3 1490.5 468.9 1491.0 429.8 1491.5 451.5 1492.0 474.6 1492.5 439.6 1493.0 442.3 1493.5 447.4 1494.0 414.6 1494.5 449.1 1495.0 463.3 1495.5 452.3 1496.0 467.9 1496.5 433.3 1497.0 450.8 1497.5 460.0 1498.0 450.9 1498.5 478.3 1499.0 466.4 1499.5 448.9 1500.0 472.7 1500.5 472.6 1501.0 449.5 1501.5 519.7 1502.0 462.3 1502.5 460.6 1503.0 436.6 1503.5 474.3 1504.0 461.5 1504.5 447.9 1505.0 453.1 1505.5 476.4 1506.0 443.0 1506.5 439.7 1507.0 446.7 1507.5 439.2 1508.0 440.4 1508.5 433.2 1509.0 442.9 1509.5 460.5 1510.0 448.7 1510.5 447.2 1511.0 443.6 1511.5 442.6 1512.0 431.1 1512.5 473.2 1513.0 438.9 1513.5 430.1 1514.0 450.1 1514.5 447.9 1515.0 438.8 1515.5 427.9 1516.0 428.3 1516.5 506.7 1517.0 441.2 1517.5 435.5 1518.0 471.4 1518.5 437.7 1519.0 434.7 1519.5 453.8 1520.0 453.6 1520.5 478.5 1521.0 434.6 1521.5 504.8 1522.0 437.0 1522.5 472.8 1523.0 455.8 1523.5 461.9 1524.0 459.0 1524.5 488.8 1525.0 503.6 1525.5 472.8 1526.0 469.0 1526.5 463.2 1527.0 479.8 1527.5 449.5 1528.0 529.2 1528.5 458.1 1529.0 490.4 1529.5 459.4 1530.0 434.1 1530.5 430.3 1531.0 441.4 1531.5 436.5 1532.0 440.7 1532.5 475.7 1533.0 485.5 1533.5 481.1 1534.0 421.6 1534.5 451.7 1535.0 465.5 1535.5 439.0 1536.0 442.1 1536.5 514.3 1537.0 458.9 1537.5 433.1 1538.0 474.5 1538.5 445.2 1539.0 489.2 1539.5 440.0 1540.0 426.5 1540.5 461.6 1541.0 482.8 1541.5 471.0 1542.0 465.0 1542.5 445.9 1543.0 479.2 1543.5 434.3 1544.0 476.2 1544.5 441.0 1545.0 449.5 1545.5 439.1 1546.0 443.2 1546.5 485.2 1547.0 440.0 1547.5 461.3 1548.0 444.4 1548.5 477.3 1549.0 439.3 1549.5 460.5 1550.0 477.8 1550.5 503.5 1551.0 443.6 1551.5 447.9 1552.0 463.1 1552.5 490.7 1553.0 445.5 1553.5 476.5 1554.0 448.2 1554.5 442.2 1555.0 434.7 1555.5 454.6 1556.0 467.4 1556.5 446.1 1557.0 422.7 1557.5 438.7 1558.0 459.8 1558.5 457.4 1559.0 446.4 1559.5 468.3 1560.0 429.7 1560.5 430.4 1561.0 486.6 1561.5 455.9 1562.0 442.7 1562.5 439.7 1563.0 416.8 1563.5 459.7 1564.0 422.0 1564.5 423.0 1565.0 470.7 1565.5 471.4 1566.0 440.0 1566.5 451.0 1567.0 439.8 1567.5 452.3 1568.0 426.9 1568.5 485.0 1569.0 435.5 1569.5 458.3 1570.0 424.4 1570.5 482.0 1571.0 458.1 1571.5 487.6 1572.0 441.4 1572.5 471.3 1573.0 449.8 1573.5 453.2 1574.0 479.0 1574.5 441.7 1575.0 471.1 1575.5 494.3 1576.0 491.6 1576.5 479.6 1577.0 466.4 1577.5 443.9 1578.0 486.0 1578.5 446.3 1579.0 479.4 1579.5 449.4 1580.0 453.7 1580.5 451.3 1581.0 460.3 1581.5 468.7 1582.0 448.3 1582.5 439.3 1583.0 451.0 1583.5 446.1 1584.0 446.8 1584.5 431.7 1585.0 443.7 1585.5 468.6 1586.0 444.7 1586.5 437.9 1587.0 425.8 1587.5 443.7 1588.0 427.7 1588.5 437.7 1589.0 411.5 1589.5 439.7 1590.0 441.6 1590.5 424.6 1591.0 441.9 1591.5 432.3 1592.0 458.9 1592.5 448.5 1593.0 426.9 1593.5 440.1 1594.0 424.5 1594.5 442.7 1595.0 461.4 1595.5 469.2 1596.0 454.2 1596.5 453.6 1597.0 462.3 1597.5 449.3 1598.0 467.0 1598.5 481.7 1599.0 464.6 1599.5 476.3 1600.0 445.6 1600.5 450.1 1601.0 464.4 1601.5 494.5 1602.0 523.5 1602.5 487.2 1603.0 456.2 1603.5 477.7 1604.0 427.8 1604.5 464.1 1605.0 423.3 1605.5 476.9 1606.0 516.0 1606.5 475.3 1607.0 461.1 1607.5 444.2 1608.0 439.2 1608.5 455.7 1609.0 478.9 1609.5 462.2 1610.0 440.2 1610.5 439.1 1611.0 436.2 1611.5 444.7 1612.0 446.6 1612.5 439.3 1613.0 448.4 1613.5 427.2 1614.0 477.5 1614.5 454.1 1615.0 478.2 1615.5 456.5 1616.0 448.6 1616.5 454.7 1617.0 458.0 1617.5 442.6 1618.0 448.2 1618.5 490.4 1619.0 472.7 1619.5 446.2 1620.0 465.1 1620.5 441.8 1621.0 527.7 1621.5 440.1 1622.0 471.1 1622.5 455.1 1623.0 455.1 1623.5 442.6 1624.0 449.6 1624.5 443.3 1625.0 442.3 1625.5 462.3 1626.0 499.4 1626.5 447.9 1627.0 471.0 1627.5 452.1 1628.0 443.1 1628.5 475.2 1629.0 461.6 1629.5 469.9 1630.0 450.7 1630.5 450.6 1631.0 439.6 1631.5 445.0 1632.0 475.3 1632.5 422.0 1633.0 450.6 1633.5 468.5 1634.0 455.3 1634.5 455.7 1635.0 441.0 1635.5 457.8 1636.0 457.1 1636.5 441.1 1637.0 464.6 1637.5 435.1 1638.0 412.9 1638.5 488.5 1639.0 438.3 1639.5 430.3 1640.0 434.9 1640.5 434.4 1641.0 420.9 1641.5 460.8 1642.0 442.4 1642.5 490.7 1643.0 443.7 1643.5 452.5 1644.0 428.8 1644.5 466.7 1645.0 434.4 1645.5 460.1 1646.0 467.8 1646.5 465.4 1647.0 437.5 1647.5 437.6 1648.0 465.5 1648.5 473.0 1649.0 477.6 1649.5 498.0 1650.0 449.3 1650.5 483.9 1651.0 441.1 1651.5 466.3 1652.0 448.1 1652.5 431.0 1653.0 436.9 1653.5 467.5 1654.0 465.8 1654.5 473.3 1655.0 460.7 1655.5 460.6 1656.0 477.5 1656.5 471.3 1657.0 447.5 1657.5 470.1 1658.0 509.6 1658.5 465.3 1659.0 489.0 1659.5 476.7 1660.0 490.1 1660.5 459.3 1661.0 449.5 1661.5 478.0 1662.0 454.1 1662.5 462.9 1663.0 454.5 1663.5 505.9 1664.0 457.9 1664.5 452.5 1665.0 432.4 1665.5 424.5 1666.0 431.0 1666.5 454.2 1667.0 449.5 1667.5 445.8 1668.0 432.1 1668.5 425.0 1669.0 452.9 1669.5 437.9 1670.0 441.9 1670.5 426.2 1671.0 429.6 1671.5 445.4 1672.0 448.5 1672.5 429.1 1673.0 444.3 1673.5 430.0 1674.0 465.8 1674.5 458.5 1675.0 490.5 1675.5 479.6 1676.0 444.3 1676.5 461.8 1677.0 452.5 1677.5 466.2 1678.0 480.1 1678.5 467.8 1679.0 470.6 1679.5 446.7 1680.0 481.6 1680.5 470.9 1681.0 481.9 1681.5 488.4 1682.0 468.6 1682.5 478.7 1683.0 452.9 1683.5 478.2 1684.0 458.0 1684.5 446.2 1685.0 448.7 1685.5 434.1 1686.0 441.0 1686.5 442.3 1687.0 446.4 1687.5 444.6 1688.0 438.4 1688.5 443.4 1689.0 422.8 1689.5 448.0 1690.0 458.4 1690.5 465.0 1691.0 473.0 1691.5 453.1 1692.0 458.5 1692.5 454.6 1693.0 457.5 1693.5 471.0 1694.0 495.0 1694.5 443.4 1695.0 464.3 1695.5 478.4 1696.0 455.3 1696.5 479.7 1697.0 446.5 1697.5 463.4 1698.0 440.7 1698.5 471.4 1699.0 451.1 1699.5 475.7 1700.0 458.0 1700.5 445.6 1701.0 455.1 1701.5 464.8 1702.0 462.4 1702.5 458.1 1703.0 456.5 1703.5 462.8 1704.0 477.3 1704.5 451.3 1705.0 468.5 1705.5 437.8 1706.0 474.9 1706.5 463.6 1707.0 449.6 1707.5 449.0 1708.0 430.1 1708.5 455.4 1709.0 449.4 1709.5 433.1 1710.0 491.9 1710.5 466.3 1711.0 460.5 1711.5 463.7 1712.0 450.4 1712.5 476.7 1713.0 462.3 1713.5 478.9 1714.0 503.9 1714.5 440.0 1714.5 688.0"/>
<path stroke="#0070e4" d="M264.5 950.0L266.0 959.0 266.5 938.3 267.0 946.5 267.5 939.4 268.0 936.6 268.5 934.4 269.0 923.6 269.5 928.0 270.0 922.0 270.5 937.5 271.0 920.2 271.5 914.2 272.0 911.0 272.5 905.3 273.0 899.6 273.5 899.1 274.0 899.7 274.5 892.3 275.0 894.8 275.5 885.1 276.0 882.7 276.5 887.0 277.0 878.2 277.5 869.2 278.0 867.4 278.5 870.0 279.0 876.2 279.5 863.6 280.0 862.8 280.5 868.3 281.0 857.5 281.5 859.6 282.0 864.6 282.5 861.9 283.0 858.1 283.5 859.9 284.0 840.3 284.5 859.2 285.0 847.6 285.5 842.0 286.0 850.4 286.5 850.9 287.0 843.3 287.5 838.5 288.0 842.9 288.5 841.2 289.0 847.9 289.5 843.6 290.0 840.0 290.5 844.3 291.0 836.9 291.5 832.5 292.0 839.7 292.5 838.6 293.0 833.2 293.5 828.5 294.0 831.9 294.5 815.4 295.0 829.6 295.5 826.0 296.0 812.2 296.5 818.6 297.0 810.9 297.5 817.8 298.0 801.2 298.5 805.4 299.0 812.3 299.5 813.1 300.0 794.3 300.5 801.4 301.0 804.1 301.5 794.7 302.0 801.7 302.5 782.4 303.0 785.6 303.5 773.4 304.0 781.3 304.5 768.9 305.0 762.4 305.5 750.7 306.0 764.1 306.5 755.0 307.0 751.0 307.5 749.1 308.0 741.0 308.5 731.9 309.0 727.1 309.5 723.4 310.0 730.8 310.5 711.9 311.0 712.1 311.5 709.0 312.0 707.4 312.5 704.7 313.0 690.7 313.5 683.8 314.0 688.7 314.5 691.2 315.0 685.2 315.5 679.8 316.0 674.6 316.5 675.4 317.0 670.3 317.5 673.5 318.0 662.6 318.5 664.7 319.0 660.7 319.5 661.1 320.0 656.4 320.5 665.5 321.0 657.0 321.5 654.1 322.0 631.3 322.5 636.0 323.0 630.5 323.5 632.4 324.0 613.7 324.5 627.7 325.0 622.9 325.5 606.0 326.0 603.0 326.5 599.0 327.0 598.3 327.5 596.2 328.0 598.3 328.5 581.4 329.0 582.3 329.5 575.1 330.0 579.5 330.5 570.4 331.0 570.0 331.5 553.5 332.0 554.6 332.5 547.9 333.0 556.5 333.5 550.2 334.0 543.3 334.5 540.7 335.0 543.8 335.5 535.8 336.0 533.0 336.5 538.7 337.0 547.5 337.5 531.8 338.0 528.5 338.5 524.9 339.0 523.4 339.5 532.4 340.0 533.1 340.5 527.6 341.0 528.0 341.5 525.6 342.0 524.5 342.5 514.7 343.0 519.4 343.5 521.7 344.0 516.5 344.5 517.7 345.0 515.5 345.5 517.6 346.0 523.4 346.5 515.9 347.0 516.5 347.5 520.9 348.0 519.0 348.5 523.8 349.0 500.7 349.5 516.3 350.0 507.0 350.5 504.9 351.0 503.5 351.5 499.5 352.0 494.0 352.5 483.5 353.0 487.8 353.5 471.2 354.0 467.7 354.5 470.6 355.0 458.4 355.5 473.1 356.0 462.0 356.5 466.4 357.0 447.4 357.5 440.9 358.0 440.5 358.5 443.9 359.0 433.5 359.5 439.8 360.0 436.1 360.5 447.9 361.0 429.6 361.5 442.4 362.0 428.3 362.5 425.1 363.0 426.4 363.5 421.6 364.0 432.0 364.5 438.8 365.0 430.8 365.5 434.7 366.0 443.8 366.5 432.1 367.0 432.1 367.5 428.6 368.0 417.2 368.5 440.3 369.0 417.5 369.5 441.4 370.0 435.7 370.5 447.2 371.0 435.6 371.5 428.1 372.0 439.1 372.5 429.5 373.0 432.5 373.5 433.9 374.0 431.5 374.5 430.5 375.0 423.9 375.5 430.1 376.0 411.3 376.5 431.0 377.0 421.3 377.5 444.4 378.0 446.2 378.5 415.0 379.0 435.4 379.5 432.3 380.0 422.7 380.5 437.1 381.0 426.3 381.5 412.3 382.0 425.9 382.5 426.2 383.0 428.1 383.5 414.9 384.0 433.5 384.5 435.5 385.0 418.4 385.5 424.7 386.0 432.1 386.5 429.0 387.0 453.2 387.5 439.6 388.0 428.7 388.5 431.8 389.0 439.5 389.5 462.8 390.0 438.4 390.5 441.2 391.0 444.5 391.5 464.4 392.0 460.5 392.5 432.0 393.0 443.7 393.5 437.1 394.0 440.9 394.5 422.5 395.0 451.0 395.5 431.9 396.0 433.1 396.5 423.3 397.0 425.2 397.5 437.9 398.0 442.1 398.5 439.8 399.0 444.4 399.5 439.5 400.0 432.6 400.5 440.4 401.0 437.5 401.5 429.9 402.0 437.0 402.5 441.2 403.0 429.5 403.5 422.2 404.0 431.5 404.5 442.2 405.0 420.6 405.5 421.5 406.0 421.3 406.5 435.5 407.0 406.2 407.5 429.5 408.0 439.2 408.5 420.8 409.0 445.2 409.5 437.2 410.0 427.6 410.5 436.2 411.0 419.9 411.5 430.2 412.0 454.7 412.5 428.0 413.0 455.7 413.5 436.7 414.0 447.6 414.5 438.2 415.0 415.5 415.5 432.1 416.0 439.8 416.5 426.4 417.0 424.6 417.5 442.1 418.0 432.5 418.5 422.8 419.0 433.8 419.5 450.4 420.0 438.3 420.5 453.7 421.0 460.9 421.5 447.1 422.0 436.5 422.5 435.5 423.0 448.7 423.5 477.0 424.0 451.3 424.5 453.4 425.0 442.5 425.5 448.9 426.0 439.9 426.5 440.2 427.0 429.5 427.5 425.8 428.0 436.2 428.5 429.8 429.0 431.4 429.5 448.3 430.0 441.3 430.5 472.9 431.0 454.2 431.5 439.9 432.0 455.6 432.5 452.8 433.0 443.5 433.5 462.5 434.0 444.3 434.5 421.7 435.0 460.8 435.5 446.5 436.0 467.5 436.5 445.4 437.0 439.3 437.5 465.8 438.0 438.0 438.5 449.3 439.0 460.2 439.5 444.9 440.0 441.2 440.5 441.6 441.0 447.9 441.5 430.6 442.0 444.8 442.5 444.9 443.0 463.6 443.5 437.9 444.0 433.7 444.5 452.4 445.0 443.0 445.5 452.1 446.0 452.4 446.5 464.6 447.0 447.3 447.5 453.6 448.0 428.6 448.5 444.8 449.0 468.2 449.5 443.8 450.0 441.5 450.5 434.0 451.0 450.2 451.5 444.2 452.0 428.9 452.5 446.8 453.0 442.1 453.5 447.0 454.0 432.8 454.5 457.1 455.0 443.5 455.5 437.7 456.0 432.9 456.5 434.6 457.0 444.7 457.5 431.8 458.0 444.4 458.5 438.3 459.0 445.6 459.5 440.0 460.0 431.3 460.5 413.0 461.0 436.4 461.5 442.3 462.0 436.8 462.5 441.8 463.0 432.2 463.5 434.1 464.0 429.3 464.5 453.8 465.0 442.4 465.5 436.5 466.0 428.4 466.5 440.8 467.0 457.2 467.5 446.8 468.0 433.9 468.5 455.2 469.0 454.3 469.5 448.7 470.0 445.9 470.5 449.1 471.0 442.6 471.5 445.1 472.0 429.7 472.5 454.2 473.0 442.4 473.5 462.5 474.0 422.2 474.5 452.1 475.0 456.4 475.5 443.8 476.0 452.9 476.5 456.4 477.0 454.7 477.5 442.9 478.0 446.5 478.5 458.0 479.0 460.1 479.5 447.2 480.0 446.3 480.5 446.9 481.0 455.0 481.5 432.8 482.0 429.4 482.5 443.9 483.0 430.6 483.5 435.5 484.0 442.2 484.5 446.2 485.0 430.2 485.5 450.0 486.0 423.8 486.5 448.6 487.0 427.4 487.5 431.5 488.0 452.3 488.5 442.3 489.0 439.1 489.5 443.5 490.0 453.6 490.5 448.9 491.0 449.8 491.5 461.6 492.0 443.5 492.5 446.1 493.0 445.4 493.5 462.5 494.0 459.7 494.5 461.5 495.0 446.3 495.5 443.3 496.0 452.1 496.5 465.3 497.0 448.6 497.5 446.1 498.0 430.2 498.5 435.7 499.0 434.5 499.5 453.3 500.0 461.8 500.5 433.3 501.0 434.1 501.5 409.8 502.0 435.7 502.5 433.3 503.0 422.2 503.5 441.9 504.0 417.8 504.5 432.5 505.0 436.9 505.5 423.2 506.0 446.1 506.5 449.0 507.0 424.3 507.5 424.9 508.0 446.7 508.5 440.7 509.0 428.9 509.5 438.7 510.0 440.8 510.5 440.2 511.0 449.9 511.5 444.7 512.0 458.6 512.5 443.6 513.0 445.9 513.5 449.5 514.0 451.7 514.5 444.9 515.0 424.5 515.5 446.1 516.0 437.8 516.5 453.9 517.0 438.1 517.5 442.8 518.0 425.3 518.5 455.4 519.0 440.1 519.5 435.9 520.0 442.3 520.5 435.1 521.0 441.9 521.5 440.6 522.0 443.9 522.5 461.5 523.0 437.6 523.5 442.6 524.0 440.5 524.5 450.1 525.0 431.3 525.5 436.9 526.0 444.1 526.5 450.5 527.0 444.4 527.5 439.5 528.0 435.4 528.5 449.1 529.0 458.1 529.5 445.6 530.0 443.4 530.5 445.3 531.0 430.4 531.5 436.8 532.0 437.4 532.5 443.8 533.0 441.1 533.5 429.7 534.0 455.1 534.5 462.1 535.0 442.7 535.5 450.5 536.0 449.8 536.5 455.8 537.0 432.7 537.5 465.3 538.0 444.0 538.5 462.3 539.0 450.4 539.5 445.9 540.0 448.9 540.5 460.1 541.0 442.1 541.5 447.5 542.0 446.6 542.5 433.7 543.0 464.9 543.5 457.1 544.0 450.4 544.5 462.1 545.0 439.3 545.5 448.0 546.0 466.3 546.5 458.3 547.0 425.0 547.5 413.8 548.0 438.3 548.5 461.2 549.0 446.7 549.5 451.0 550.0 461.4 550.5 447.8 551.0 461.1 551.5 468.8 552.0 467.0 552.5 467.6 553.0 458.2 553.5 470.6 554.0 461.3 554.5 479.7 555.0 493.0 555.5 458.6 556.0 443.4 556.5 461.2 557.0 468.8 557.5 475.0 558.0 474.4 558.5 454.0 559.0 452.7 559.5 472.7 560.0 447.0 560.5 467.2 561.0 451.3 561.5 459.7 562.0 457.4 562.5 456.8 563.0 456.4 563.5 437.2 564.0 450.7 564.5 448.2 565.0 452.2 565.5 463.0 566.0 448.7 566.5 445.6 567.0 446.8 567.5 452.2 568.0 464.2 568.5 448.7 569.0 469.6 569.5 460.8 570.0 455.4 570.5 443.6 571.0 459.3 571.5 463.1 572.0 436.6 572.5 465.9 573.0 469.1 573.5 453.9 574.0 453.9 574.5 472.3 575.0 458.6 575.5 435.4 576.0 443.7 576.5 441.6 577.0 441.4 577.5 418.6 578.0 451.1 578.5 437.0 579.0 445.6 579.5 442.7 580.0 453.0 580.5 441.1 581.0 435.6 581.5 448.5 582.0 443.3 582.5 436.8 583.0 452.4 583.5 438.9 584.0 428.7 584.5 448.0 585.0 422.0 585.5 439.6 586.0 422.9 586.5 432.1 587.0 444.7 587.5 418.8 588.0 439.0 588.5 430.7 589.0 430.1 589.5 426.3 590.0 436.5 590.5 418.5 591.0 422.2 591.5 432.8 592.0 426.3 592.5 427.8 593.0 434.2 593.5 433.2 594.0 431.8 594.5 450.7 595.0 443.3 595.5 445.0 596.0 431.5 596.5 426.3 597.0 416.4 597.5 427.9 598.0 410.2 598.5 426.2 599.0 440.8 599.5 450.3 600.0 444.3 600.5 426.1 601.0 440.6 601.5 427.7 602.0 444.4 602.5 434.5 603.0 443.9 603.5 460.9 604.0 443.1 604.5 456.9 605.0 434.2 605.5 428.7 606.0 445.9 606.5 450.2 607.0 427.3 607.5 434.4 608.0 419.4 608.5 432.5 609.0 462.4 609.5 433.5 610.0 427.9 610.5 418.4 611.0 435.5 611.5 438.6 612.0 435.3 612.5 430.6 613.0 413.9 613.5 444.5 614.0 425.3 614.5 424.2 615.0 433.3 615.5 403.6 616.0 425.4 616.5 424.7 617.0 430.0 617.5 439.9 618.0 430.6 618.5 406.4 619.0 421.2 619.5 426.2 620.0 425.0 620.5 409.8 621.0 405.6 621.5 428.3 622.0 426.4 622.5 423.2 623.0 406.3 623.5 443.2 624.0 396.0 624.5 422.8 625.0 448.6 625.5 425.8 626.0 429.7 626.5 414.9 627.0 440.3 627.5 412.1 628.0 426.8 628.5 424.3 629.0 410.9 629.5 429.6 630.0 404.8 630.5 411.5 631.0 417.5 631.5 412.9 632.0 421.5 632.5 425.8 633.0 413.1 633.5 410.4 634.0 410.7 634.5 412.4 635.0 424.9 635.5 415.2 636.0 422.6 636.5 418.8 637.0 412.5 637.5 431.5 638.0 413.4 638.5 425.3 639.0 441.5 639.5 415.7 640.0 426.8 640.5 411.2 641.0 422.1 641.5 411.8 642.0 423.3 642.5 421.4 643.0 428.3 643.5 443.5 644.0 430.5 644.5 434.8 645.0 428.1 645.5 426.5 646.0 420.7 646.5 410.9 647.0 429.7 647.5 445.1 648.0 432.3 648.5 420.7 649.0 441.4 649.5 418.3 650.0 414.4 650.5 406.2 651.0 406.8 651.5 412.2 652.0 433.6 652.5 409.7 653.0 400.3 653.5 404.0 654.0 407.7 654.5 392.5 655.0 411.7 655.5 418.0 656.0 414.5 656.5 417.8 657.0 398.6 657.5 394.5 658.0 424.9 658.5 422.6 659.0 395.1 659.5 412.2 660.0 409.6 660.5 414.3 661.0 410.4 661.5 403.0 662.0 410.3 662.5 410.6 663.0 409.6 663.5 392.7 664.0 382.9 664.5 407.5 665.0 401.0 665.5 422.2 666.0 428.7 666.5 425.5 667.0 420.0 667.5 425.0 668.0 436.2 668.5 416.4 669.0 432.5 669.5 429.1 670.0 423.0 670.5 433.4 671.0 409.2 671.5 423.9 672.0 402.3 672.5 401.4 673.0 395.7 673.5 408.4 674.0 391.7 674.5 399.6 675.0 385.6 675.5 406.7 676.0 413.6 676.5 396.8 677.0 411.5 677.5 401.3 678.0 419.1 678.5 399.9 679.0 385.2 679.5 419.2 680.0 405.5 680.5 399.1 681.0 405.6 681.5 398.0 682.0 414.6 682.5 406.7 683.0 433.5 683.5 425.3 684.0 401.4 684.5 402.4 685.0 411.3 685.5 396.6 686.0 414.3 686.5 414.1 687.0 406.0 687.5 407.7 688.0 417.8 688.5 427.0 689.0 427.6 689.5 412.9 690.0 421.6 690.5 406.3 691.0 419.0 691.5 406.2 692.0 424.5 692.5 405.5 693.0 409.0 693.5 419.2 694.0 425.1 694.5 404.4 695.0 412.8 695.5 418.5 696.0 418.1 696.5 405.8 697.0 413.9 697.5 409.0 698.0 425.2 698.5 416.4 699.0 397.5 699.5 389.4 700.0 414.1 700.5 426.9 701.0 418.6 701.5 428.0 702.0 416.2 702.5 409.3 703.0 432.4 703.5 427.1 704.0 433.8 704.5 413.2 705.0 429.0 705.5 420.3 706.0 434.2 706.5 419.2 707.0 418.0 707.5 417.3 708.0 435.1 708.5 421.8 709.0 413.1 709.5 410.0 710.0 409.5 710.5 434.8 711.0 401.6 711.5 411.7 712.0 427.1 712.5 433.2 713.0 420.3 713.5 430.5 714.0 431.0 714.5 433.9 715.0 424.9 715.5 441.7 716.0 427.2 716.5 440.7 717.0 413.7 717.5 434.0 718.0 411.1 718.5 408.1 719.0 427.8 719.5 414.1 720.0 426.9 720.5 411.6 721.0 439.0 721.5 423.3 722.0 412.3 722.5 426.1 723.0 433.8 723.5 417.5 724.0 430.8 724.5 446.3 725.0 434.2 725.5 424.9 726.0 418.7 726.5 429.6 727.0 407.7 727.5 391.5 728.0 415.0 728.5 410.4 729.0 438.9 729.5 422.7 730.0 411.8 730.5 410.7 731.0 428.5 731.5 416.2 732.0 419.8 732.5 425.8 733.0 428.3 733.5 428.9 734.0 429.1 734.5 440.9 735.0 444.4 735.5 409.8 736.0 477.4 736.5 426.7 737.0 437.8 737.5 417.9 738.0 429.4 738.5 429.3 739.0 429.6 739.5 438.7 740.0 438.2 740.5 423.3 741.0 433.7 741.5 443.2 742.0 443.3 742.5 432.8 743.0 432.6 743.5 432.7 744.0 421.4 744.5 417.6 745.0 444.4 745.5 422.6 746.0 425.8 746.5 415.8 747.0 435.3 747.5 439.2 748.0 418.9 748.5 426.2 749.0 413.6 749.5 439.5 750.0 431.8 750.5 414.4 751.0 436.1 751.5 428.0 752.0 429.4 752.5 429.7 753.0 420.1 753.5 422.0 754.0 434.1 754.5 427.5 755.0 418.5 755.5 448.4 756.0 425.5 756.5 421.6 757.0 419.7 757.5 433.1 758.0 435.3 758.5 427.4 759.0 433.1 759.5 408.7 760.0 419.6 760.5 418.2 761.0 422.7 761.5 427.2 762.0 401.3 762.5 452.8 763.0 411.9 763.5 423.2 764.0 427.0 764.5 426.0 765.0 418.6 765.5 385.6 766.0 402.9 766.5 420.6 767.0 403.1 767.5 401.5 768.0 388.3 768.5 424.2 769.0 417.1 769.5 403.0 770.0 410.5 770.5 410.6 771.0 399.9 771.5 407.8 772.0 412.4 772.5 414.7 773.0 421.3 773.5 408.2 774.0 402.7 774.5 410.8 775.0 399.8 775.5 393.5 776.0 417.6 776.5 402.2 777.0 407.4 777.5 412.9 778.0 395.7 778.5 414.0 779.0 413.0 779.5 408.7 780.0 415.0 780.5 405.0 781.0 391.8 781.5 412.5 782.0 407.2 782.5 425.8 783.0 420.1 783.5 412.2 784.0 417.7 784.5 430.2 785.0 427.3 785.5 418.9 786.0 418.7 786.5 411.1 787.0 412.2 787.5 419.2 788.0 412.2 788.5 416.6 789.0 402.8 789.5 397.7 790.0 397.7 790.5 410.5 791.0 428.1 791.5 415.9 792.0 403.8 792.5 397.4 793.0 420.0 793.5 415.7 794.0 396.4 794.5 420.1 795.0 411.0 795.5 422.7 796.0 413.5 796.5 420.0 797.0 415.5 797.5 403.9 798.0 412.3 798.5 408.7 799.0 424.4 799.5 406.3 800.0 400.8 800.5 422.0 801.0 425.3 801.5 426.9 802.0 422.0 802.5 394.5 803.0 401.2 803.5 401.2 804.0 405.1 804.5 382.2 805.0 402.3 805.5 403.7 806.0 390.0 806.5 399.5 807.0 409.1 807.5 396.7 808.0 406.2 808.5 405.3 809.0 399.1 809.5 399.0 810.0 391.7 810.5 409.4 811.0 394.0 811.5 393.5 812.0 409.4 812.5 396.8 813.0 409.9 813.5 417.8 814.0 409.5 814.5 411.1 815.0 420.4 815.5 419.8 816.0 397.7 816.5 400.8 817.0 427.8 817.5 419.0 818.0 394.8 818.5 402.8 819.0 417.2 819.5 408.0 820.0 423.5 820.5 420.7 821.0 426.0 821.5 410.5 822.0 429.2 822.5 443.3 823.0 416.1 823.5 437.3 824.0 433.8 824.5 430.1 825.0 422.6 825.5 409.0 826.0 409.2 826.5 423.0 827.0 422.7 827.5 422.9 828.0 418.3 828.5 416.1 829.0 401.4 829.5 392.7 830.0 406.1 830.5 408.8 831.0 404.7 831.5 388.8 832.0 398.9 832.5 389.3 833.0 405.1 833.5 392.4 834.0 399.8 834.5 402.8 835.0 398.5 835.5 409.8 836.0 383.9 836.5 371.8 837.0 401.7 837.5 405.3 838.0 405.1 838.5 393.6 839.0 396.6 839.5 393.2 840.0 380.2 840.5 388.6 841.0 400.4 841.5 390.8 842.0 416.5 842.5 382.9 843.0 394.5 843.5 410.1 844.0 393.1 844.5 387.6 845.0 384.8 845.5 390.1 846.0 411.2 846.5 398.8 847.0 398.3 847.5 386.4 848.0 398.4 848.5 389.6 849.0 378.4 849.5 382.3 850.0 388.6 850.5 398.8 851.0 387.6 851.5 394.4 852.0 411.1 852.5 384.8 853.0 382.2 853.5 406.2 854.0 402.7 854.5 399.3 855.0 405.0 855.5 401.3 856.0 412.1 856.5 406.1 857.0 420.1 857.5 403.2 858.0 409.3 858.5 421.0 859.0 417.3 859.5 430.4 860.0 424.2 860.5 420.3 861.0 428.3 861.5 421.1 862.0 410.6 862.5 414.4 863.0 417.3 863.5 420.4 864.0 426.1 864.5 434.7 865.0 432.2 865.5 445.9 866.0 442.7 866.5 430.2 867.0 450.5 867.5 447.7 868.0 433.0 868.5 441.7 869.0 450.2 869.5 442.0 870.0 449.5 870.5 440.4 871.0 440.5 871.5 427.4 872.0 431.6 872.5 421.9 873.0 430.3 873.5 405.2 874.0 424.0 874.5 432.1 875.0 424.6 875.5 417.8 876.0 422.6 876.5 408.0 877.0 407.2 877.5 410.8 878.0 411.7 878.5 421.4 879.0 401.5 879.5 418.9 880.0 391.9 880.5 397.2 881.0 402.2 881.5 411.7 882.0 391.9 882.5 374.8 883.0 398.5 883.5 392.5 884.0 380.9 884.5 380.3 885.0 382.9 885.5 390.1 886.0 395.1 886.5 373.3 887.0 409.7 887.5 385.6 888.0 380.9 888.5 389.5 889.0 381.8 889.5 401.3 890.0 386.2 890.5 371.2 891.0 370.2 891.5 368.2 892.0 368.6 892.5 377.5 893.0 363.3 893.5 384.6 894.0 392.0 894.5 365.5 895.0 375.8 895.5 346.7 896.0 357.1 896.5 372.6 897.0 367.4 897.5 367.8 898.0 372.6 898.5 363.4 899.0 368.3 899.5 357.0 900.0 352.2 900.5 383.4 901.0 361.8 901.5 364.1 902.0 385.1 902.5 382.2 903.0 367.1 903.5 367.8 904.0 373.2 904.5 365.6 905.0 381.4 905.5 378.3 906.0 378.8 906.5 385.4 907.0 385.0 907.5 395.8 908.0 391.9 908.5 359.1 909.0 383.7 909.5 362.6 910.0 358.3 910.5 378.2 911.0 363.3 911.5 366.5 912.0 379.9 912.5 363.0 913.0 361.2 913.5 374.0 914.0 383.8 914.5 377.9 915.0 358.3 915.5 367.9 916.0 373.2 916.5 394.0 917.0 383.8 917.5 383.2 918.0 386.4 918.5 371.1 919.0 378.4 919.5 377.9 920.0 362.7 920.5 371.3 921.0 375.8 921.5 358.2 922.0 375.1 922.5 372.8 923.0 373.6 923.5 354.0 924.0 361.1 924.5 373.3 925.0 366.4 925.5 351.0 926.0 361.8 926.5 374.9 927.0 361.9 927.5 368.4 928.0 391.9 928.5 368.1 929.0 393.1 929.5 361.5 930.0 365.8 930.5 387.8 931.0 372.5 931.5 362.7 932.0 365.5 932.5 375.0 933.0 382.7 933.5 368.1 934.0 382.5 934.5 370.8 935.0 379.1 935.5 380.8 936.0 381.7 936.5 371.6 937.0 374.5 937.5 381.6 938.0 364.7 938.5 379.9 939.0 384.1 939.5 390.3 940.0 380.7 940.5 380.1 941.0 384.0 941.5 376.0 942.0 381.5 942.5 387.7 943.0 386.5 943.5 373.5 944.0 380.6 944.5 363.1 945.0 391.9 945.5 379.1 946.0 387.0 946.5 374.3 947.0 384.7 947.5 390.1 948.0 395.5 948.5 372.6 949.0 393.9 949.5 383.6 950.0 377.1 950.5 389.0 951.0 381.0 951.5 380.6 952.0 376.3 952.5 385.3 953.0 383.4 953.5 381.4 954.0 373.9 954.5 378.5 955.0 387.6 955.5 396.3 956.0 383.7 956.5 398.0 957.0 384.3 957.5 374.0 958.0 391.3 958.5 361.8 959.0 390.5 959.5 398.2 960.0 386.1 960.5 389.8 961.0 416.6 961.5 396.8 962.0 399.1 962.5 406.3 963.0 399.8 963.5 401.9 964.0 430.4 964.5 382.6 965.0 420.9 965.5 396.0 966.0 395.0 966.5 409.7 967.0 403.4 967.5 389.6 968.0 387.6 968.5 387.9 969.0 390.9 969.5 381.8 970.0 387.2 970.5 398.1 971.0 394.4 971.5 395.2 972.0 400.0 972.5 389.3 973.0 381.8 973.5 383.6 974.0 400.3 974.5 382.1 975.0 382.3 975.5 375.6 976.0 376.4 976.5 376.0 977.0 370.0 977.5 367.5 978.0 361.0 978.5 360.7 979.0 373.8 979.5 378.5 980.0 381.7 980.5 376.5 981.0 371.1 981.5 388.1 982.0 390.4 982.5 371.9 983.0 396.1 983.5 395.4 984.0 407.2 984.5 381.1 985.0 380.5 985.5 401.4 986.0 376.9 986.5 387.7 987.0 384.6 987.5 385.8 988.0 377.5 988.5 394.3 989.0 406.8 989.5 402.6 990.0 403.8 990.5 397.3 991.0 416.1 991.5 408.4 992.0 414.5 992.5 390.0 993.0 408.8 993.5 394.5 994.0 408.9 994.5 407.2 995.0 394.2 995.5 405.0 996.0 413.0 996.5 405.4 997.0 405.4 997.5 390.7 998.0 392.0 998.5 387.1 999.0 398.2 999.5 407.2 1000.0 398.3 1000.5 392.1 1001.0 379.1 1001.5 392.0 1002.0 383.0 1002.5 364.6 1003.0 364.2 1003.5 375.8 1004.0 368.9 1004.5 392.2 1005.0 392.0 1005.5 364.4 1006.0 369.2 1006.5 388.9 1007.0 364.0 1007.5 380.3 1008.0 376.8 1008.5 386.4 1009.0 376.8 1009.5 367.2 1010.0 375.4 1010.5 371.0 1011.0 379.7 1011.5 369.5 1012.0 389.0 1012.5 368.6 1013.0 373.6 1013.5 362.9 1014.0 370.5 1014.5 393.2 1015.0 371.9 1015.5 379.9 1016.0 367.1 1016.5 365.5 1017.0 385.7 1017.5 373.6 1018.0 371.1 1018.5 389.7 1019.0 386.8 1019.5 354.2 1020.0 376.4 1020.5 387.7 1021.0 388.0 1021.5 374.7 1022.0 394.3 1022.5 371.0 1023.0 375.7 1023.5 378.4 1024.0 376.2 1024.5 383.2 1025.0 384.3 1025.5 373.2 1026.0 376.1 1026.5 365.6 1027.0 369.7 1027.5 388.1 1028.0 372.2 1028.5 381.5 1029.0 367.0 1029.5 368.6 1030.0 370.1 1030.5 372.7 1031.0 367.7 1031.5 371.2 1032.0 377.7 1032.5 383.4 1033.0 373.6 1033.5 379.9 1034.0 383.8 1034.5 366.0 1035.0 362.6 1035.5 394.6 1036.0 392.6 1036.5 380.8 1037.0 383.4 1037.5 370.2 1038.0 364.8 1038.5 379.6 1039.0 360.4 1039.5 381.6 1040.0 364.4 1040.5 372.2 1041.0 386.8 1041.5 385.5 1042.0 364.2 1042.5 377.2 1043.0 357.3 1043.5 362.3 1044.0 372.4 1044.5 383.2 1045.0 365.4 1045.5 377.7 1046.0 374.9 1046.5 363.0 1047.0 375.0 1047.5 391.6 1048.0 376.6 1048.5 382.4 1049.0 385.2 1049.5 369.6 1050.0 387.8 1050.5 389.7 1051.0 390.1 1051.5 387.1 1052.0 370.1 1052.5 369.6 1053.0 368.9 1053.5 369.4 1054.0 372.5 1054.5 392.0 1055.0 398.8 1055.5 380.6 1056.0 396.7 1056.5 378.3 1057.0 405.6 1057.5 383.5 1058.0 378.3 1058.5 395.1 1059.0 395.6 1059.5 391.0 1060.0 389.7 1060.5 384.7 1061.0 392.3 1061.5 386.9 1062.0 394.0 1062.5 378.8 1063.0 391.6 1063.5 393.2 1064.0 399.5 1064.5 397.1 1065.0 377.3 1065.5 380.0 1066.0 369.3 1066.5 387.6 1067.0 402.2 1067.5 405.6 1068.0 365.8 1068.5 384.1 1069.0 388.9 1069.5 382.9 1070.0 395.3 1070.5 393.5 1071.0 387.6 1071.5 391.8 1072.0 376.2 1072.5 381.8 1073.0 382.0 1073.5 398.8 1074.0 373.7 1074.5 386.7 1075.0 395.4 1075.5 386.3 1076.0 393.7 1076.5 378.5 1077.0 388.1 1077.5 391.8 1078.0 404.0 1078.5 388.8 1079.0 395.2 1079.5 381.1 1080.0 381.6 1080.5 395.7 1081.0 385.9 1081.5 393.8 1082.0 386.7 1082.5 400.0 1083.0 402.0 1083.5 370.1 1084.0 395.4 1084.5 380.6 1085.0 380.0 1085.5 373.3 1086.0 380.5 1086.5 361.9 1087.0 365.0 1087.5 364.2 1088.0 374.1 1088.5 380.0 1089.0 377.9 1089.5 374.0 1090.0 364.3 1090.5 352.8 1091.0 373.5 1091.5 370.6 1092.0 372.0 1092.5 381.5 1093.0 364.9 1093.5 363.5 1094.0 341.7 1094.5 368.3 1095.0 361.1 1095.5 353.3 1096.0 363.3 1096.5 348.8 1097.0 353.3 1097.5 377.6 1098.0 366.0 1098.5 368.1 1099.0 366.8 1099.5 366.2 1100.0 362.2 1100.5 383.4 1101.0 361.3 1101.5 370.1 1102.0 361.7 1102.5 361.4 1103.0 342.2 1103.5 348.2 1104.0 383.1 1104.5 383.6 1105.0 366.0 1105.5 370.9 1106.0 378.1 1106.5 363.2 1107.0 390.6 1107.5 363.7 1108.0 366.9 1108.5 346.9 1109.0 388.2 1109.5 373.4 1110.0 387.9 1110.5 361.6 1111.0 373.8 1111.5 370.4 1112.0 370.9 1112.5 388.7 1113.0 390.3 1113.5 381.7 1114.0 364.8 1114.5 378.0 1115.0 383.4 1115.5 376.8 1116.0 378.2 1116.5 378.5 1117.0 366.2 1117.5 363.8 1118.0 392.0 1118.5 366.9 1119.0 377.2 1119.5 384.1 1120.0 362.0 1120.5 373.0 1121.0 356.7 1121.5 366.0 1122.0 357.0 1122.5 360.6 1123.0 363.3 1123.5 364.2 1124.0 363.9 1124.5 341.8 1125.0 380.1 1125.5 361.7 1126.0 353.8 1126.5 358.8 1127.0 368.5 1127.5 356.6 1128.0 363.3 1128.5 363.8 1129.0 374.7 1129.5 363.2 1130.0 376.0 1130.5 376.5 1131.0 373.1 1131.5 388.3 1132.0 378.1 1132.5 368.4 1133.0 384.9 1133.5 385.6 1134.0 386.7 1134.5 407.9 1135.0 415.5 1135.5 397.7 1136.0 402.4 1136.5 397.9 1137.0 415.0 1137.5 403.1 1138.0 396.9 1138.5 393.4 1139.0 410.4 1139.5 412.2 1140.0 388.7 1140.5 395.9 1141.0 407.7 1141.5 409.8 1142.0 385.2 1142.5 392.2 1143.0 402.4 1143.5 387.3 1144.0 386.4 1144.5 384.0 1145.0 375.3 1145.5 387.4 1146.0 389.1 1146.5 372.0 1147.0 386.4 1147.5 394.7 1148.0 384.8 1148.5 391.1 1149.0 376.0 1149.5 394.4 1150.0 373.5 1150.5 399.9 1151.0 377.9 1151.5 363.9 1152.0 375.4 1152.5 381.0 1153.0 381.1 1153.5 379.8 1154.0 383.6 1154.5 393.2 1155.0 394.9 1155.5 382.4 1156.0 396.7 1156.5 373.8 1157.0 372.1 1157.5 369.6 1158.0 384.7 1158.5 361.9 1159.0 361.5 1159.5 385.4 1160.0 387.4 1160.5 382.4 1161.0 353.5 1161.5 367.0 1162.0 374.1 1162.5 366.4 1163.0 349.5 1163.5 362.0 1164.0 349.1 1164.5 354.1 1165.0 387.4 1165.5 373.6 1166.0 353.1 1166.5 353.1 1167.0 372.2 1167.5 361.9 1168.0 373.3 1168.5 361.2 1169.0 365.4 1169.5 369.5 1170.0 356.9 1170.5 348.4 1171.0 355.6 1171.5 360.5 1172.0 365.5 1172.5 367.1 1173.0 367.2 1173.5 373.0 1174.0 359.3 1174.5 381.5 1175.0 387.1 1175.5 370.9 1176.0 368.8 1176.5 378.8 1177.0 372.8 1177.5 368.5 1178.0 365.6 1178.5 360.8 1179.0 357.6 1179.5 376.5 1180.0 382.6 1180.5 361.5 1181.0 371.4 1181.5 374.0 1182.0 366.9 1182.5 362.3 1183.0 364.0 1183.5 346.5 1184.0 362.8 1184.5 358.3 1185.0 379.9 1185.5 367.0 1186.0 353.6 1186.5 356.4 1187.0 373.2 1187.5 372.6 1188.0 359.5 1188.5 357.4 1189.0 345.5 1189.5 357.3 1190.0 359.7 1190.5 354.9 1191.0 379.4 1191.5 344.9 1192.0 362.3 1192.5 368.1 1193.0 368.9 1193.5 381.5 1194.0 351.9 1194.5 358.5 1195.0 366.8 1195.5 367.0 1196.0 361.8 1196.5 357.8 1197.0 375.2 1197.5 354.2 1198.0 358.4 1198.5 377.6 1199.0 380.3 1199.5 371.7 1200.0 354.8 1200.5 354.8 1201.0 354.4 1201.5 352.1 1202.0 359.1 1202.5 375.6 1203.0 365.5 1203.5 356.1 1204.0 356.0 1204.5 352.2 1205.0 375.4 1205.5 344.1 1206.0 366.4 1206.5 349.7 1207.0 353.4 1207.5 349.2 1208.0 372.9 1208.5 362.7 1209.0 390.1 1209.5 353.3 1210.0 352.8 1210.5 369.2 1211.0 369.1 1211.5 361.1 1212.0 344.4 1212.5 378.3 1213.0 369.8 1213.5 368.3 1214.0 358.7 1214.5 370.8 1215.0 359.3 1215.5 365.4 1216.0 363.4 1216.5 377.8 1217.0 361.2 1217.5 362.6 1218.0 376.6 1218.5 367.7 1219.0 364.6 1219.5 361.4 1220.0 371.6 1220.5 354.8 1221.0 364.2 1221.5 377.7 1222.0 360.2 1222.5 347.0 1223.0 341.5 1223.5 353.2 1224.0 338.6 1224.5 334.1 1225.0 341.6 1225.5 337.9 1226.0 356.9 1226.5 334.4 1227.0 364.3 1227.5 342.2 1228.0 351.6 1228.5 358.3 1229.0 355.5 1229.5 362.1 1230.0 347.5 1230.5 337.1 1231.0 359.5 1231.5 347.3 1232.0 360.1 1232.5 376.8 1233.0 367.4 1233.5 365.0 1234.0 361.0 1234.5 370.0 1235.0 371.9 1235.5 358.6 1236.0 377.1 1236.5 363.9 1237.0 376.3 1237.5 369.5 1238.0 383.0 1238.5 381.0 1239.0 371.9 1239.5 369.9 1240.0 374.2 1240.5 381.9 1241.0 377.3 1241.5 367.1 1242.0 367.2 1242.5 378.2 1243.0 345.7 1243.5 365.8 1244.0 350.8 1244.5 372.0 1245.0 353.3 1245.5 356.6 1246.0 346.8 1246.5 357.5 1247.0 365.3 1247.5 374.2 1248.0 346.2 1248.5 354.9 1249.0 398.0 1249.5 369.8 1250.0 361.2 1250.5 366.8 1251.0 336.0 1251.5 377.7 1252.0 363.4 1252.5 347.7 1253.0 372.7 1253.5 354.9 1254.0 350.8 1254.5 365.8 1255.0 364.6 1255.5 356.5 1256.0 360.6 1256.5 348.7 1257.0 348.2 1257.5 371.4 1258.0 375.8 1258.5 367.2 1259.0 366.6 1259.5 358.8 1260.0 361.0 1260.5 352.8 1261.0 378.7 1261.5 356.0 1262.0 365.8 1262.5 346.9 1263.0 349.9 1263.5 383.5 1264.0 362.4 1264.5 359.8 1265.0 369.5 1265.5 360.3 1266.0 369.6 1266.5 359.7 1267.0 373.8 1267.5 367.7 1268.0 352.5 1268.5 374.3 1269.0 364.3 1269.5 350.0 1270.0 362.5 1270.5 361.6 1271.0 374.0 1271.5 346.2 1272.0 361.7 1272.5 351.6 1273.0 357.8 1273.5 349.0 1274.0 351.1 1274.5 356.9 1275.0 341.1 1275.5 333.0 1276.0 354.2 1276.5 350.6 1277.0 356.2 1277.5 361.9 1278.0 353.5 1278.5 367.0 1279.0 354.5 1279.5 355.4 1280.0 361.7 1280.5 358.5 1281.0 351.0 1281.5 352.1 1282.0 359.9 1282.5 342.8 1283.0 348.8 1283.5 354.8 1284.0 342.0 1284.5 354.0 1285.0 364.5 1285.5 367.0 1286.0 346.9 1286.5 357.7 1287.0 354.0 1287.5 356.2 1288.0 357.0 1288.5 354.0 1289.0 356.8 1289.5 350.4 1290.0 345.8 1290.5 350.8 1291.0 353.5 1291.5 361.3 1292.0 354.2 1292.5 359.3 1293.0 367.9 1293.5 346.9 1294.0 355.5 1294.5 365.1 1295.0 361.7 1295.5 352.7 1296.0 373.0 1296.5 363.0 1297.0 354.0 1297.5 382.0 1298.0 350.8 1298.5 362.8 1299.0 356.2 1299.5 363.6 1300.0 368.1 1300.5 354.8 1301.0 362.1 1301.5 362.2 1302.0 354.3 1302.5 376.1 1303.0 367.0 1303.5 363.2 1304.0 360.1 1304.5 363.7 1305.0 368.7 1305.5 363.0 1306.0 379.7 1306.5 342.7 1307.0 346.6 1307.5 364.9 1308.0 349.4 1308.5 366.8 1309.0 361.2 1309.5 373.4 1310.0 371.8 1310.5 380.7 1311.0 377.0 1311.5 380.2 1312.0 372.9 1312.5 378.0 1313.0 372.2 1313.5 361.5 1314.0 355.1 1314.5 355.8 1315.0 372.7 1315.5 345.4 1316.0 371.1 1316.5 363.0 1317.0 378.3 1317.5 373.9 1318.0 365.5 1318.5 373.6 1319.0 351.9 1319.5 377.2 1320.0 379.7 1320.5 357.8 1321.0 384.7 1321.5 375.9 1322.0 379.6 1322.5 365.0 1323.0 385.7 1323.5 386.4 1324.0 381.4 1324.5 372.7 1325.0 390.2 1325.5 395.1 1326.0 386.9 1326.5 392.5 1327.0 376.5 1327.5 383.0 1328.0 384.3 1328.5 381.3 1329.0 406.7 1329.5 383.0 1330.0 373.3 1330.5 385.7 1331.0 366.3 1331.5 379.8 1332.0 383.3 1332.5 370.7 1333.0 372.0 1333.5 365.6 1334.0 375.6 1334.5 367.2 1335.0 390.2 1335.5 379.1 1336.0 370.1 1336.5 358.0 1337.0 391.0 1337.5 383.3 1338.0 374.6 1338.5 371.3 1339.0 370.4 1339.5 363.4 1340.0 385.6 1340.5 368.7 1341.0 352.3 1341.5 359.5 1342.0 340.6 1342.5 372.1 1343.0 373.1 1343.5 382.9 1344.0 386.0 1344.5 357.6 1345.0 368.9 1345.5 374.0 1346.0 371.5 1346.5 357.8 1347.0 369.4 1347.5 365.2 1348.0 372.4 1348.5 358.0 1349.0 355.3 1349.5 352.5 1350.0 354.0 1350.5 350.8 1351.0 355.6 1351.5 364.7 1352.0 365.1 1352.5 374.2 1353.0 372.6 1353.5 368.4 1354.0 351.1 1354.5 367.7 1355.0 373.0 1355.5 348.4 1356.0 349.5 1356.5 350.4 1357.0 348.9 1357.5 355.7 1358.0 349.1 1358.5 361.9 1359.0 346.7 1359.5 357.8 1360.0 355.1 1360.5 351.7 1361.0 372.7 1361.5 364.5 1362.0 371.1 1362.5 364.2 1363.0 375.6 1363.5 375.9 1364.0 369.1 1364.5 353.7 1365.0 378.9 1365.5 377.2 1366.0 371.6 1366.5 371.4 1367.0 369.5 1367.5 369.3 1368.0 357.1 1368.5 384.4 1369.0 369.4 1369.5 360.4 1370.0 357.2 1370.5 384.8 1371.0 372.8 1371.5 364.1 1372.0 362.6 1372.5 341.8 1373.0 353.8 1373.5 365.3 1374.0 380.4 1374.5 348.0 1375.0 361.4 1375.5 387.0 1376.0 375.1 1376.5 372.8 1377.0 380.7 1377.5 368.2 1378.0 368.0 1378.5 377.0 1379.0 378.6 1379.5 360.2 1380.0 385.5 1380.5 339.7 1381.0 363.4 1381.5 399.5 1382.0 363.9 1382.5 374.4 1383.0 357.3 1383.5 381.3 1384.0 358.3 1384.5 360.6 1385.0 370.2 1385.5 380.2 1386.0 371.1 1386.5 377.1 1387.0 356.4 1387.5 374.9 1388.0 365.6 1388.5 373.0 1389.0 355.4 1389.5 357.2 1390.0 373.1 1390.5 366.4 1391.0 362.4 1391.5 355.7 1392.0 362.4 1392.5 369.0 1393.0 372.1 1393.5 360.3 1394.0 362.7 1394.5 370.2 1395.0 355.0 1395.5 374.3 1396.0 364.3 1396.5 362.0 1397.0 338.6 1397.5 345.3 1398.0 349.4 1398.5 352.6 1399.0 346.4 1399.5 359.6 1400.0 356.3 1400.5 351.7 1401.0 333.9 1401.5 366.8 1402.0 350.1 1402.5 358.3 1403.0 346.0 1403.5 352.6 1404.0 359.9 1404.5 356.3 1405.0 364.6 1405.5 355.2 1406.0 378.2 1406.5 342.4 1407.0 357.4 1407.5 374.1 1408.0 363.6 1408.5 362.6 1409.0 350.0 1409.5 378.7 1410.0 347.9 1410.5 370.2 1411.0 365.8 1411.5 371.0 1412.0 375.5 1412.5 353.5 1413.0 351.8 1413.5 356.2 1414.0 342.5 1414.5 367.3 1415.0 355.6 1415.5 361.2 1416.0 348.9 1416.5 360.1 1417.0 353.9 1417.5 359.2 1418.0 349.3 1418.5 370.0 1419.0 353.8 1419.5 335.4 1420.0 366.5 1420.5 357.3 1421.0 351.4 1421.5 384.0 1422.0 358.5 1422.5 345.3 1423.0 351.5 1423.5 360.5 1424.0 354.0 1424.5 368.0 1425.0 366.3 1425.5 348.7 1426.0 357.5 1426.5 364.3 1427.0 355.2 1427.5 355.8 1428.0 369.8 1428.5 366.3 1429.0 348.6 1429.5 356.8 1430.0 357.6 1430.5 359.7 1431.0 352.8 1431.5 371.8 1432.0 348.3 1432.5 346.5 1433.0 358.6 1433.5 334.4 1434.0 346.3 1434.5 362.5 1435.0 343.7 1435.5 348.4 1436.0 367.0 1436.5 360.5 1437.0 356.0 1437.5 356.9 1438.0 347.0 1438.5 355.6 1439.0 349.8 1439.5 375.4 1440.0 356.0 1440.5 347.5 1441.0 350.5 1441.5 352.0 1442.0 338.7 1442.5 344.8 1443.0 368.3 1443.5 340.5 1444.0 349.1 1444.5 365.1 1445.0 370.3 1445.5 346.0 1446.0 370.5 1446.5 353.1 1447.0 373.1 1447.5 362.2 1448.0 355.0 1448.5 353.1 1449.0 364.0 1449.5 351.4 1450.0 380.2 1450.5 356.3 1451.0 371.1 1451.5 355.2 1452.0 342.1 1452.5 348.7 1453.0 358.2 1453.5 365.3 1454.0 375.3 1454.5 358.4 1455.0 354.4 1455.5 344.7 1456.0 379.3 1456.5 358.8 1457.0 351.5 1457.5 368.1 1458.0 366.5 1458.5 377.5 1459.0 346.6 1459.5 355.9 1460.0 355.8 1460.5 342.8 1461.0 347.5 1461.5 346.1 1462.0 360.6 1462.5 359.7 1463.0 368.6 1463.5 351.7 1464.0 342.1 1464.5 360.3 1465.0 360.2 1465.5 363.8 1466.0 370.4 1466.5 353.6 1467.0 368.1 1467.5 351.6 1468.0 363.8 1468.5 369.8 1469.0 362.6 1469.5 366.4 1470.0 351.1 1470.5 358.3 1471.0 365.9 1471.5 352.3 1472.0 355.1 1472.5 386.3 1473.0 364.1 1473.5 352.3 1474.0 348.8 1474.5 370.6 1475.0 328.1 1475.5 350.0 1476.0 357.5 1476.5 344.3 1477.0 353.4 1477.5 337.0 1478.0 346.3 1478.5 346.2 1479.0 345.7 1479.5 346.9 1480.0 345.8 1480.5 356.3 1481.0 342.8 1481.5 339.5 1482.0 342.3 1482.5 341.8 1483.0 329.7 1483.5 325.6 1484.0 330.7 1484.5 346.4 1485.0 336.9 1485.5 339.2 1486.0 370.9 1486.5 353.7 1487.0 340.5 1487.5 336.1 1488.0 355.4 1488.5 334.3 1489.0 353.9 1489.5 338.2 1490.0 355.7 1490.5 336.0 1491.0 352.7 1491.5 327.1 1492.0 344.0 1492.5 357.1 1493.0 354.4 1493.5 330.7 1494.0 356.1 1494.5 354.7 1495.0 336.7 1495.5 344.7 1496.0 349.6 1496.5 347.2 1497.0 362.3 1497.5 373.6 1498.0 363.9 1498.5 360.4 1499.0 341.4 1499.5 355.4 1500.0 375.2 1500.5 343.7 1501.0 357.4 1501.5 347.1 1502.0 345.9 1502.5 356.5 1503.0 363.2 1503.5 361.6 1504.0 358.7 1504.5 363.7 1505.0 339.1 1505.5 363.5 1506.0 360.4 1506.5 355.6 1507.0 358.2 1507.5 350.9 1508.0 371.4 1508.5 353.4 1509.0 346.9 1509.5 361.4 1510.0 355.9 1510.5 361.4 1511.0 377.3 1511.5 361.6 1512.0 364.4 1512.5 385.5 1513.0 349.9 1513.5 367.3 1514.0 375.1 1514.5 378.4 1515.0 385.4 1515.5 357.0 1516.0 369.2 1516.5 362.3 1517.0 358.8 1517.5 356.3 1518.0 349.5 1518.5 367.5 1519.0 372.3 1519.5 355.5 1520.0 374.4 1520.5 362.7 1521.0 359.4 1521.5 344.8 1522.0 382.3 1522.5 379.6 1523.0 370.6 1523.5 370.7 1524.0 362.5 1524.5 380.9 1525.0 375.6 1525.5 380.2 1526.0 375.3 1526.5 358.2 1527.0 355.1 1527.5 372.9 1528.0 350.8 1528.5 368.8 1529.0 374.1 1529.5 352.3 1530.0 371.6 1530.5 366.1 1531.0 372.0 1531.5 362.2 1532.0 370.1 1532.5 376.3 1533.0 391.9 1533.5 382.8 1534.0 381.7 1534.5 364.9 1535.0 381.1 1535.5 370.9 1536.0 376.1 1536.5 378.3 1537.0 383.7 1537.5 378.4 1538.0 372.8 1538.5 368.7 1539.0 380.9 1539.5 357.5 1540.0 365.3 1540.5 377.3 1541.0 361.1 1541.5 370.6 1542.0 370.9 1542.5 381.4 1543.0 373.0 1543.5 345.7 1544.0 361.8 1544.5 364.4 1545.0 369.2 1545.5 364.3 1546.0 378.1 1546.5 369.5 1547.0 346.0 1547.5 350.1 1548.0 334.8 1548.5 370.6 1549.0 351.0 1549.5 349.6 1550.0 334.4 1550.5 344.6 1551.0 352.4 1551.5 343.8 1552.0 343.8 1552.5 341.7 1553.0 367.5 1553.5 343.1 1554.0 334.7 1554.5 344.3 1555.0 346.1 1555.5 348.6 1556.0 346.9 1556.5 337.8 1557.0 346.1 1557.5 350.9 1558.0 332.4 1558.5 364.6 1559.0 360.9 1559.5 325.4 1560.0 338.9 1560.5 352.6 1561.0 356.1 1561.5 360.7 1562.0 325.1 1562.5 332.4 1563.0 338.3 1563.5 348.7 1564.0 332.7 1564.5 347.5 1565.0 347.8 1565.5 350.8 1566.0 331.4 1566.5 346.5 1567.0 345.9 1567.5 341.5 1568.0 358.8 1568.5 343.2 1569.0 360.3 1569.5 339.7 1570.0 361.9 1570.5 360.7 1571.0 335.7 1571.5 346.8 1572.0 346.4 1572.5 333.9 1573.0 352.0 1573.5 351.4 1574.0 338.4 1574.5 349.9 1575.0 359.7 1575.5 351.3 1576.0 347.5 1576.5 372.2 1577.0 347.3 1577.5 360.9 1578.0 368.6 1578.5 364.9 1579.0 338.2 1579.5 352.0 1580.0 352.6 1580.5 350.5 1581.0 357.3 1581.5 354.9 1582.0 349.2 1582.5 348.8 1583.0 354.5 1583.5 355.4 1584.0 323.4 1584.5 363.0 1585.0 336.0 1585.5 349.8 1586.0 327.3 1586.5 340.1 1587.0 335.1 1587.5 360.9 1588.0 361.8 1588.5 355.9 1589.0 356.9 1589.5 364.8 1590.0 353.8 1590.5 358.8 1591.0 358.6 1591.5 375.2 1592.0 367.9 1592.5 355.3 1593.0 371.1 1593.5 372.6 1594.0 380.6 1594.5 360.9 1595.0 369.9 1595.5 386.1 1596.0 362.3 1596.5 362.0 1597.0 371.0 1597.5 361.7 1598.0 367.5 1598.5 363.6 1599.0 347.0 1599.5 379.3 1600.0 368.0 1600.5 361.8 1601.0 368.8 1601.5 370.1 1602.0 374.2 1602.5 380.1 1603.0 387.8 1603.5 357.7 1604.0 366.6 1604.5 350.1 1605.0 369.1 1605.5 370.9 1606.0 358.0 1606.5 354.1 1607.0 352.2 1607.5 346.2 1608.0 366.5 1608.5 378.9 1609.0 372.1 1609.5 377.0 1610.0 360.8 1610.5 349.6 1611.0 370.2 1611.5 373.3 1612.0 370.8 1612.5 365.1 1613.0 384.4 1613.5 365.2 1614.0 373.9 1614.5 373.4 1615.0 357.4 1615.5 347.1 1616.0 347.3 1616.5 359.4 1617.0 365.8 1617.5 343.8 1618.0 353.3 1618.5 374.7 1619.0 341.1 1619.5 362.7 1620.0 360.9 1620.5 364.6 1621.0 341.6 1621.5 358.7 1622.0 340.7 1622.5 366.5 1623.0 343.7 1623.5 354.7 1624.0 341.7 1624.5 349.5 1625.0 331.7 1625.5 349.2 1626.0 351.9 1626.5 345.6 1627.0 361.5 1627.5 349.2 1628.0 353.4 1628.5 351.0 1629.0 365.0 1629.5 340.9 1630.0 346.0 1630.5 348.0 1631.0 358.1 1631.5 356.8 1632.0 364.7 1632.5 361.8 1633.0 356.0 1633.5 362.4 1634.0 368.8 1634.5 343.0 1635.0 379.7 1635.5 360.2 1636.0 361.6 1636.5 366.5 1637.0 360.1 1637.5 346.7 1638.0 357.3 1638.5 372.0 1639.0 367.6 1639.5 368.8 1640.0 350.8 1640.5 354.1 1641.0 367.0 1641.5 371.9 1642.0 358.4 1642.5 349.4 1643.0 340.9 1643.5 375.2 1644.0 347.1 1644.5 367.4 1645.0 372.9 1645.5 397.0 1646.0 367.0 1646.5 364.2 1647.0 369.9 1647.5 370.0 1648.0 377.6 1648.5 370.3 1649.0 354.9 1649.5 340.5 1650.0 363.5 1650.5 352.2 1651.0 371.6 1651.5 343.5 1652.0 358.3 1652.5 349.3 1653.0 348.9 1653.5 376.0 1654.0 363.3 1654.5 362.5 1655.0 374.5 1655.5 361.9 1656.0 368.5 1656.5 367.5 1657.0 394.8 1657.5 378.5 1658.0 380.9 1658.5 384.6 1659.0 369.8 1659.5 368.0 1660.0 350.7 1660.5 369.5 1661.0 364.9 1661.5 355.9 1662.0 370.1 1662.5 338.3 1663.0 359.0 1663.5 339.9 1664.0 341.5 1664.5 350.5 1665.0 365.9 1665.5 340.7 1666.0 342.9 1666.5 341.2 1667.0 374.1 1667.5 359.4 1668.0 358.4 1668.5 375.0 1669.0 356.3 1669.5 331.8 1670.0 346.7 1670.5 338.2 1671.0 368.9 1671.5 332.4 1672.0 336.6 1672.5 338.2 1673.0 337.7 1673.5 341.6 1674.0 339.6 1674.5 334.1 1675.0 328.8 1675.5 335.8 1676.0 332.9 1676.5 335.4 1677.0 346.8 1677.5 345.0 1678.0 352.3 1678.5 345.8 1679.0 368.3 1679.5 342.1 1680.0 340.0 1680.5 361.0 1681.0 344.0 1681.5 352.9 1682.0 362.0 1682.5 351.6 1683.0 349.5 1683.5 363.4 1684.0 357.4 1684.5 349.2 1685.0 342.8 1685.5 351.4 1686.0 355.4 1686.5 346.1 1687.0 360.1 1687.5 356.3 1688.0 359.8 1688.5 343.9 1689.0 344.3 1689.5 335.9 1690.0 331.4 1690.5 367.0 1691.0 348.5 1691.5 346.9 1692.0 347.7 1692.5 338.9 1693.0 314.0 1693.5 351.1 1694.0 355.1 1694.5 350.8 1695.0 350.4 1695.5 352.0 1696.0 367.4 1696.5 343.1 1697.0 355.1 1697.5 347.3 1698.0 345.9 1698.5 337.8 1699.0 336.0 1699.5 328.6 1700.0 346.6 1700.5 338.9 1701.0 331.3 1701.5 337.2 1702.0 361.4 1702.5 364.1 1703.0 347.0 1703.5 352.0 1704.0 340.2 1704.5 343.3 1705.0 365.4 1705.5 353.4 1706.0 358.8 1706.5 375.7 1707.0 378.7 1707.5 365.0 1708.0 363.5 1708.5 361.5 1709.0 357.1 1709.5 381.4 1710.0 349.9 1710.5 362.6 1711.0 345.4 1711.5 353.3 1712.0 371.2 1712.5 371.7 1713.0 370.1 1713.5 362.6 1714.0 357.5 1714.5 388.0"/>
<path stroke="#00a86c" d="M264.5 1330.0L264.5 890.0 266.0 919.0 266.0 919.2 266.5 924.1 267.0 933.5 267.5 933.7 268.0 929.3 268.5 938.3 269.0 939.3 269.5 945.4 270.0 941.7 270.5 949.6 271.0 950.1 271.5 956.2 272.0 951.4 272.5 952.6 273.0 943.9 273.5 961.3 274.0 942.2 274.5 957.1 275.0 950.8 275.5 948.8 276.0 950.9 276.5 952.1 277.0 959.3 277.5 958.5 278.0 969.5 278.5 953.0 279.0 965.8 279.5 962.9 280.0 975.2 280.5 959.5 281.0 971.7 281.5 976.3 282.0 966.9 282.5 982.6 283.0 978.1 283.5 983.3 284.0 983.0 284.5 971.0 285.0 971.9 285.5 975.4 286.0 981.2 286.5 981.9 287.0 972.5 287.5 973.5 288.0 972.9 288.5 974.9 289.0 977.8 289.5 979.3 290.0 993.9 290.5 979.1 291.0 981.7 291.5 987.7 292.0 980.1 292.5 985.1 293.0 988.9 293.5 995.1 294.0 983.2 294.5 1001.6 295.0 991.8 295.5 996.2 296.0 1001.6 296.5 1001.2 297.0 1004.3 297.5 998.9 298.0 997.8 298.5 1000.0 299.0 991.4 299.5 1005.7 300.0 992.7 300.5 989.4 301.0 1011.0 301.5 996.8 302.0 990.4 302.5 1010.7 303.0 997.1 303.5 1006.9 304.0 995.2 304.5 999.9 305.0 991.3 305.5 990.7 306.0 997.9 306.5 1004.9 307.0 1011.8 307.5 1023.9 308.0 1002.0 308.5 1017.0 309.0 1007.4 309.5 1011.7 310.0 1003.9 310.5 1004.4 311.0 1009.5 311.5 1006.9 312.0 1014.8 312.5 1009.7 313.0 1022.4 313.5 1014.1 314.0 1013.2 314.5 1018.7 315.0 1013.3 315.5 1008.3 316.0 1006.9 316.5 1005.8 317.0 1013.4 317.5 1011.1 318.0 1008.2 318.5 1011.6 319.0 1003.0 319.5 1011.3 320.0 999.0 320.5 1019.5 321.0 1012.0 321.5 1013.8 322.0 1017.8 322.5 1014.5 323.0 1013.7 323.5 1024.8 324.0 1018.1 324.5 1011.6 325.0 1022.1 325.5 1007.7 326.0 1032.6 326.5 1020.5 327.0 1023.0 327.5 1039.8 328.0 1039.9 328.5 1026.2 329.0 1030.8 329.5 1034.9 330.0 1039.9 330.5 1026.7 331.0 1028.3 331.5 1035.7 332.0 1028.0 332.5 1030.8 333.0 1028.8 333.5 1015.0 334.0 1016.2 334.5 1002.1 335.0 1019.2 335.5 1030.6 336.0 1011.8 336.5 1029.0 337.0 1026.8 337.5 1018.2 338.0 1017.9 338.5 1017.8 339.0 1009.7 339.5 1013.2 340.0 1014.0 340.5 1018.0 341.0 1018.4 341.5 1005.4 342.0 1016.5 342.5 1002.9 343.0 1006.5 343.5 1009.5 344.0 1005.2 344.5 1003.2 345.0 1005.1 345.5 997.4 346.0 995.5 346.5 997.9 347.0 1006.2 347.5 996.5 348.0 1011.6 348.5 996.7 349.0 969.5 349.5 988.9 350.0 1004.9 350.5 990.2 351.0 985.6 351.5 981.3 352.0 998.9 352.5 995.9 353.0 993.1 353.5 991.3 354.0 1000.2 354.5 995.6 355.0 979.0 355.5 996.7 356.0 992.5 356.5 990.9 357.0 999.1 357.5 993.6 358.0 968.9 358.5 1008.0 359.0 1004.0 359.5 994.4 360.0 992.5 360.5 997.7 361.0 984.3 361.5 997.8 362.0 992.5 362.5 990.7 363.0 984.8 363.5 985.9 364.0 1000.6 364.5 1001.4 365.0 992.7 365.5 986.4 366.0 977.6 366.5 990.7 367.0 997.6 367.5 967.4 368.0 991.8 368.5 960.9 369.0 977.2 369.5 983.7 370.0 967.9 370.5 965.7 371.0 980.6 371.5 986.2 372.0 972.9 372.5 988.9 373.0 968.0 373.5 990.1 374.0 973.1 374.5 972.1 375.0 973.3 375.5 967.9 376.0 979.4 376.5 979.9 377.0 961.1 377.5 951.4 378.0 938.9 378.5 940.3 379.0 945.2 379.5 941.9 380.0 940.3 380.5 939.7 381.0 943.4 381.5 924.4 382.0 926.4 382.5 946.0 383.0 941.9 383.5 927.0 384.0 943.2 384.5 909.2 385.0 924.0 385.5 906.2 386.0 930.4 386.5 919.7 387.0 928.5 387.5 923.4 388.0 916.3 388.5 916.7 389.0 927.5 389.5 914.9 390.0 916.5 390.5 920.5 391.0 929.9 391.5 914.2 392.0 944.4 392.5 925.0 393.0 939.1 393.5 906.3 394.0 931.6 394.5 925.8 395.0 941.3 395.5 928.6 396.0 916.7 396.5 926.8 397.0 924.1 397.5 917.2 398.0 917.6 398.5 911.0 399.0 950.0 399.5 922.3 400.0 930.6 400.5 906.9 401.0 906.2 401.5 914.2 402.0 912.0 402.5 919.8 403.0 898.3 403.5 912.5 404.0 920.9 404.5 892.9 405.0 910.8 405.5 889.1 406.0 901.9 406.5 901.0 407.0 915.0 407.5 887.8 408.0 896.6 408.5 905.8 409.0 881.2 409.5 893.9 410.0 884.4 410.5 887.1 411.0 903.3 411.5 904.6 412.0 926.6 412.5 914.6 413.0 914.9 413.5 899.9 414.0 899.6 414.5 905.4 415.0 879.0 415.5 923.5 416.0 897.3 416.5 892.5 417.0 898.7 417.5 912.8 418.0 915.9 418.5 896.1 419.0 903.9 419.5 896.8 420.0 884.5 420.5 897.0 421.0 894.6 421.5 876.1 422.0 906.3 422.5 875.6 423.0 896.9 423.5 882.8 424.0 923.8 424.5 888.9 425.0 906.5 425.5 884.8 426.0 898.5 426.5 920.0 427.0 894.4 427.5 902.8 428.0 911.3 428.5 896.5 429.0 908.7 429.5 894.5 430.0 909.8 430.5 901.0 431.0 887.8 431.5 914.8 432.0 896.0 432.5 893.3 433.0 885.6 433.5 891.5 434.0 896.9 434.5 901.5 435.0 914.4 435.5 887.0 436.0 900.7 436.5 921.5 437.0 910.8 437.5 914.9 438.0 911.8 438.5 915.5 439.0 917.1 439.5 910.4 440.0 932.0 440.5 922.2 441.0 899.2 441.5 913.7 442.0 891.5 442.5 918.4 443.0 912.5 443.5 901.7 444.0 898.6 444.5 881.4 445.0 914.3 445.5 903.8 446.0 902.2 446.5 916.4 447.0 900.1 447.5 902.2 448.0 901.8 448.5 894.1 449.0 942.4 449.5 909.1 450.0 906.6 450.5 921.9 451.0 869.0 451.5 908.1 452.0 907.6 452.5 894.0 453.0 911.7 453.5 878.8 454.0 904.4 454.5 915.2 455.0 874.0 455.5 883.4 456.0 899.5 456.5 900.7 457.0 892.0 457.5 905.1 458.0 903.8 458.5 883.3 459.0 900.6 459.5 886.0 460.0 876.4 460.5 872.4 461.0 918.3 461.5 902.9 462.0 930.0 462.5 883.6 463.0 896.6 463.5 903.5 464.0 894.2 464.5 899.5 465.0 891.2 465.5 877.3 466.0 850.9 466.5 865.7 467.0 898.2 467.5 883.2 468.0 889.7 468.5 862.8 469.0 868.0 469.5 859.6 470.0 877.6 470.5 874.9 471.0 881.8 471.5 901.1 472.0 868.5 472.5 891.1 473.0 864.1 473.5 898.5 474.0 878.7 474.5 883.9 475.0 886.5 475.5 906.8 476.0 884.4 476.5 878.0 477.0 868.6 477.5 887.7 478.0 872.5 478.5 877.2 479.0 883.7 479.5 893.4 480.0 875.4 480.5 894.6 481.0 909.9 481.5 867.2 482.0 905.7 482.5 916.6 483.0 880.1 483.5 895.8 484.0 868.6 484.5 890.3 485.0 880.0 485.5 886.7 486.0 868.6 486.5 841.7 487.0 871.3 487.5 866.3 488.0 866.4 488.5 871.4 489.0 859.1 489.5 872.0 490.0 880.7 490.5 843.7 491.0 877.5 491.5 865.1 492.0 860.3 492.5 857.2 493.0 863.6 493.5 864.7 494.0 879.1 494.5 857.6 495.0 888.6 495.5 864.3 496.0 885.4 496.5 892.3 497.0 863.4 497.5 896.2 498.0 913.6 498.5 881.1 499.0 897.2 499.5 889.8 500.0 894.4 500.5 891.6 501.0 887.6 501.5 903.5 502.0 904.5 502.5 890.9 503.0 908.7 503.5 900.1 504.0 891.7 504.5 869.2 505.0 900.7 505.5 889.7 506.0 840.6 506.5 852.5 507.0 859.7 507.5 878.4 508.0 883.2 508.5 864.3 509.0 873.5 509.5 881.9 510.0 857.9 510.5 884.8 511.0 874.3 511.5 881.5 512.0 878.3 512.5 862.2 513.0 863.2 513.5 875.1 514.0 874.0 514.5 866.5 515.0 882.1 515.5 861.2 516.0 848.1 516.5 858.6 517.0 860.0 517.5 860.2 518.0 877.6 518.5 869.5 519.0 878.1 519.5 874.3 520.0 866.3 520.5 885.7 521.0 871.9 521.5 882.5 522.0 869.3 522.5 887.2 523.0 884.0 523.5 895.2 524.0 915.4 524.5 923.0 525.0 904.2 525.5 889.1 526.0 899.3 526.5 890.0 527.0 877.7 527.5 884.3 528.0 881.5 528.5 877.0 529.0 904.4 529.5 879.5 530.0 881.3 530.5 898.5 531.0 880.8 531.5 875.4 532.0 879.8 532.5 897.6 533.0 895.6 533.5 893.4 534.0 881.5 534.5 873.6 535.0 895.8 535.5 861.9 536.0 876.2 536.5 859.3 537.0 870.1 537.5 872.5 538.0 890.7 538.5 836.0 539.0 894.1 539.5 865.6 540.0 883.6 540.5 893.2 541.0 874.8 541.5 886.6 542.0 896.9 542.5 890.7 543.0 884.0 543.5 897.6 544.0 897.2 544.5 875.7 545.0 947.5 545.5 898.5 546.0 862.3 546.5 883.2 547.0 916.9 547.5 914.5 548.0 896.2 548.5 869.3 549.0 888.3 549.5 905.5 550.0 896.3 550.5 886.4 551.0 881.1 551.5 882.2 552.0 888.7 552.5 896.4 553.0 899.0 553.5 914.6 554.0 894.9 554.5 895.4 555.0 866.8 555.5 904.5 556.0 899.8 556.5 885.6 557.0 853.0 557.5 874.0 558.0 880.9 558.5 906.9 559.0 885.7 559.5 888.4 560.0 889.3 560.5 896.7 561.0 892.3 561.5 869.5 562.0 866.8 562.5 880.8 563.0 881.8 563.5 889.9 564.0 876.6 564.5 893.8 565.0 883.1 565.5 925.5 566.0 891.9 566.5 935.8 567.0 925.6 567.5 889.2 568.0 920.1 568.5 916.6 569.0 888.4 569.5 917.6 570.0 907.6 570.5 912.5 571.0 894.5 571.5 903.0 572.0 906.8 572.5 895.9 573.0 887.1 573.5 890.3 574.0 876.3 574.5 891.7 575.0 850.2 575.5 903.5 576.0 882.5 576.5 886.9 577.0 891.1 577.5 861.8 578.0 908.8 578.5 862.0 579.0 882.9 579.5 880.3 580.0 893.2 580.5 875.2 581.0 856.4 581.5 880.4 582.0 843.2 582.5 875.0 583.0 872.8 583.5 901.9 584.0 878.7 584.5 878.4 585.0 876.3 585.5 877.0 586.0 883.0 586.5 900.3 587.0 875.7 587.5 892.0 588.0 875.9 588.5 940.7 589.0 899.6 589.5 881.3 590.0 890.9 590.5 900.6 591.0 910.1 591.5 912.6 592.0 897.9 592.5 885.1 593.0 875.4 593.5 906.4 594.0 912.6 594.5 896.0 595.0 909.3 595.5 878.4 596.0 875.8 596.5 899.1 597.0 860.8 597.5 879.9 598.0 874.4 598.5 869.3 599.0 889.5 599.5 853.3 600.0 859.4 600.5 837.3 601.0 852.5 601.5 861.3 602.0 864.6 602.5 868.9 603.0 877.5 603.5 865.8 604.0 849.1 604.5 879.0 605.0 932.0 605.5 861.2 606.0 865.5 606.5 899.2 607.0 887.6 607.5 886.7 608.0 879.2 608.5 870.2 609.0 859.5 609.5 872.7 610.0 860.8 610.5 856.6 611.0 862.1 611.5 861.4 612.0 875.7 612.5 852.0 613.0 901.8 613.5 856.8 614.0 868.1 614.5 890.3 615.0 869.1 615.5 876.7 616.0 885.9 616.5 846.1 617.0 880.4 617.5 873.8 618.0 882.9 618.5 892.1 619.0 892.9 619.5 903.6 620.0 901.8 620.5 895.7 621.0 880.7 621.5 895.4 622.0 867.4 622.5 879.7 623.0 900.8 623.5 891.6 624.0 861.3 624.5 872.0 625.0 892.1 625.5 887.4 626.0 893.0 626.5 853.1 627.0 859.2 627.5 872.3 628.0 861.4 628.5 873.6 629.0 873.5 629.5 877.7 630.0 870.9 630.5 880.5 631.0 883.8 631.5 875.8 632.0 857.5 632.5 893.0 633.0 879.0 633.5 882.4 634.0 879.0 634.5 854.1 635.0 883.4 635.5 864.8 636.0 854.9 636.5 886.9 637.0 862.2 637.5 867.8 638.0 873.8 638.5 882.1 639.0 833.8 639.5 848.3 640.0 868.3 640.5 850.8 641.0 816.4 641.5 865.1 642.0 868.1 642.5 877.7 643.0 871.5 643.5 863.7 644.0 874.0 644.5 871.6 645.0 866.0 645.5 877.4 646.0 879.8 646.5 862.0 647.0 891.4 647.5 890.2 648.0 891.2 648.5 843.8 649.0 884.6 649.5 856.6 650.0 870.3 650.5 892.1 651.0 862.9 651.5 900.2 652.0 887.9 652.5 875.0 653.0 901.4 653.5 888.1 654.0 886.6 654.5 864.5 655.0 890.5 655.5 903.5 656.0 899.9 656.5 867.4 657.0 904.7 657.5 907.6 658.0 896.9 658.5 879.4 659.0 863.2 659.5 870.5 660.0 874.0 660.5 884.4 661.0 886.7 661.5 867.2 662.0 853.1 662.5 868.3 663.0 853.8 663.5 888.9 664.0 851.8 664.5 874.1 665.0 878.1 665.5 852.7 666.0 880.7 666.5 865.9 667.0 858.7 667.5 858.9 668.0 876.3 668.5 892.7 669.0 854.5 669.5 892.4 670.0 884.6 670.5 878.9 671.0 890.2 671.5 893.5 672.0 894.5 672.5 908.1 673.0 885.7 673.5 926.8 674.0 912.9 674.5 893.1 675.0 875.4 675.5 902.6 676.0 897.6 676.5 913.7 677.0 913.2 677.5 929.1 678.0 899.4 678.5 910.3 679.0 891.0 679.5 888.8 680.0 912.1 680.5 885.2 681.0 882.1 681.5 875.4 682.0 882.0 682.5 883.3 683.0 871.5 683.5 855.9 684.0 875.9 684.5 859.4 685.0 865.8 685.5 873.9 686.0 874.5 686.5 838.7 687.0 894.7 687.5 881.7 688.0 897.1 688.5 904.6 689.0 855.6 689.5 860.2 690.0 870.9 690.5 880.0 691.0 859.5 691.5 862.3 692.0 881.9 692.5 855.1 693.0 871.4 693.5 884.6 694.0 867.2 694.5 883.1 695.0 871.9 695.5 852.4 696.0 867.7 696.5 872.7 697.0 912.1 697.5 874.7 698.0 878.6 698.5 875.6 699.0 872.4 699.5 862.5 700.0 864.5 700.5 862.0 701.0 859.3 701.5 887.5 702.0 843.1 702.5 874.6 703.0 850.4 703.5 866.6 704.0 887.5 704.5 873.3 705.0 897.0 705.5 863.7 706.0 871.4 706.5 864.7 707.0 871.1 707.5 863.6 708.0 859.6 708.5 863.2 709.0 874.8 709.5 907.2 710.0 856.7 710.5 851.1 711.0 845.0 711.5 834.8 712.0 840.9 712.5 856.7 713.0 830.6 713.5 867.3 714.0 853.4 714.5 847.3 715.0 853.9 715.5 871.8 716.0 869.0 716.5 868.7 717.0 890.8 717.5 900.0 718.0 850.7 718.5 881.3 719.0 858.8 719.5 850.2 720.0 861.6 720.5 882.1 721.0 862.6 721.5 859.2 722.0 884.3 722.5 870.9 723.0 861.7 723.5 887.0 724.0 867.5 724.5 849.6 725.0 843.5 725.5 851.6 726.0 858.7 726.5 868.5 727.0 866.7 727.5 856.4 728.0 838.6 728.5 868.0 729.0 856.6 729.5 840.3 730.0 838.3 730.5 858.2 731.0 859.5 731.5 865.4 732.0 836.7 732.5 879.8 733.0 827.8 733.5 852.5 734.0 872.1 734.5 868.5 735.0 841.5 735.5 863.8 736.0 872.7 736.5 865.8 737.0 841.2 737.5 876.9 738.0 829.5 738.5 850.5 739.0 832.5 739.5 838.7 740.0 837.2 740.5 846.7 741.0 820.4 741.5 839.2 742.0 852.6 742.5 834.5 743.0 840.0 743.5 837.8 744.0 821.3 744.5 826.6 745.0 832.8 745.5 839.5 746.0 862.0 746.5 857.6 747.0 829.6 747.5 831.0 748.0 823.7 748.5 806.2 749.0 857.0 749.5 846.7 750.0 813.1 750.5 841.4 751.0 875.3 751.5 851.2 752.0 853.6 752.5 851.9 753.0 841.0 753.5 837.9 754.0 845.0 754.5 860.7 755.0 857.1 755.5 871.5 756.0 887.5 756.5 872.3 757.0 876.6 757.5 860.9 758.0 848.8 758.5 897.8 759.0 879.0 759.5 886.4 760.0 865.6 760.5 847.5 761.0 889.1 761.5 840.1 762.0 866.3 762.5 859.4 763.0 867.8 763.5 873.7 764.0 871.7 764.5 829.1 765.0 870.3 765.5 828.8 766.0 863.9 766.5 848.0 767.0 838.0 767.5 846.3 768.0 835.1 768.5 852.9 769.0 865.5 769.5 862.9 770.0 851.5 770.5 865.2 771.0 856.1 771.5 878.5 772.0 855.4 772.5 840.0 773.0 844.7 773.5 838.9 774.0 846.5 774.5 849.7 775.0 862.3 775.5 864.6 776.0 855.3 776.5 861.0 777.0 845.0 777.5 847.6 778.0 820.6 778.5 843.6 779.0 847.1 779.5 889.6 780.0 835.2 780.5 855.9 781.0 851.7 781.5 836.1 782.0 863.5 782.5 862.0 783.0 843.3 783.5 832.8 784.0 865.6 784.5 847.4 785.0 877.0 785.5 863.6 786.0 874.3 786.5 861.7 787.0 886.2 787.5 873.0 788.0 883.2 788.5 862.5 789.0 873.6 789.5 839.8 790.0 852.6 790.5 864.2 791.0 852.5 791.5 896.9 792.0 863.7 792.5 872.8 793.0 869.3 793.5 851.9 794.0 859.9 794.5 879.2 795.0 882.0 795.5 856.3 796.0 868.7 796.5 867.1 797.0 883.3 797.5 847.5 798.0 876.2 798.5 885.0 799.0 840.1 799.5 857.8 800.0 888.5 800.5 874.7 801.0 888.2 801.5 883.9 802.0 889.2 802.5 872.5 803.0 846.0 803.5 884.4 804.0 867.1 804.5 885.7 805.0 870.3 805.5 900.8 806.0 875.2 806.5 890.6 807.0 895.0 807.5 878.8 808.0 884.8 808.5 880.4 809.0 868.0 809.5 901.8 810.0 868.7 810.5 859.0 811.0 873.0 811.5 881.0 812.0 879.3 812.5 872.8 813.0 870.4 813.5 845.9 814.0 883.9 814.5 898.8 815.0 864.1 815.5 849.0 816.0 884.6 816.5 872.0 817.0 819.2 817.5 865.2 818.0 856.7 818.5 862.2 819.0 908.4 819.5 896.7 820.0 883.3 820.5 888.3 821.0 912.4 821.5 876.8 822.0 903.7 822.5 884.6 823.0 904.5 823.5 894.3 824.0 878.2 824.5 900.6 825.0 890.0 825.5 904.9 826.0 870.4 826.5 875.6 827.0 862.2 827.5 888.1 828.0 860.2 828.5 871.3 829.0 891.0 829.5 881.9 830.0 880.6 830.5 882.3 831.0 885.2 831.5 891.2 832.0 879.3 832.5 856.7 833.0 904.0 833.5 870.8 834.0 911.6 834.5 889.5 835.0 929.5 835.5 900.6 836.0 888.9 836.5 894.4 837.0 860.1 837.5 880.0 838.0 870.2 838.5 873.2 839.0 842.0 839.5 837.8 840.0 877.0 840.5 866.1 841.0 858.3 841.5 862.7 842.0 854.7 842.5 857.3 843.0 874.0 843.5 861.6 844.0 875.1 844.5 855.7 845.0 840.3 845.5 856.4 846.0 863.4 846.5 849.4 847.0 890.1 847.5 857.5 848.0 877.6 848.5 876.7 849.0 880.9 849.5 855.5 850.0 871.8 850.5 885.9 851.0 870.9 851.5 911.6 852.0 857.6 852.5 879.4 853.0 869.2 853.5 879.5 854.0 861.9 854.5 891.4 855.0 860.7 855.5 842.6 856.0 861.8 856.5 865.2 857.0 876.3 857.5 851.8 858.0 851.4 858.5 856.0 859.0 855.2 859.5 832.0 860.0 872.7 860.5 881.2 861.0 853.9 861.5 851.5 862.0 864.0 862.5 854.9 863.0 877.6 863.5 857.7 864.0 874.5 864.5 847.8 865.0 844.2 865.5 840.8 866.0 841.3 866.5 865.8 867.0 870.7 867.5 860.4 868.0 861.2 868.5 827.7 869.0 874.6 869.5 842.3 870.0 878.0 870.5 893.4 871.0 859.9 871.5 866.7 872.0 865.1 872.5 836.4 873.0 837.1 873.5 841.3 874.0 851.4 874.5 837.3 875.0 848.7 875.5 862.0 876.0 839.6 876.5 827.3 877.0 847.9 877.5 847.3 878.0 829.0 878.5 863.5 879.0 836.4 879.5 840.0 880.0 853.3 880.5 835.4 881.0 859.0 881.5 855.8 882.0 856.6 882.5 850.0 883.0 843.0 883.5 838.3 884.0 852.1 884.5 865.4 885.0 855.8 885.5 848.4 886.0 855.6 886.5 858.8 887.0 821.7 887.5 837.6 888.0 854.5 888.5 828.3 889.0 830.8 889.5 845.8 890.0 834.3 890.5 854.1 891.0 832.9 891.5 845.1 892.0 870.9 892.5 851.0 893.0 815.1 893.5 818.1 894.0 817.2 894.5 829.3 895.0 809.9 895.5 836.7 896.0 853.1 896.5 851.8 897.0 821.2 897.5 829.6 898.0 831.3 898.5 826.0 899.0 862.5 899.5 831.1 900.0 826.2 900.5 847.2 901.0 847.1 901.5 863.4 902.0 863.2 902.5 838.9 903.0 811.9 903.5 849.1 904.0 849.8 904.5 862.2 905.0 814.6 905.5 818.7 906.0 854.5 906.5 854.0 907.0 848.2 907.5 829.0 908.0 846.3 908.5 820.5 909.0 810.7 909.5 826.8 910.0 829.0 910.5 838.4 911.0 841.8 911.5 801.7 912.0 828.5 912.5 829.9 913.0 804.3 913.5 816.7 914.0 820.2 914.5 825.2 915.0 807.7 915.5 812.4 916.0 807.2 916.5 829.2 917.0 822.6 917.5 821.8 918.0 841.4 918.5 832.8 919.0 821.0 919.5 854.9 920.0 854.1 920.5 848.0 921.0 827.9 921.5 856.9 922.0 862.7 922.5 813.9 923.0 835.9 923.5 860.2 924.0 827.3 924.5 839.3 925.0 848.0 925.5 830.0 926.0 821.7 926.5 824.7 927.0 831.1 927.5 815.0 928.0 825.3 928.5 826.8 929.0 812.7 929.5 826.0 930.0 822.4 930.5 809.4 931.0 810.4 931.5 813.6 932.0 809.4 932.5 808.2 933.0 797.2 933.5 812.8 934.0 822.1 934.5 821.8 935.0 803.4 935.5 823.5 936.0 825.6 936.5 806.3 937.0 826.8 937.5 818.3 938.0 816.1 938.5 824.3 939.0 818.1 939.5 790.3 940.0 822.1 940.5 803.0 941.0 815.3 941.5 824.1 942.0 810.3 942.5 806.0 943.0 812.6 943.5 816.6 944.0 798.4 944.5 801.3 945.0 817.1 945.5 833.0 946.0 813.2 946.5 826.8 947.0 781.5 947.5 819.0 948.0 821.4 948.5 804.4 949.0 822.0 949.5 819.9 950.0 788.2 950.5 819.6 951.0 823.2 951.5 820.9 952.0 820.6 952.5 800.5 953.0 804.5 953.5 811.1 954.0 801.5 954.5 806.3 955.0 828.1 955.5 799.4 956.0 805.4 956.5 832.6 957.0 804.5 957.5 790.5 958.0 804.4 958.5 800.5 959.0 796.9 959.5 770.2 960.0 793.2 960.5 792.2 961.0 812.6 961.5 793.2 962.0 777.8 962.5 829.4 963.0 792.6 963.5 782.8 964.0 785.6 964.5 806.0 965.0 796.5 965.5 800.6 966.0 825.5 966.5 806.8 967.0 779.4 967.5 823.3 968.0 803.3 968.5 819.4 969.0 830.7 969.5 799.0 970.0 829.2 970.5 817.6 971.0 830.5 971.5 811.4 972.0 808.0 972.5 835.0 973.0 824.3 973.5 820.3 974.0 805.1 974.5 837.6 975.0 815.5 975.5 816.3 976.0 809.0 976.5 817.0 977.0 823.3 977.5 813.7 978.0 812.7 978.5 806.3 979.0 833.4 979.5 836.0 980.0 812.4 980.5 805.9 981.0 822.5 981.5 800.1 982.0 826.7 982.5 829.6 983.0 830.8 983.5 851.9 984.0 857.3 984.5 841.2 985.0 832.1 985.5 850.8 986.0 852.5 986.5 822.1 987.0 827.4 987.5 832.4 988.0 813.3 988.5 819.3 989.0 853.5 989.5 815.7 990.0 842.1 990.5 820.9 991.0 843.8 991.5 835.5 992.0 843.1 992.5 814.3 993.0 835.6 993.5 824.6 994.0 841.1 994.5 839.9 995.0 832.5 995.5 828.3 996.0 829.4 996.5 832.7 997.0 823.6 997.5 825.4 998.0 824.1 998.5 820.5 999.0 848.3 999.5 820.7 1000.0 854.9 1000.5 850.0 1001.0 801.8 1001.5 822.2 1002.0 846.2 1002.5 833.3 1003.0 847.9 1003.5 857.1 1004.0 848.5 1004.5 839.9 1005.0 838.4 1005.5 856.8 1006.0 832.6 1006.5 857.0 1007.0 859.9 1007.5 830.2 1008.0 838.8 1008.5 857.2 1009.0 829.7 1009.5 845.8 1010.0 856.1 1010.5 832.3 1011.0 851.1 1011.5 849.9 1012.0 843.6 1012.5 870.1 1013.0 832.3 1013.5 881.4 1014.0 863.5 1014.5 847.1 1015.0 859.2 1015.5 847.0 1016.0 865.9 1016.5 863.8 1017.0 841.5 1017.5 850.6 1018.0 861.1 1018.5 856.3 1019.0 844.5 1019.5 869.6 1020.0 873.7 1020.5 840.9 1021.0 876.5 1021.5 835.8 1022.0 858.6 1022.5 852.5 1023.0 853.6 1023.5 861.6 1024.0 844.9 1024.5 855.9 1025.0 874.9 1025.5 858.6 1026.0 868.5 1026.5 859.1 1027.0 828.3 1027.5 865.9 1028.0 853.6 1028.5 850.2 1029.0 837.5 1029.5 835.4 1030.0 829.2 1030.5 839.6 1031.0 843.0 1031.5 840.4 1032.0 841.1 1032.5 821.3 1033.0 835.6 1033.5 835.9 1034.0 849.0 1034.5 841.0 1035.0 841.4 1035.5 847.7 1036.0 841.1 1036.5 842.7 1037.0 857.3 1037.5 841.8 1038.0 831.8 1038.5 846.8 1039.0 846.9 1039.5 842.6 1040.0 818.4 1040.5 841.8 1041.0 830.1 1041.5 829.5 1042.0 827.9 1042.5 831.2 1043.0 831.3 1043.5 842.5 1044.0 830.0 1044.5 827.8 1045.0 837.7 1045.5 831.7 1046.0 847.2 1046.5 839.3 1047.0 847.9 1047.5 836.1 1048.0 854.0 1048.5 851.1 1049.0 835.8 1049.5 841.2 1050.0 846.3 1050.5 830.9 1051.0 833.0 1051.5 849.4 1052.0 848.9 1052.5 857.2 1053.0 828.3 1053.5 837.4 1054.0 818.8 1054.5 858.2 1055.0 824.5 1055.5 834.8 1056.0 856.5 1056.5 849.8 1057.0 824.0 1057.5 855.5 1058.0 835.0 1058.5 818.0 1059.0 830.4 1059.5 833.2 1060.0 832.3 1060.5 802.0 1061.0 842.3 1061.5 805.6 1062.0 819.7 1062.5 836.9 1063.0 826.4 1063.5 822.5 1064.0 817.3 1064.5 830.5 1065.0 839.7 1065.5 820.5 1066.0 831.3 1066.5 823.5 1067.0 823.2 1067.5 806.1 1068.0 829.9 1068.5 836.5 1069.0 824.9 1069.5 836.5 1070.0 826.8 1070.5 836.5 1071.0 824.4 1071.5 818.0 1072.0 815.3 1072.5 820.0 1073.0 820.7 1073.5 808.7 1074.0 814.1 1074.5 801.5 1075.0 801.0 1075.5 822.3 1076.0 821.0 1076.5 828.0 1077.0 822.4 1077.5 825.2 1078.0 842.7 1078.5 817.7 1079.0 830.2 1079.5 843.9 1080.0 849.1 1080.5 835.0 1081.0 828.4 1081.5 818.9 1082.0 827.2 1082.5 829.7 1083.0 827.7 1083.5 831.9 1084.0 832.1 1084.5 821.7 1085.0 817.7 1085.5 824.2 1086.0 832.3 1086.5 845.5 1087.0 815.3 1087.5 844.0 1088.0 833.1 1088.5 849.3 1089.0 859.6 1089.5 848.6 1090.0 834.9 1090.5 843.4 1091.0 852.0 1091.5 845.7 1092.0 848.1 1092.5 840.5 1093.0 844.7 1093.5 839.2 1094.0 851.8 1094.5 844.4 1095.0 846.4 1095.5 820.9 1096.0 830.3 1096.5 825.2 1097.0 826.3 1097.5 820.1 1098.0 840.7 1098.5 841.2 1099.0 822.2 1099.5 811.9 1100.0 820.8 1100.5 845.6 1101.0 830.7 1101.5 815.1 1102.0 822.4 1102.5 825.1 1103.0 827.2 1103.5 810.2 1104.0 820.5 1104.5 829.8 1105.0 816.4 1105.5 833.2 1106.0 837.3 1106.5 845.7 1107.0 849.6 1107.5 838.2 1108.0 842.6 1108.5 847.1 1109.0 850.1 1109.5 840.5 1110.0 831.9 1110.5 844.3 1111.0 846.4 1111.5 839.3 1112.0 843.6 1112.5 854.0 1113.0 834.4 1113.5 833.4 1114.0 830.7 1114.5 845.8 1115.0 852.7 1115.5 839.7 1116.0 863.4 1116.5 841.2 1117.0 850.6 1117.5 847.9 1118.0 863.4 1118.5 844.7 1119.0 867.6 1119.5 850.5 1120.0 839.6 1120.5 847.5 1121.0 851.7 1121.5 869.7 1122.0 848.5 1122.5 852.7 1123.0 872.3 1123.5 852.7 1124.0 843.8 1124.5 841.3 1125.0 831.6 1125.5 848.6 1126.0 855.1 1126.5 838.2 1127.0 829.9 1127.5 841.5 1128.0 837.8 1128.5 835.4 1129.0 840.3 1129.5 835.6 1130.0 831.2 1130.5 842.9 1131.0 813.7 1131.5 819.4 1132.0 826.6 1132.5 815.2 1133.0 842.3 1133.5 805.7 1134.0 833.6 1134.5 832.3 1135.0 830.3 1135.5 831.5 1136.0 822.3 1136.5 821.5 1137.0 842.9 1137.5 828.1 1138.0 815.6 1138.5 817.8 1139.0 814.4 1139.5 831.1 1140.0 838.1 1140.5 822.0 1141.0 824.0 1141.5 814.9 1142.0 825.6 1142.5 822.6 1143.0 820.3 1143.5 826.3 1144.0 794.6 1144.5 812.6 1145.0 788.1 1145.5 810.2 1146.0 811.0 1146.5 810.2 1147.0 810.8 1147.5 801.5 1148.0 796.2 1148.5 809.3 1149.0 795.3 1149.5 807.8 1150.0 792.3 1150.5 803.8 1151.0 803.6 1151.5 793.4 1152.0 799.4 1152.5 812.7 1153.0 805.8 1153.5 812.3 1154.0 803.8 1154.5 812.2 1155.0 798.7 1155.5 807.0 1156.0 827.9 1156.5 822.0 1157.0 817.4 1157.5 818.7 1158.0 804.2 1158.5 820.8 1159.0 804.5 1159.5 809.0 1160.0 822.7 1160.5 810.1 1161.0 813.8 1161.5 819.8 1162.0 849.3 1162.5 837.7 1163.0 810.1 1163.5 824.0 1164.0 834.3 1164.5 824.1 1165.0 824.5 1165.5 819.5 1166.0 823.1 1166.5 830.8 1167.0 835.2 1167.5 825.4 1168.0 834.5 1168.5 821.8 1169.0 804.9 1169.5 828.5 1170.0 802.4 1170.5 822.1 1171.0 823.5 1171.5 813.5 1172.0 823.3 1172.5 820.9 1173.0 828.3 1173.5 824.8 1174.0 834.4 1174.5 825.8 1175.0 836.4 1175.5 831.1 1176.0 834.2 1176.5 834.1 1177.0 829.6 1177.5 846.2 1178.0 842.6 1178.5 816.8 1179.0 828.2 1179.5 857.5 1180.0 839.5 1180.5 869.8 1181.0 847.4 1181.5 847.9 1182.0 839.2 1182.5 841.5 1183.0 845.1 1183.5 852.4 1184.0 844.9 1184.5 843.9 1185.0 835.2 1185.5 840.4 1186.0 840.9 1186.5 843.5 1187.0 837.3 1187.5 833.1 1188.0 839.4 1188.5 817.5 1189.0 825.2 1189.5 830.2 1190.0 840.5 1190.5 828.4 1191.0 823.1 1191.5 838.7 1192.0 830.1 1192.5 843.6 1193.0 828.3 1193.5 853.8 1194.0 827.3 1194.5 848.4 1195.0 847.2 1195.5 835.4 1196.0 845.1 1196.5 823.4 1197.0 849.8 1197.5 842.1 1198.0 838.8 1198.5 840.2 1199.0 842.5 1199.5 835.7 1200.0 836.0 1200.5 827.5 1201.0 853.2 1201.5 829.0 1202.0 834.9 1202.5 845.0 1203.0 845.7 1203.5 846.6 1204.0 826.4 1204.5 826.8 1205.0 829.5 1205.5 811.8 1206.0 837.1 1206.5 812.7 1207.0 826.5 1207.5 835.9 1208.0 835.0 1208.5 822.6 1209.0 835.3 1209.5 836.9 1210.0 810.7 1210.5 824.5 1211.0 833.6 1211.5 831.8 1212.0 825.9 1212.5 827.1 1213.0 850.1 1213.5 824.7 1214.0 838.2 1214.5 816.8 1215.0 833.1 1215.5 838.1 1216.0 824.5 1216.5 822.9 1217.0 846.8 1217.5 827.8 1218.0 839.9 1218.5 816.9 1219.0 847.2 1219.5 812.4 1220.0 822.6 1220.5 825.7 1221.0 830.5 1221.5 832.3 1222.0 844.8 1222.5 848.4 1223.0 845.2 1223.5 833.9 1224.0 826.8 1224.5 803.9 1225.0 821.8 1225.5 816.6 1226.0 828.0 1226.5 812.9 1227.0 815.4 1227.5 817.5 1228.0 832.2 1228.5 829.2 1229.0 819.3 1229.5 813.6 1230.0 825.2 1230.5 824.6 1231.0 824.8 1231.5 829.6 1232.0 834.1 1232.5 832.7 1233.0 816.7 1233.5 813.6 1234.0 833.3 1234.5 814.9 1235.0 822.8 1235.5 817.0 1236.0 818.8 1236.5 830.8 1237.0 814.4 1237.5 828.7 1238.0 825.1 1238.5 820.6 1239.0 819.5 1239.5 820.7 1240.0 838.1 1240.5 837.5 1241.0 820.5 1241.5 832.5 1242.0 811.0 1242.5 828.2 1243.0 846.2 1243.5 814.2 1244.0 827.3 1244.5 817.4 1245.0 823.2 1245.5 811.6 1246.0 823.1 1246.5 798.9 1247.0 818.9 1247.5 818.6 1248.0 821.2 1248.5 841.8 1249.0 811.8 1249.5 816.5 1250.0 810.1 1250.5 827.3 1251.0 822.0 1251.5 810.2 1252.0 830.0 1252.5 823.5 1253.0 834.4 1253.5 828.0 1254.0 821.5 1254.5 813.1 1255.0 799.6 1255.5 813.8 1256.0 829.4 1256.5 815.0 1257.0 807.7 1257.5 816.6 1258.0 819.7 1258.5 837.8 1259.0 800.3 1259.5 805.1 1260.0 796.3 1260.5 799.1 1261.0 813.9 1261.5 803.2 1262.0 789.5 1262.5 815.8 1263.0 819.6 1263.5 810.1 1264.0 793.0 1264.5 792.5 1265.0 815.5 1265.5 793.8 1266.0 798.5 1266.5 789.9 1267.0 822.1 1267.5 796.5 1268.0 800.1 1268.5 792.8 1269.0 791.4 1269.5 784.3 1270.0 803.7 1270.5 785.2 1271.0 805.0 1271.5 778.1 1272.0 795.1 1272.5 800.2 1273.0 780.8 1273.5 795.5 1274.0 789.1 1274.5 785.6 1275.0 793.5 1275.5 780.8 1276.0 797.2 1276.5 785.9 1277.0 807.7 1277.5 816.2 1278.0 815.1 1278.5 794.4 1279.0 800.0 1279.5 820.2 1280.0 813.4 1280.5 807.4 1281.0 781.0 1281.5 799.0 1282.0 824.5 1282.5 808.4 1283.0 800.5 1283.5 806.7 1284.0 830.1 1284.5 820.4 1285.0 796.3 1285.5 798.7 1286.0 811.0 1286.5 824.2 1287.0 805.0 1287.5 807.5 1288.0 788.7 1288.5 807.8 1289.0 819.8 1289.5 819.6 1290.0 799.0 1290.5 820.3 1291.0 803.5 1291.5 796.8 1292.0 814.7 1292.5 792.9 1293.0 803.6 1293.5 799.1 1294.0 805.9 1294.5 809.6 1295.0 803.4 1295.5 800.3 1296.0 804.6 1296.5 787.5 1297.0 811.3 1297.5 834.2 1298.0 818.9 1298.5 827.7 1299.0 817.0 1299.5 817.2 1300.0 820.9 1300.5 822.2 1301.0 820.7 1301.5 805.0 1302.0 812.2 1302.5 796.3 1303.0 820.5 1303.5 809.5 1304.0 806.9 1304.5 797.2 1305.0 814.4 1305.5 819.8 1306.0 815.1 1306.5 821.0 1307.0 802.6 1307.5 819.3 1308.0 810.2 1308.5 784.0 1309.0 813.4 1309.5 801.4 1310.0 810.7 1310.5 806.1 1311.0 804.8 1311.5 824.9 1312.0 810.2 1312.5 818.5 1313.0 824.6 1313.5 814.6 1314.0 806.4 1314.5 819.1 1315.0 817.0 1315.5 808.1 1316.0 816.9 1316.5 827.0 1317.0 822.5 1317.5 826.9 1318.0 824.0 1318.5 811.1 1319.0 808.1 1319.5 796.1 1320.0 817.4 1320.5 799.0 1321.0 809.1 1321.5 818.6 1322.0 802.1 1322.5 785.1 1323.0 788.5 1323.5 794.4 1324.0 810.5 1324.5 793.6 1325.0 795.2 1325.5 785.9 1326.0 799.9 1326.5 797.5 1327.0 804.6 1327.5 787.2 1328.0 802.6 1328.5 782.6 1329.0 790.1 1329.5 791.6 1330.0 795.3 1330.5 802.3 1331.0 776.3 1331.5 799.5 1332.0 797.1 1332.5 788.3 1333.0 798.7 1333.5 806.3 1334.0 797.3 1334.5 796.8 1335.0 808.3 1335.5 793.9 1336.0 811.8 1336.5 805.2 1337.0 805.9 1337.5 807.8 1338.0 814.9 1338.5 796.1 1339.0 815.3 1339.5 796.1 1340.0 838.6 1340.5 812.8 1341.0 836.3 1341.5 797.2 1342.0 796.5 1342.5 797.8 1343.0 808.3 1343.5 810.3 1344.0 813.9 1344.5 820.4 1345.0 811.1 1345.5 817.9 1346.0 809.1 1346.5 806.9 1347.0 814.6 1347.5 821.5 1348.0 819.9 1348.5 819.8 1349.0 791.5 1349.5 839.9 1350.0 800.4 1350.5 810.8 1351.0 795.8 1351.5 804.8 1352.0 795.0 1352.5 797.4 1353.0 818.6 1353.5 786.8 1354.0 807.1 1354.5 796.5 1355.0 783.1 1355.5 833.0 1356.0 790.7 1356.5 783.2 1357.0 790.7 1357.5 778.6 1358.0 802.6 1358.5 771.5 1359.0 781.4 1359.5 767.3 1360.0 790.1 1360.5 796.2 1361.0 797.5 1361.5 803.6 1362.0 787.9 1362.5 782.9 1363.0 795.6 1363.5 779.5 1364.0 787.6 1364.5 778.3 1365.0 774.4 1365.5 780.9 1366.0 792.2 1366.5 789.9 1367.0 782.0 1367.5 754.4 1368.0 779.9 1368.5 783.0 1369.0 784.1 1369.5 771.3 1370.0 788.1 1370.5 781.5 1371.0 759.9 1371.5 786.8 1372.0 796.5 1372.5 784.2 1373.0 775.3 1373.5 802.5 1374.0 795.9 1374.5 769.3 1375.0 798.9 1375.5 793.3 1376.0 792.8 1376.5 772.9 1377.0 773.9 1377.5 792.4 1378.0 809.9 1378.5 793.0 1379.0 792.7 1379.5 786.3 1380.0 789.3 1380.5 803.5 1381.0 785.8 1381.5 812.0 1382.0 798.0 1382.5 796.0 1383.0 791.0 1383.5 784.3 1384.0 787.7 1384.5 774.4 1385.0 787.7 1385.5 766.5 1386.0 805.3 1386.5 781.3 1387.0 765.6 1387.5 782.5 1388.0 780.9 1388.5 774.6 1389.0 783.5 1389.5 774.3 1390.0 782.5 1390.5 783.8 1391.0 792.2 1391.5 783.7 1392.0 793.6 1392.5 764.2 1393.0 803.8 1393.5 822.5 1394.0 799.7 1394.5 791.7 1395.0 802.3 1395.5 792.2 1396.0 793.2 1396.5 790.2 1397.0 782.2 1397.5 776.8 1398.0 789.4 1398.5 789.2 1399.0 781.7 1399.5 794.5 1400.0 783.7 1400.5 788.1 1401.0 795.1 1401.5 792.2 1402.0 783.8 1402.5 774.9 1403.0 777.6 1403.5 773.5 1404.0 790.1 1404.5 745.2 1405.0 798.3 1405.5 768.0 1406.0 786.1 1406.5 777.6 1407.0 779.8 1407.5 762.1 1408.0 786.2 1408.5 776.7 1409.0 785.8 1409.5 772.6 1410.0 783.9 1410.5 779.6 1411.0 791.8 1411.5 797.2 1412.0 789.6 1412.5 797.0 1413.0 798.0 1413.5 792.2 1414.0 789.6 1414.5 772.3 1415.0 800.5 1415.5 790.3 1416.0 784.8 1416.5 787.9 1417.0 779.6 1417.5 780.9 1418.0 788.5 1418.5 768.8 1419.0 781.3 1419.5 787.6 1420.0 771.0 1420.5 776.6 1421.0 800.6 1421.5 810.7 1422.0 793.0 1422.5 797.2 1423.0 782.6 1423.5 804.6 1424.0 790.8 1424.5 792.0 1425.0 781.7 1425.5 784.3 1426.0 781.9 1426.5 787.2 1427.0 775.4 1427.5 778.2 1428.0 756.4 1428.5 769.6 1429.0 781.7 1429.5 785.9 1430.0 779.0 1430.5 763.1 1431.0 770.9 1431.5 760.1 1432.0 758.7 1432.5 779.2 1433.0 766.6 1433.5 768.1 1434.0 774.5 1434.5 783.3 1435.0 776.8 1435.5 774.6 1436.0 781.5 1436.5 778.4 1437.0 776.8 1437.5 758.6 1438.0 771.9 1438.5 779.2 1439.0 770.2 1439.5 798.0 1440.0 801.9 1440.5 796.7 1441.0 771.7 1441.5 785.6 1442.0 785.2 1442.5 785.0 1443.0 766.4 1443.5 776.9 1444.0 800.0 1444.5 792.3 1445.0 806.1 1445.5 783.5 1446.0 794.2 1446.5 801.0 1447.0 779.9 1447.5 788.0 1448.0 781.9 1448.5 797.4 1449.0 777.2 1449.5 790.6 1450.0 781.7 1450.5 795.0 1451.0 780.9 1451.5 784.2 1452.0 788.4 1452.5 779.0 1453.0 782.9 1453.5 785.7 1454.0 784.5 1454.5 793.3 1455.0 785.0 1455.5 793.2 1456.0 789.4 1456.5 786.2 1457.0 781.6 1457.5 773.9 1458.0 785.1 1458.5 796.8 1459.0 787.5 1459.5 804.6 1460.0 779.4 1460.5 783.9 1461.0 770.9 1461.5 796.0 1462.0 770.6 1462.5 786.9 1463.0 784.5 1463.5 806.4 1464.0 793.7 1464.5 788.3 1465.0 781.9 1465.5 798.8 1466.0 776.9 1466.5 768.0 1467.0 787.8 1467.5 777.6 1468.0 769.9 1468.5 778.0 1469.0 777.3 1469.5 754.7 1470.0 776.2 1470.5 783.9 1471.0 758.5 1471.5 745.4 1472.0 760.3 1472.5 754.5 1473.0 761.6 1473.5 761.6 1474.0 750.6 1474.5 766.2 1475.0 732.8 1475.5 745.4 1476.0 755.1 1476.5 758.7 1477.0 755.7 1477.5 763.1 1478.0 748.3 1478.5 740.6 1479.0 773.2 1479.5 780.0 1480.0 768.6 1480.5 758.2 1481.0 763.3 1481.5 776.2 1482.0 772.1 1482.5 782.3 1483.0 784.9 1483.5 780.1 1484.0 765.1 1484.5 777.1 1485.0 771.4 1485.5 768.4 1486.0 768.2 1486.5 765.8 1487.0 757.0 1487.5 770.9 1488.0 760.1 1488.5 767.5 1489.0 775.9 1489.5 775.8 1490.0 749.9 1490.5 760.8 1491.0 755.8 1491.5 767.9 1492.0 756.5 1492.5 771.0 1493.0 755.3 1493.5 762.0 1494.0 745.6 1494.5 745.5 1495.0 747.7 1495.5 752.6 1496.0 726.4 1496.5 745.6 1497.0 729.5 1497.5 744.5 1498.0 724.7 1498.5 737.5 1499.0 753.0 1499.5 755.2 1500.0 730.9 1500.5 757.2 1501.0 736.7 1501.5 741.8 1502.0 747.4 1502.5 745.1 1503.0 749.5 1503.5 750.2 1504.0 759.3 1504.5 755.6 1505.0 751.6 1505.5 748.1 1506.0 749.4 1506.5 759.8 1507.0 768.3 1507.5 764.7 1508.0 758.7 1508.5 765.6 1509.0 755.6 1509.5 761.7 1510.0 792.0 1510.5 756.3 1511.0 772.6 1511.5 770.2 1512.0 756.1 1512.5 764.2 1513.0 759.2 1513.5 759.7 1514.0 758.8 1514.5 767.7 1515.0 757.6 1515.5 757.1 1516.0 763.1 1516.5 762.9 1517.0 771.2 1517.5 747.3 1518.0 762.3 1518.5 738.8 1519.0 757.4 1519.5 745.3 1520.0 745.7 1520.5 757.8 1521.0 749.3 1521.5 757.6 1522.0 735.1 1522.5 775.2 1523.0 737.1 1523.5 757.1 1524.0 780.5 1524.5 751.5 1525.0 781.3 1525.5 775.8 1526.0 764.6 1526.5 761.9 1527.0 762.8 1527.5 768.4 1528.0 775.5 1528.5 779.4 1529.0 747.1 1529.5 776.7 1530.0 775.3 1530.5 758.1 1531.0 779.2 1531.5 780.3 1532.0 780.9 1532.5 772.2 1533.0 781.3 1533.5 786.1 1534.0 768.8 1534.5 770.8 1535.0 770.3 1535.5 787.5 1536.0 776.4 1536.5 769.0 1537.0 765.9 1537.5 763.2 1538.0 777.2 1538.5 782.8 1539.0 786.7 1539.5 764.7 1540.0 764.8 1540.5 764.8 1541.0 765.5 1541.5 759.0 1542.0 787.9 1542.5 777.3 1543.0 767.6 1543.5 747.4 1544.0 784.6 1544.5 778.5 1545.0 771.8 1545.5 777.1 1546.0 763.5 1546.5 776.2 1547.0 748.9 1547.5 775.0 1548.0 769.8 1548.5 759.7 1549.0 763.0 1549.5 784.8 1550.0 785.1 1550.5 774.7 1551.0 770.5 1551.5 773.3 1552.0 781.4 1552.5 764.2 1553.0 786.0 1553.5 767.6 1554.0 763.0 1554.5 771.7 1555.0 788.3 1555.5 761.0 1556.0 762.0 1556.5 752.4 1557.0 764.4 1557.5 763.4 1558.0 759.9 1558.5 756.0 1559.0 763.6 1559.5 768.4 1560.0 757.2 1560.5 760.2 1561.0 757.5 1561.5 759.2 1562.0 776.8 1562.5 756.1 1563.0 767.7 1563.5 776.1 1564.0 761.2 1564.5 771.5 1565.0 773.0 1565.5 751.9 1566.0 775.4 1566.5 756.5 1567.0 767.8 1567.5 752.3 1568.0 752.0 1568.5 765.6 1569.0 784.1 1569.5 793.6 1570.0 795.7 1570.5 782.3 1571.0 780.3 1571.5 775.6 1572.0 773.7 1572.5 762.6 1573.0 760.2 1573.5 767.2 1574.0 766.1 1574.5 754.3 1575.0 747.5 1575.5 750.9 1576.0 789.5 1576.5 749.9 1577.0 770.3 1577.5 768.0 1578.0 766.6 1578.5 750.3 1579.0 775.9 1579.5 759.2 1580.0 750.5 1580.5 749.3 1581.0 754.6 1581.5 776.3 1582.0 743.0 1582.5 748.6 1583.0 754.9 1583.5 759.1 1584.0 743.5 1584.5 743.7 1585.0 747.5 1585.5 759.0 1586.0 750.5 1586.5 749.8 1587.0 753.9 1587.5 753.3 1588.0 761.8 1588.5 746.4 1589.0 754.5 1589.5 749.4 1590.0 763.9 1590.5 765.8 1591.0 756.2 1591.5 770.3 1592.0 756.9 1592.5 771.7 1593.0 753.4 1593.5 751.4 1594.0 739.6 1594.5 742.3 1595.0 746.7 1595.5 728.4 1596.0 747.5 1596.5 755.0 1597.0 751.3 1597.5 747.4 1598.0 751.6 1598.5 739.2 1599.0 739.4 1599.5 751.4 1600.0 741.0 1600.5 750.8 1601.0 735.5 1601.5 745.6 1602.0 750.1 1602.5 736.6 1603.0 753.6 1603.5 752.3 1604.0 714.1 1604.5 763.8 1605.0 723.1 1605.5 763.3 1606.0 731.2 1606.5 719.6 1607.0 726.7 1607.5 743.8 1608.0 728.6 1608.5 731.8 1609.0 747.8 1609.5 725.0 1610.0 738.4 1610.5 745.3 1611.0 714.6 1611.5 721.2 1612.0 735.2 1612.5 733.7 1613.0 737.6 1613.5 716.5 1614.0 729.1 1614.5 742.5 1615.0 745.7 1615.5 753.5 1616.0 738.4 1616.5 735.8 1617.0 733.8 1617.5 734.2 1618.0 723.0 1618.5 758.7 1619.0 736.9 1619.5 733.3 1620.0 732.8 1620.5 743.2 1621.0 737.8 1621.5 728.5 1622.0 745.4 1622.5 738.0 1623.0 733.6 1623.5 735.6 1624.0 747.4 1624.5 742.9 1625.0 735.1 1625.5 746.0 1626.0 714.4 1626.5 741.6 1627.0 725.5 1627.5 726.3 1628.0 728.8 1628.5 748.1 1629.0 727.2 1629.5 726.5 1630.0 733.1 1630.5 709.4 1631.0 728.7 1631.5 739.9 1632.0 726.1 1632.5 744.0 1633.0 733.4 1633.5 728.5 1634.0 753.7 1634.5 747.6 1635.0 755.5 1635.5 750.9 1636.0 739.5 1636.5 760.3 1637.0 755.0 1637.5 755.3 1638.0 748.1 1638.5 741.8 1639.0 767.2 1639.5 762.0 1640.0 757.4 1640.5 748.3 1641.0 765.6 1641.5 743.2 1642.0 742.8 1642.5 769.9 1643.0 754.2 1643.5 756.3 1644.0 753.5 1644.5 766.1 1645.0 748.6 1645.5 748.5 1646.0 734.0 1646.5 741.5 1647.0 724.8 1647.5 734.3 1648.0 736.1 1648.5 741.4 1649.0 745.8 1649.5 724.5 1650.0 719.3 1650.5 733.4 1651.0 723.8 1651.5 750.2 1652.0 747.8 1652.5 727.9 1653.0 741.4 1653.5 753.3 1654.0 733.6 1654.5 738.9 1655.0 743.9 1655.5 758.5 1656.0 750.3 1656.5 743.8 1657.0 749.7 1657.5 747.3 1658.0 749.1 1658.5 752.6 1659.0 751.0 1659.5 756.0 1660.0 750.9 1660.5 749.3 1661.0 750.3 1661.5 739.1 1662.0 751.1 1662.5 774.3 1663.0 757.7 1663.5 764.4 1664.0 768.9 1664.5 757.3 1665.0 760.3 1665.5 768.5 1666.0 754.8 1666.5 772.9 1667.0 771.4 1667.5 768.0 1668.0 769.1 1668.5 774.5 1669.0 769.2 1669.5 744.8 1670.0 773.9 1670.5 760.0 1671.0 764.0 1671.5 764.2 1672.0 763.3 1672.5 750.0 1673.0 746.2 1673.5 761.7 1674.0 760.6 1674.5 761.7 1675.0 742.8 1675.5 749.4 1676.0 757.2 1676.5 743.6 1677.0 739.1 1677.5 762.1 1678.0 724.7 1678.5 731.3 1679.0 727.2 1679.5 731.9 1680.0 766.5 1680.5 726.7 1681.0 734.8 1681.5 733.4 1682.0 732.4 1682.5 733.0 1683.0 738.1 1683.5 754.0 1684.0 758.4 1684.5 740.9 1685.0 759.6 1685.5 735.0 1686.0 749.7 1686.5 756.4 1687.0 736.4 1687.5 745.4 1688.0 750.0 1688.5 750.4 1689.0 747.5 1689.5 762.7 1690.0 741.5 1690.5 753.9 1691.0 762.3 1691.5 735.5 1692.0 737.2 1692.5 731.0 1693.0 747.7 1693.5 754.5 1694.0 724.1 1694.5 732.0 1695.0 735.0 1695.5 762.2 1696.0 737.2 1696.5 744.3 1697.0 728.9 1697.5 748.8 1698.0 730.3 1698.5 739.7 1699.0 730.5 1699.5 739.7 1700.0 739.3 1700.5 742.8 1701.0 742.6 1701.5 758.1 1702.0 733.9 1702.5 754.0 1703.0 744.6 1703.5 740.2 1704.0 745.3 1704.5 745.2 1705.0 751.1 1705.5 750.9 1706.0 749.0 1706.5 745.3 1707.0 727.0 1707.5 749.6 1708.0 751.0 1708.5 742.6 1709.0 740.5 1709.5 728.0 1710.0 737.3 1710.5 741.6 1711.0 719.8 1711.5 727.3 1712.0 726.5 1712.5 743.9 1713.0 728.6 1713.5 716.7 1714.0 736.7 1714.5 742.0 1714.5 688.0"/>
</g>
<rect x="184" y="56" width="1610" height="1298" fill="none" stroke="#000" stroke-width="9"/>
<path stroke="#000" stroke-width="9.5" fill="none" d="M264.2 1350V1328.5 M425.3 1350V1328.5 M586.5 1350V1328.5 M747.6 1350V1328.5 M908.8 1350V1328.5 M1069.9 1350V1328.5 M1231.0 1350V1328.5 M1392.2 1350V1328.5 M1553.3 1350V1328.5 M1714.5 1350V1328.5 M344.8 1350V1341.5 M505.9 1350V1341.5 M667.0 1350V1341.5 M828.2 1350V1341.5 M989.3 1350V1341.5 M1150.5 1350V1341.5 M1311.6 1350V1341.5 M1472.8 1350V1341.5 M1633.9 1350V1341.5 M188 1094.7H209.5 M188 834.9H209.5 M188 575.1H209.5 M188 315.3H209.5 M188 1224.6H196.5 M188 964.8H196.5 M188 705.0H196.5 M188 445.2H196.5 M188 185.4H196.5"/>
<g font-size="62" fill="#000"><text x="264.2" y="1428.8" text-anchor="middle">0</text><text x="425.3" y="1428.8" text-anchor="middle">200</text><text x="586.5" y="1428.8" text-anchor="middle">400</text><text x="747.6" y="1428.8" text-anchor="middle">600</text><text x="908.8" y="1428.8" text-anchor="middle">800</text><text x="1069.9" y="1428.8" text-anchor="middle">1000</text><text x="1231.0" y="1428.8" text-anchor="middle">1200</text><text x="1392.2" y="1428.8" text-anchor="middle">1400</text><text x="1553.3" y="1428.8" text-anchor="middle">1600</text><text x="1714.5" y="1428.8" text-anchor="middle">1800</text><text x="157" y="1372.3" text-anchor="end">0</text><text x="157" y="1112.5" text-anchor="end">10</text><text x="157" y="852.7" text-anchor="end">20</text><text x="157" y="592.9" text-anchor="end">30</text><text x="157" y="333.1" text-anchor="end">40</text><text x="157" y="73.3" text-anchor="end">50</text></g>
<text x="989" y="1533" font-size="62" text-anchor="middle">Time/s</text>
<text transform="translate(69 704.5) rotate(-90)" font-size="61.2" text-anchor="middle">Coefficient of friction/μ</text>
<rect x="210.5" y="70.5" width="580" height="316" fill="#fff" stroke="#7a7a7a" stroke-width="2.5"/>
<path d="M219 114H356" stroke="#464648" stroke-width="4.5" stroke-linecap="round"/>
<text x="371.5" y="135.2" font-size="61">H13</text>
<path d="M219 191H356" stroke="#ff403c" stroke-width="4.5" stroke-linecap="round"/>
<text x="371.5" y="212.2" font-size="61">Co6</text>
<path d="M219 267.5H356" stroke="#0070e4" stroke-width="4.5" stroke-linecap="round"/>
<text x="371.5" y="288.7" font-size="61">T400</text>
<path d="M219 344H356" stroke="#00a86c" stroke-width="4.5" stroke-linecap="round"/>
<text x="371.5" y="365.2" font-size="61">Ni-based 30WC</text>
</g></svg>
</body></html>
